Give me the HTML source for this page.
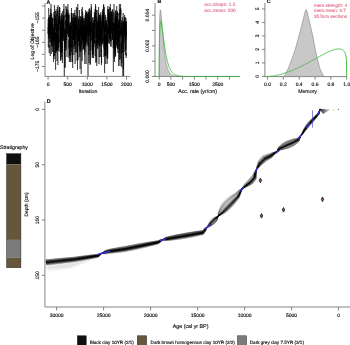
<!DOCTYPE html>
<html><head><meta charset="utf-8"><style>
html,body{margin:0;padding:0;background:#fff;}
svg{display:block;will-change:transform;text-rendering:geometricPrecision;font-family:"Liberation Sans",sans-serif;}
</style></head><body>
<svg width="350" height="345" viewBox="0 0 350 345">
<rect width="350" height="345" fill="#fff"/>
<line x1="45.0" y1="3" x2="45.0" y2="76.4" stroke="#777" stroke-width="0.9"/>
<line x1="45.0" y1="76.4" x2="130.4" y2="76.4" stroke="#777" stroke-width="0.9"/>
<line x1="42.0" y1="6.0" x2="45.0" y2="6.0" stroke="#777" stroke-width="0.9"/>
<line x1="42.0" y1="18.1" x2="45.0" y2="18.1" stroke="#777" stroke-width="0.9"/>
<line x1="42.0" y1="30.2" x2="45.0" y2="30.2" stroke="#777" stroke-width="0.9"/>
<line x1="42.0" y1="42.3" x2="45.0" y2="42.3" stroke="#777" stroke-width="0.9"/>
<line x1="42.0" y1="54.4" x2="45.0" y2="54.4" stroke="#777" stroke-width="0.9"/>
<line x1="42.0" y1="66.5" x2="45.0" y2="66.5" stroke="#777" stroke-width="0.9"/>
<text x="38.0" y="17.8" font-size="5.0" text-anchor="middle" dominant-baseline="central" fill="#111" stroke="#111" stroke-width="0.15" font-weight="normal" transform="rotate(-90 38.0 17.8)">–155</text>
<text x="38.0" y="42.0" font-size="5.0" text-anchor="middle" dominant-baseline="central" fill="#111" stroke="#111" stroke-width="0.15" font-weight="normal" transform="rotate(-90 38.0 42.0)">–165</text>
<text x="38.0" y="66.2" font-size="5.0" text-anchor="middle" dominant-baseline="central" fill="#111" stroke="#111" stroke-width="0.15" font-weight="normal" transform="rotate(-90 38.0 66.2)">–175</text>
<text x="32.8" y="41.3" font-size="5.0" text-anchor="middle" dominant-baseline="central" fill="#111" stroke="#111" stroke-width="0.15" font-weight="normal" transform="rotate(-90 32.8 41.3)">Log of Objective</text>
<line x1="48.1" y1="76.4" x2="48.1" y2="79.6" stroke="#777" stroke-width="0.9"/>
<text x="48.1" y="85.0" font-size="5.0" text-anchor="middle" dominant-baseline="central" fill="#111" stroke="#111" stroke-width="0.15" font-weight="normal">0</text>
<line x1="67.7" y1="76.4" x2="67.7" y2="79.6" stroke="#777" stroke-width="0.9"/>
<text x="67.7" y="85.0" font-size="5.0" text-anchor="middle" dominant-baseline="central" fill="#111" stroke="#111" stroke-width="0.15" font-weight="normal">500</text>
<line x1="87.30000000000001" y1="76.4" x2="87.30000000000001" y2="79.6" stroke="#777" stroke-width="0.9"/>
<text x="87.30000000000001" y="85.0" font-size="5.0" text-anchor="middle" dominant-baseline="central" fill="#111" stroke="#111" stroke-width="0.15" font-weight="normal">1000</text>
<line x1="106.9" y1="76.4" x2="106.9" y2="79.6" stroke="#777" stroke-width="0.9"/>
<text x="106.9" y="85.0" font-size="5.0" text-anchor="middle" dominant-baseline="central" fill="#111" stroke="#111" stroke-width="0.15" font-weight="normal">1500</text>
<line x1="126.5" y1="76.4" x2="126.5" y2="79.6" stroke="#777" stroke-width="0.9"/>
<text x="126.5" y="85.0" font-size="5.0" text-anchor="middle" dominant-baseline="central" fill="#111" stroke="#111" stroke-width="0.15" font-weight="normal">2000</text>
<text x="88" y="91.8" font-size="5.2" text-anchor="middle" dominant-baseline="central" fill="#111" stroke="#111" stroke-width="0.15" font-weight="normal">Iteration</text>
<text x="48.4" y="2.6" font-size="5.3" text-anchor="middle" dominant-baseline="central" fill="#111" stroke="#111" stroke-width="0.15" font-weight="bold">A</text>
<polyline points="48.0,27 48.0,34 48.1,30 48.1,26 48.2,19 48.2,22 48.2,38 48.3,39 48.3,47 48.4,41 48.4,40 48.4,37 48.5,17 48.5,32 48.6,37 48.6,39 48.7,17 48.7,8 48.7,11 48.8,15 48.8,25 48.9,27 48.9,34 48.9,25 49.0,31 49.0,35 49.1,25 49.1,48 49.1,45 49.2,53 49.2,33 49.3,24 49.3,23 49.3,26 49.4,35 49.4,35 49.5,28 49.5,19 49.5,19 49.6,38 49.6,25 49.7,30 49.7,35 49.7,17 49.8,24 49.8,42 49.9,15 49.9,19 50.0,23 50.0,19 50.0,29 50.1,29 50.1,15 50.2,31 50.2,38 50.2,45 50.3,56 50.3,47 50.4,39 50.4,21 50.4,32 50.5,24 50.5,23 50.6,14 50.6,13 50.6,16 50.7,37 50.7,13 50.8,9 50.8,21 50.8,41 50.9,42 50.9,17 51.0,4 51.0,18 51.1,17 51.1,13 51.1,31 51.2,43 51.2,38 51.3,37 51.3,38 51.3,54 51.4,49 51.4,46 51.5,44 51.5,20 51.5,39 51.6,46 51.6,44 51.7,17 51.7,17 51.7,32 51.8,14 51.8,19 51.9,36 51.9,19 51.9,43 52.0,43 52.0,34 52.1,36 52.1,41 52.2,37 52.2,47 52.2,31 52.3,26 52.3,40 52.4,35 52.4,23 52.4,37 52.5,52 52.5,35 52.6,18 52.6,23 52.6,25 52.7,24 52.7,43 52.8,25 52.8,42 52.8,22 52.9,18 52.9,31 53.0,44 53.0,47 53.0,42 53.1,38 53.1,36 53.2,39 53.2,33 53.2,34 53.3,39 53.3,34 53.4,41 53.4,42 53.5,62 53.5,49 53.5,34 53.6,28 53.6,29 53.7,40 53.7,31 53.7,35 53.8,56 53.8,15 53.9,12 53.9,23 53.9,31 54.0,33 54.0,27 54.1,36 54.1,36 54.1,27 54.2,59 54.2,48 54.3,32 54.3,30 54.3,28 54.4,28 54.4,5 54.5,12 54.5,31 54.6,19 54.6,23 54.6,37 54.7,44 54.7,56 54.8,23 54.8,23 54.8,23 54.9,33 54.9,45 55.0,11 55.0,31 55.0,16 55.1,30 55.1,15 55.2,24 55.2,40 55.2,33 55.3,34 55.3,41 55.4,37 55.4,32 55.4,50 55.5,53 55.5,37 55.6,70 55.6,34 55.7,43 55.7,33 55.7,33 55.8,40 55.8,37 55.9,41 55.9,19 55.9,11 56.0,26 56.0,18 56.1,14 56.1,9 56.1,31 56.2,39 56.2,53 56.3,30 56.3,30 56.3,19 56.4,32 56.4,51 56.5,29 56.5,49 56.5,51 56.6,38 56.6,14 56.7,37 56.7,32 56.7,25 56.8,32 56.8,35 56.9,51 56.9,28 57.0,42 57.0,55 57.0,61 57.1,42 57.1,28 57.2,41 57.2,36 57.2,35 57.3,50 57.3,36 57.4,11 57.4,16 57.4,7 57.5,25 57.5,31 57.6,24 57.6,27 57.6,38 57.7,35 57.7,49 57.8,38 57.8,47 57.8,57 57.9,65 57.9,38 58.0,44 58.0,17 58.1,14 58.1,5 58.1,26 58.2,16 58.2,23 58.3,24 58.3,27 58.3,22 58.4,29 58.4,51 58.5,40 58.5,41 58.5,48 58.6,36 58.6,20 58.7,19 58.7,36 58.7,17 58.8,17 58.8,34 58.9,41 58.9,36 58.9,42 59.0,38 59.0,21 59.1,11 59.1,14 59.2,31 59.2,25 59.2,18 59.3,17 59.3,10 59.4,18 59.4,13 59.4,24 59.5,7 59.5,20 59.6,19 59.6,7 59.6,24 59.7,24 59.7,8 59.8,10 59.8,22 59.8,21 59.9,34 59.9,41 60.0,43 60.0,40 60.0,52 60.1,49 60.1,44 60.2,16 60.2,32 60.2,47 60.3,34 60.3,27 60.4,52 60.4,21 60.5,30 60.5,61 60.5,33 60.6,40 60.6,59 60.7,42 60.7,43 60.7,47 60.8,28 60.8,28 60.9,32 60.9,41 60.9,35 61.0,30 61.0,20 61.1,21 61.1,35 61.1,34 61.2,23 61.2,18 61.3,56 61.3,57 61.3,51 61.4,13 61.4,27 61.5,34 61.5,53 61.6,46 61.6,37 61.6,40 61.7,15 61.7,33 61.8,35 61.8,25 61.8,43 61.9,60 61.9,28 62.0,22 62.0,29 62.0,31 62.1,26 62.1,19 62.2,49 62.2,52 62.2,27 62.3,15 62.3,41 62.4,48 62.4,63 62.4,56 62.5,32 62.5,34 62.6,11 62.6,13 62.7,21 62.7,31 62.7,23 62.8,25 62.8,32 62.9,35 62.9,40 62.9,37 63.0,30 63.0,39 63.1,35 63.1,24 63.1,21 63.2,25 63.2,26 63.3,30 63.3,30 63.3,32 63.4,29 63.4,17 63.5,28 63.5,41 63.5,40 63.6,33 63.6,37 63.7,23 63.7,9 63.7,19 63.8,16 63.8,30 63.9,19 63.9,4 64.0,7 64.0,33 64.0,27 64.1,15 64.1,15 64.2,27 64.2,34 64.2,34 64.3,76 64.3,76 64.4,39 64.4,41 64.4,57 64.5,55 64.5,55 64.6,29 64.6,28 64.6,37 64.7,30 64.7,43 64.8,43 64.8,48 64.8,36 64.9,67 64.9,64 65.0,43 65.0,37 65.1,68 65.1,43 65.1,47 65.2,51 65.2,40 65.3,22 65.3,28 65.3,33 65.4,45 65.4,47 65.5,38 65.5,44 65.5,44 65.6,39 65.6,35 65.7,30 65.7,38 65.7,23 65.8,20 65.8,25 65.9,14 65.9,17 65.9,6 66.0,11 66.0,25 66.1,34 66.1,31 66.1,28 66.2,15 66.2,43 66.3,42 66.3,50 66.4,29 66.4,28 66.4,12 66.5,28 66.5,40 66.6,16 66.6,22 66.6,33 66.7,14 66.7,7 66.8,8 66.8,13 66.8,9 66.9,19 66.9,27 67.0,35 67.0,41 67.0,54 67.1,57 67.1,27 67.2,24 67.2,17 67.2,13 67.3,20 67.3,25 67.4,33 67.4,16 67.5,12 67.5,20 67.5,23 67.6,23 67.6,26 67.7,20 67.7,32 67.7,35 67.8,32 67.8,24 67.9,25 67.9,4 67.9,8 68.0,18 68.0,10 68.1,21 68.1,27 68.1,15 68.2,20 68.2,22 68.3,31 68.3,37 68.3,33 68.4,23 68.4,25 68.5,27 68.5,37 68.6,37 68.6,25 68.6,15 68.7,18 68.7,17 68.8,13 68.8,20 68.8,20 68.9,26 68.9,34 69.0,27 69.0,58 69.0,39 69.1,48 69.1,40 69.2,49 69.2,15 69.2,15 69.3,24 69.3,34 69.4,62 69.4,49 69.4,56 69.5,52 69.5,53 69.6,47 69.6,36 69.6,39 69.7,23 69.7,40 69.8,24 69.8,29 69.9,56 69.9,39 69.9,35 70.0,46 70.0,38 70.1,25 70.1,30 70.1,37 70.2,42 70.2,27 70.3,50 70.3,62 70.3,45 70.4,40 70.4,30 70.5,47 70.5,30 70.5,38 70.6,28 70.6,22 70.7,34 70.7,48 70.7,38 70.8,27 70.8,37 70.9,33 70.9,35 71.0,51 71.0,55 71.0,35 71.1,62 71.1,45 71.2,47 71.2,31 71.2,30 71.3,13 71.3,41 71.4,52 71.4,27 71.4,14 71.5,8 71.5,29 71.6,25 71.6,27 71.6,25 71.7,26 71.7,17 71.8,24 71.8,13 71.8,20 71.9,28 71.9,34 72.0,30 72.0,21 72.1,27 72.1,23 72.1,45 72.2,47 72.2,37 72.3,28 72.3,22 72.3,17 72.4,20 72.4,28 72.5,35 72.5,39 72.5,62 72.6,36 72.6,33 72.7,68 72.7,26 72.7,23 72.8,28 72.8,31 72.9,35 72.9,30 72.9,34 73.0,33 73.0,40 73.1,16 73.1,14 73.1,22 73.2,16 73.2,13 73.3,27 73.3,22 73.4,33 73.4,40 73.4,38 73.5,40 73.5,34 73.6,18 73.6,23 73.6,31 73.7,25 73.7,26 73.8,37 73.8,24 73.8,34 73.9,55 73.9,35 74.0,34 74.0,30 74.0,49 74.1,43 74.1,47 74.2,30 74.2,30 74.2,30 74.3,13 74.3,36 74.4,44 74.4,18 74.5,32 74.5,29 74.5,35 74.6,37 74.6,18 74.7,22 74.7,43 74.7,30 74.8,20 74.8,12 74.9,10 74.9,22 74.9,46 75.0,43 75.0,39 75.1,64 75.1,39 75.1,27 75.2,34 75.2,39 75.3,23 75.3,15 75.3,25 75.4,30 75.4,17 75.5,21 75.5,20 75.6,30 75.6,29 75.6,28 75.7,25 75.7,40 75.8,52 75.8,36 75.8,43 75.9,28 75.9,30 76.0,38 76.0,53 76.0,36 76.1,32 76.1,33 76.2,17 76.2,23 76.2,20 76.3,29 76.3,18 76.4,7 76.4,18 76.4,26 76.5,22 76.5,36 76.6,30 76.6,24 76.6,32 76.7,16 76.7,16 76.8,22 76.8,35 76.9,31 76.9,34 76.9,25 77.0,31 77.0,51 77.1,32 77.1,61 77.1,37 77.2,33 77.2,34 77.3,44 77.3,23 77.3,8 77.4,24 77.4,36 77.5,40 77.5,70 77.5,51 77.6,43 77.6,48 77.7,43 77.7,58 77.7,29 77.8,25 77.8,4 77.9,20 77.9,21 78.0,35 78.0,60 78.0,44 78.1,34 78.1,27 78.2,20 78.2,19 78.2,31 78.3,31 78.3,31 78.4,29 78.4,40 78.4,41 78.5,34 78.5,39 78.6,33 78.6,20 78.6,41 78.7,41 78.7,25 78.8,40 78.8,39 78.8,18 78.9,42 78.9,40 79.0,46 79.0,40 79.1,33 79.1,16 79.1,33 79.2,32 79.2,28 79.3,33 79.3,32 79.3,39 79.4,30 79.4,30 79.5,10 79.5,15 79.5,29 79.6,45 79.6,33 79.7,30 79.7,49 79.7,35 79.8,41 79.8,57 79.9,43 79.9,52 79.9,32 80.0,33 80.0,31 80.1,32 80.1,44 80.1,69 80.2,40 80.2,28 80.3,35 80.3,21 80.4,31 80.4,37 80.4,30 80.5,36 80.5,17 80.6,31 80.6,16 80.6,16 80.7,17 80.7,20 80.8,34 80.8,33 80.8,27 80.9,35 80.9,52 81.0,40 81.0,39 81.0,50 81.1,43 81.1,22 81.2,56 81.2,74 81.2,26 81.3,28 81.3,33 81.4,43 81.4,45 81.5,34 81.5,21 81.5,26 81.6,40 81.6,23 81.7,17 81.7,23 81.7,9 81.8,16 81.8,19 81.9,29 81.9,22 81.9,17 82.0,20 82.0,24 82.1,20 82.1,25 82.1,36 82.2,47 82.2,61 82.3,35 82.3,28 82.3,7 82.4,37 82.4,26 82.5,27 82.5,34 82.5,18 82.6,29 82.6,29 82.7,12 82.7,23 82.8,40 82.8,16 82.8,31 82.9,33 82.9,37 83.0,38 83.0,50 83.0,37 83.1,44 83.1,32 83.2,39 83.2,26 83.2,27 83.3,49 83.3,45 83.4,35 83.4,21 83.4,18 83.5,25 83.5,38 83.6,39 83.6,41 83.6,35 83.7,49 83.7,34 83.8,26 83.8,38 83.9,35 83.9,29 83.9,24 84.0,24 84.0,34 84.1,36 84.1,20 84.1,29 84.2,32 84.2,21 84.3,33 84.3,29 84.3,26 84.4,37 84.4,50 84.5,31 84.5,36 84.5,23 84.6,55 84.6,36 84.7,47 84.7,31 84.7,40 84.8,64 84.8,18 84.9,19 84.9,30 85.0,29 85.0,23 85.0,52 85.1,41 85.1,18 85.2,33 85.2,15 85.2,34 85.3,26 85.3,29 85.4,45 85.4,38 85.4,20 85.5,10 85.5,31 85.6,39 85.6,26 85.6,37 85.7,39 85.7,42 85.8,13 85.8,18 85.8,34 85.9,40 85.9,46 86.0,13 86.0,22 86.0,31 86.1,64 86.1,34 86.2,28 86.2,30 86.3,40 86.3,30 86.3,43 86.4,28 86.4,32 86.5,25 86.5,29 86.5,23 86.6,12 86.6,31 86.7,34 86.7,26 86.7,30 86.8,42 86.8,25 86.9,26 86.9,34 86.9,38 87.0,30 87.0,11 87.1,32 87.1,35 87.1,32 87.2,28 87.2,32 87.3,26 87.3,18 87.4,17 87.4,17 87.4,18 87.5,13 87.5,27 87.6,16 87.6,29 87.6,19 87.7,28 87.7,45 87.8,40 87.8,27 87.8,29 87.9,31 87.9,14 88.0,16 88.0,76 88.0,22 88.1,27 88.1,37 88.2,42 88.2,47 88.2,45 88.3,34 88.3,32 88.4,28 88.4,26 88.5,26 88.5,12 88.5,17 88.6,23 88.6,17 88.7,23 88.7,32 88.7,29 88.8,55 88.8,15 88.9,20 88.9,9 88.9,28 89.0,63 89.0,18 89.1,25 89.1,33 89.1,28 89.2,35 89.2,11 89.3,28 89.3,33 89.3,32 89.4,25 89.4,34 89.5,27 89.5,31 89.5,25 89.6,8 89.6,17 89.7,25 89.7,36 89.8,24 89.8,26 89.8,35 89.9,34 89.9,47 90.0,65 90.0,35 90.0,14 90.1,30 90.1,48 90.2,51 90.2,50 90.2,32 90.3,24 90.3,37 90.4,24 90.4,10 90.4,11 90.5,48 90.5,64 90.6,37 90.6,26 90.6,30 90.7,22 90.7,41 90.8,34 90.8,21 90.9,40 90.9,28 90.9,32 91.0,31 91.0,27 91.1,32 91.1,24 91.1,10 91.2,4 91.2,5 91.3,10 91.3,19 91.3,25 91.4,33 91.4,33 91.5,23 91.5,20 91.5,7 91.6,15 91.6,27 91.7,34 91.7,31 91.7,29 91.8,40 91.8,35 91.9,41 91.9,42 92.0,39 92.0,50 92.0,33 92.1,28 92.1,21 92.2,18 92.2,41 92.2,58 92.3,43 92.3,43 92.4,51 92.4,50 92.4,55 92.5,27 92.5,22 92.6,31 92.6,48 92.6,40 92.7,25 92.7,24 92.8,20 92.8,17 92.8,40 92.9,28 92.9,29 93.0,56 93.0,58 93.0,47 93.1,31 93.1,35 93.2,53 93.2,49 93.3,55 93.3,43 93.3,43 93.4,34 93.4,37 93.5,49 93.5,23 93.5,26 93.6,31 93.6,24 93.7,24 93.7,36 93.7,58 93.8,51 93.8,44 93.9,20 93.9,47 93.9,39 94.0,34 94.0,20 94.1,25 94.1,17 94.1,24 94.2,32 94.2,31 94.3,34 94.3,23 94.4,43 94.4,29 94.4,12 94.5,19 94.5,17 94.6,14 94.6,18 94.6,27 94.7,17 94.7,22 94.8,42 94.8,44 94.8,35 94.9,34 94.9,31 95.0,30 95.0,38 95.0,33 95.1,9 95.1,18 95.2,16 95.2,29 95.2,23 95.3,28 95.3,56 95.4,30 95.4,19 95.4,11 95.5,4 95.5,4 95.6,16 95.6,17 95.7,7 95.7,6 95.7,22 95.8,18 95.8,20 95.9,28 95.9,45 95.9,63 96.0,59 96.0,45 96.1,40 96.1,58 96.1,62 96.2,41 96.2,41 96.3,39 96.3,35 96.3,27 96.4,16 96.4,17 96.5,10 96.5,31 96.5,37 96.6,21 96.6,41 96.7,46 96.7,18 96.8,44 96.8,47 96.8,66 96.9,32 96.9,37 97.0,38 97.0,36 97.0,35 97.1,45 97.1,21 97.2,14 97.2,10 97.2,14 97.3,16 97.3,26 97.4,31 97.4,31 97.4,23 97.5,22 97.5,36 97.6,42 97.6,37 97.6,30 97.7,49 97.7,32 97.8,38 97.8,48 97.9,36 97.9,43 97.9,24 98.0,38 98.0,36 98.1,17 98.1,30 98.1,21 98.2,40 98.2,27 98.3,27 98.3,31 98.3,27 98.4,31 98.4,25 98.5,35 98.5,32 98.5,34 98.6,7 98.6,29 98.7,30 98.7,13 98.7,22 98.8,31 98.8,43 98.9,24 98.9,45 98.9,35 99.0,64 99.0,44 99.1,45 99.1,33 99.2,20 99.2,37 99.2,44 99.3,57 99.3,54 99.4,34 99.4,16 99.4,16 99.5,17 99.5,15 99.6,28 99.6,33 99.6,28 99.7,31 99.7,29 99.8,32 99.8,40 99.8,46 99.9,30 99.9,15 100.0,38 100.0,35 100.0,46 100.1,20 100.1,22 100.2,26 100.2,14 100.3,17 100.3,31 100.3,43 100.4,57 100.4,32 100.5,17 100.5,29 100.5,40 100.6,37 100.6,20 100.7,33 100.7,41 100.7,42 100.8,30 100.8,34 100.9,41 100.9,29 100.9,12 101.0,24 101.0,32 101.1,31 101.1,41 101.1,29 101.2,28 101.2,26 101.3,34 101.3,52 101.4,37 101.4,60 101.4,65 101.5,57 101.5,50 101.6,63 101.6,43 101.6,35 101.7,21 101.7,31 101.8,46 101.8,44 101.8,42 101.9,34 101.9,34 102.0,17 102.0,35 102.0,28 102.1,18 102.1,17 102.2,15 102.2,31 102.2,43 102.3,22 102.3,36 102.4,44 102.4,30 102.4,15 102.5,15 102.5,16 102.6,26 102.6,24 102.7,9 102.7,21 102.7,11 102.8,29 102.8,18 102.9,17 102.9,15 102.9,17 103.0,37 103.0,44 103.1,44 103.1,41 103.1,19 103.2,19 103.2,19 103.3,15 103.3,27 103.3,21 103.4,19 103.4,14 103.5,5 103.5,21 103.5,41 103.6,37 103.6,23 103.7,4 103.7,17 103.8,36 103.8,36 103.8,44 103.9,56 103.9,57 104.0,37 104.0,46 104.0,48 104.1,22 104.1,22 104.2,13 104.2,20 104.2,31 104.3,20 104.3,7 104.4,30 104.4,34 104.4,50 104.5,25 104.5,39 104.6,62 104.6,73 104.6,47 104.7,41 104.7,34 104.8,44 104.8,50 104.9,40 104.9,21 104.9,33 105.0,27 105.0,35 105.1,36 105.1,53 105.1,56 105.2,37 105.2,37 105.3,56 105.3,36 105.3,38 105.4,48 105.4,55 105.5,48 105.5,24 105.5,15 105.6,25 105.6,31 105.7,64 105.7,35 105.7,46 105.8,47 105.8,20 105.9,17 105.9,25 105.9,22 106.0,25 106.0,32 106.1,23 106.1,31 106.2,24 106.2,21 106.2,31 106.3,25 106.3,30 106.4,50 106.4,40 106.4,33 106.5,40 106.5,31 106.6,43 106.6,23 106.6,33 106.7,26 106.7,20 106.8,45 106.8,28 106.8,50 106.9,48 106.9,58 107.0,31 107.0,45 107.0,56 107.1,41 107.1,34 107.2,64 107.2,48 107.3,34 107.3,25 107.3,32 107.4,35 107.4,34 107.5,54 107.5,37 107.5,39 107.6,53 107.6,29 107.7,42 107.7,59 107.7,28 107.8,18 107.8,14 107.9,6 107.9,21 107.9,9 108.0,23 108.0,43 108.1,19 108.1,21 108.1,9 108.2,26 108.2,21 108.3,22 108.3,27 108.4,34 108.4,28 108.4,29 108.5,24 108.5,28 108.6,18 108.6,24 108.6,10 108.7,15 108.7,43 108.8,37 108.8,20 108.8,28 108.9,19 108.9,10 109.0,13 109.0,28 109.0,33 109.1,31 109.1,21 109.2,15 109.2,37 109.2,36 109.3,23 109.3,8 109.4,7 109.4,44 109.4,24 109.5,26 109.5,30 109.6,28 109.6,26 109.7,15 109.7,13 109.7,39 109.8,26 109.8,38 109.9,17 109.9,20 109.9,28 110.0,41 110.0,23 110.1,33 110.1,36 110.1,25 110.2,33 110.2,22 110.3,18 110.3,24 110.3,4 110.4,14 110.4,13 110.5,8 110.5,14 110.5,30 110.6,26 110.6,42 110.7,23 110.7,14 110.8,38 110.8,39 110.8,46 110.9,28 110.9,38 111.0,37 111.0,41 111.0,36 111.1,47 111.1,31 111.2,21 111.2,12 111.2,32 111.3,23 111.3,17 111.4,14 111.4,18 111.4,12 111.5,18 111.5,18 111.6,18 111.6,15 111.6,22 111.7,22 111.7,27 111.8,31 111.8,34 111.8,11 111.9,15 111.9,15 112.0,30 112.0,15 112.1,15 112.1,19 112.1,21 112.2,36 112.2,28 112.3,40 112.3,20 112.3,9 112.4,31 112.4,35 112.5,38 112.5,35 112.5,38 112.6,21 112.6,36 112.7,27 112.7,40 112.7,36 112.8,14 112.8,10 112.9,31 112.9,29 112.9,25 113.0,30 113.0,26 113.1,22 113.1,27 113.2,30 113.2,48 113.2,39 113.3,59 113.3,69 113.4,72 113.4,64 113.4,47 113.5,40 113.5,33 113.6,24 113.6,26 113.6,22 113.7,45 113.7,43 113.8,31 113.8,12 113.8,20 113.9,21 113.9,15 114.0,12 114.0,4 114.0,20 114.1,24 114.1,59 114.2,43 114.2,35 114.3,50 114.3,41 114.3,37 114.4,29 114.4,23 114.5,44 114.5,49 114.5,62 114.6,40 114.6,35 114.7,23 114.7,37 114.7,19 114.8,30 114.8,43 114.9,54 114.9,30 114.9,43 115.0,28 115.0,21 115.1,13 115.1,33 115.1,52 115.2,33 115.2,24 115.3,23 115.3,57 115.3,56 115.4,36 115.4,15 115.5,16 115.5,35 115.6,56 115.6,39 115.6,27 115.7,23 115.7,10 115.8,28 115.8,18 115.8,35 115.9,16 115.9,11 116.0,23 116.0,19 116.0,32 116.1,31 116.1,19 116.2,31 116.2,40 116.2,16 116.3,43 116.3,42 116.4,45 116.4,18 116.4,17 116.5,20 116.5,36 116.6,18 116.6,16 116.7,6 116.7,14 116.7,25 116.8,12 116.8,15 116.9,27 116.9,47 116.9,47 117.0,34 117.0,20 117.1,16 117.1,16 117.1,24 117.2,27 117.2,48 117.3,42 117.3,24 117.3,45 117.4,49 117.4,40 117.5,27 117.5,11 117.5,11 117.6,29 117.6,21 117.7,13 117.7,23 117.8,29 117.8,36 117.8,41 117.9,53 117.9,31 118.0,42 118.0,25 118.0,35 118.1,35 118.1,35 118.2,44 118.2,37 118.2,47 118.3,49 118.3,41 118.4,29 118.4,22 118.4,21 118.5,23 118.5,26 118.6,66 118.6,55 118.6,52 118.7,30 118.7,23 118.8,23 118.8,28 118.8,19 118.9,42 118.9,30 119.0,42 119.0,13 119.1,21 119.1,28 119.1,31 119.2,37 119.2,37 119.3,35 119.3,14 119.3,15 119.4,4 119.4,21 119.5,28 119.5,27 119.5,20 119.6,19 119.6,46 119.7,60 119.7,43 119.7,53 119.8,23 119.8,9 119.9,14 119.9,14 119.9,16 120.0,25 120.0,66 120.1,38 120.1,35 120.2,35 120.2,32 120.2,42 120.3,59 120.3,29 120.4,31 120.4,28 120.4,33 120.5,16 120.5,8 120.6,4 120.6,18 120.6,25 120.7,28 120.7,8 120.8,15 120.8,15 120.8,10 120.9,11 120.9,27 121.0,34 121.0,32 121.0,37 121.1,27 121.1,29 121.2,30 121.2,36 121.3,32 121.3,30 121.3,28 121.4,23 121.4,53 121.5,47 121.5,44 121.5,67 121.6,67 121.6,29 121.7,37 121.7,44 121.7,61 121.8,63 121.8,55 121.9,28 121.9,20 121.9,28 122.0,34 122.0,22 122.1,22 122.1,22 122.1,26 122.2,32 122.2,28 122.3,17 122.3,36 122.3,53 122.4,40 122.4,47 122.5,44 122.5,45 122.6,43 122.6,28 122.6,35 122.7,45 122.7,27 122.8,52 122.8,70 122.8,75 122.9,76 122.9,63 123.0,41 123.0,29 123.0,21 123.1,27 123.1,28 123.2,36 123.2,13 123.2,47 123.3,69 123.3,48 123.4,47 123.4,44 123.4,40 123.5,32 123.5,30 123.6,21 123.6,76 123.7,28 123.7,33 123.7,22 123.8,27 123.8,29 123.9,36 123.9,22 123.9,30 124.0,42 124.0,43 124.1,32 124.1,26 124.1,25 124.2,36 124.2,52 124.3,39 124.3,27 124.3,33 124.4,34 124.4,22 124.5,19 124.5,23 124.5,34 124.6,20 124.6,15 124.7,27 124.7,17 124.8,24 124.8,31 124.8,29 124.9,19 124.9,24 125.0,23 125.0,30 125.0,22 125.1,38 125.1,17 125.2,21 125.2,26 125.2,39 125.3,28 125.3,35 125.4,26 125.4,36 125.4,55 125.5,37 125.5,39 125.6,24 125.6,38 125.6,49 125.7,39 125.7,22 125.8,30 125.8,44 125.8,50 125.9,50 125.9,20 126.0,18 126.0,40 126.1,22 126.1,38 126.1,58 126.2,53 126.2,56 126.3,38 126.3,21 126.3,24 126.4,25 126.4,27 126.5,36 126.5,31" fill="none" stroke="#000" stroke-width="0.5"/>
<line x1="155" y1="3" x2="155" y2="76.5" stroke="#777" stroke-width="0.9"/>
<line x1="152" y1="76.5" x2="155" y2="76.5" stroke="#777" stroke-width="0.9"/>
<line x1="152" y1="61.17" x2="155" y2="61.17" stroke="#777" stroke-width="0.9"/>
<line x1="152" y1="45.84" x2="155" y2="45.84" stroke="#777" stroke-width="0.9"/>
<line x1="152" y1="30.509999999999998" x2="155" y2="30.509999999999998" stroke="#777" stroke-width="0.9"/>
<line x1="152" y1="15.18" x2="155" y2="15.18" stroke="#777" stroke-width="0.9"/>
<text x="148.3" y="76.5" font-size="5.0" text-anchor="middle" dominant-baseline="central" fill="#111" stroke="#111" stroke-width="0.15" font-weight="normal" transform="rotate(-90 148.3 76.5)">0.000</text>
<text x="148.3" y="45.84" font-size="5.0" text-anchor="middle" dominant-baseline="central" fill="#111" stroke="#111" stroke-width="0.15" font-weight="normal" transform="rotate(-90 148.3 45.84)">0.002</text>
<text x="148.3" y="15.18" font-size="5.0" text-anchor="middle" dominant-baseline="central" fill="#111" stroke="#111" stroke-width="0.15" font-weight="normal" transform="rotate(-90 148.3 15.18)">0.004</text>
<line x1="155" y1="76.5" x2="240" y2="76.5" stroke="#777" stroke-width="0.9"/>
<line x1="159.2" y1="76.5" x2="159.2" y2="79.6" stroke="#777" stroke-width="0.9"/>
<line x1="170.89999999999998" y1="76.5" x2="170.89999999999998" y2="79.6" stroke="#777" stroke-width="0.9"/>
<line x1="182.6" y1="76.5" x2="182.6" y2="79.6" stroke="#777" stroke-width="0.9"/>
<line x1="194.29999999999998" y1="76.5" x2="194.29999999999998" y2="79.6" stroke="#777" stroke-width="0.9"/>
<line x1="206.0" y1="76.5" x2="206.0" y2="79.6" stroke="#777" stroke-width="0.9"/>
<line x1="217.7" y1="76.5" x2="217.7" y2="79.6" stroke="#777" stroke-width="0.9"/>
<line x1="229.39999999999998" y1="76.5" x2="229.39999999999998" y2="79.6" stroke="#777" stroke-width="0.9"/>
<text x="159.2" y="85.3" font-size="5.0" text-anchor="middle" dominant-baseline="central" fill="#111" stroke="#111" stroke-width="0.15" font-weight="normal">0</text>
<text x="170.89999999999998" y="85.3" font-size="5.0" text-anchor="middle" dominant-baseline="central" fill="#111" stroke="#111" stroke-width="0.15" font-weight="normal">500</text>
<text x="194.29999999999998" y="85.3" font-size="5.0" text-anchor="middle" dominant-baseline="central" fill="#111" stroke="#111" stroke-width="0.15" font-weight="normal">1500</text>
<text x="217.7" y="85.3" font-size="5.0" text-anchor="middle" dominant-baseline="central" fill="#111" stroke="#111" stroke-width="0.15" font-weight="normal">2500</text>
<text x="197.6" y="92.3" font-size="5.3" text-anchor="middle" dominant-baseline="central" fill="#111" stroke="#111" stroke-width="0.15" font-weight="normal">Acc. rate (yr/cm)</text>
<text x="159.5" y="2.2" font-size="5.3" text-anchor="middle" dominant-baseline="central" fill="#111" stroke="#111" stroke-width="0.15" font-weight="bold">B</text>
<polygon points="159.2,76.5 159.20,76.50 159.39,35.85 159.57,23.43 159.76,16.51 159.95,12.55 160.14,10.50 160.32,9.76 160.51,9.95 160.70,10.83 160.88,12.20 161.07,13.93 161.26,15.92 161.45,18.09 161.63,20.38 161.82,22.74 162.01,25.13 162.20,27.53 162.38,29.90 162.57,32.24 162.76,34.52 162.94,36.74 163.13,38.89 163.32,40.97 163.51,42.96 163.69,44.87 163.88,46.70 164.07,48.45 164.25,50.11 164.44,51.69 164.63,53.20 164.82,54.62 165.00,55.97 165.19,57.24 165.38,58.45 165.56,59.59 165.75,60.66 165.94,61.67 166.13,62.62 166.31,63.52 166.50,64.36 166.69,65.15 166.88,65.89 167.06,66.59 167.25,67.24 167.44,67.85 167.62,68.43 167.81,68.97 168.00,69.47 168.19,69.94 168.37,70.38 168.56,70.80 168.75,71.18 168.93,71.54 169.12,71.88 169.31,72.20 169.50,72.49 169.68,72.77 169.87,73.02 170.06,73.26 170.24,73.48 170.43,73.69 170.62,73.89 170.81,74.07 170.99,74.24 171.18,74.39 171.37,74.54 171.56,74.68 171.74,74.81 171.93,74.92 172.12,75.03 172.30,75.14 172.49,75.23 172.68,75.32 172.87,75.41 173.05,75.48 173.24,75.55 173.43,75.62 173.61,75.68 173.80,75.74 173.99,75.80 174.18,75.85 174.36,75.89 174.55,75.94 174.74,75.98 174.92,76.01 175.11,76.05 175.30,76.08 175.49,76.11 175.67,76.14 175.86,76.16 176.05,76.19 176.24,76.21 176.42,76.23 176.61,76.25 176.80,76.27 176.98,76.29 177.17,76.30 177.36,76.32 177.55,76.33 177.73,76.34 177.92,76.35 178.11,76.36 178.29,76.37 178.48,76.38 178.67,76.39 178.86,76.40 179.04,76.41 179.23,76.41 179.42,76.42 179.60,76.42 179.79,76.43 179.98,76.44 180.17,76.44 180.35,76.44 180.54,76.45 180.73,76.45 180.92,76.46 181.10,76.46 181.29,76.46 181.48,76.46 181.66,76.47 181.85,76.47 182.04,76.47 182.23,76.47 182.41,76.48 182.60,76.48 182.79,76.48 182.97,76.48 183.16,76.48 183.35,76.48 183.54,76.48 183.72,76.49 183.91,76.49 184.10,76.49 184.28,76.49 184.47,76.49 184.66,76.49 184.85,76.49 185.03,76.49 185.22,76.49 185.41,76.49 185.60,76.49 185.78,76.49 185.97,76.49 186.16,76.49 186.34,76.50 186.53,76.50 186.72,76.50 186.91,76.50 187.09,76.50 187.28,76.50 187.47,76.50 187.65,76.50 187.84,76.50 188.03,76.50 188.22,76.50 188.40,76.50 188.59,76.50 188.78,76.50 188.96,76.50 189.15,76.50 189.34,76.50 189.53,76.50 189.71,76.50 189.90,76.50 190.09,76.50 190.28,76.50 190.46,76.50 190.65,76.50 190.84,76.50 191.02,76.50 191.21,76.50 191.40,76.50 191.59,76.50 191.77,76.50 191.96,76.50 192.15,76.50 192.33,76.50 192.52,76.50 192.71,76.50 192.90,76.50 193.08,76.50 193.27,76.50 193.46,76.50 193.64,76.50 193.83,76.50 194.02,76.50 194.21,76.50 194.39,76.50 194.58,76.50 194.77,76.50 194.96,76.50 195.14,76.50 195.33,76.50 195.52,76.50 195.70,76.50 195.89,76.50 196.08,76.50 196.27,76.50 196.45,76.50 196.64,76.50 196.83,76.50 197.01,76.50 197.20,76.50 197.39,76.50 197.58,76.50 197.76,76.50 197.95,76.50 198.14,76.50 198.32,76.50 198.51,76.50 198.70,76.50 198.89,76.50 199.07,76.50 199.26,76.50 199.45,76.50 199.64,76.50 199.82,76.50 200.01,76.50 200.20,76.50 200.38,76.50 200.57,76.50 200.76,76.50 200.95,76.50 201.13,76.50 201.32,76.50 201.51,76.50 201.69,76.50 201.88,76.50 202.07,76.50 202.26,76.50 202.44,76.50 202.63,76.50 202.82,76.50 203.00,76.50 203.19,76.50 203.38,76.50 203.57,76.50 203.75,76.50 203.94,76.50 204.13,76.50 204.32,76.50 204.50,76.50 204.69,76.50 204.88,76.50 205.06,76.50 205.25,76.50 205.44,76.50 205.63,76.50 205.81,76.50 206.00,76.50 206.19,76.50 206.37,76.50 206.56,76.50 206.75,76.50 206.94,76.50 207.12,76.50 207.31,76.50 207.50,76.50 207.68,76.50 207.87,76.50 208.06,76.50 208.25,76.50 208.43,76.50 208.62,76.50 208.81,76.50 209.00,76.50 209.18,76.50 209.37,76.50 209.56,76.50 209.74,76.50 209.93,76.50 210.12,76.50 210.31,76.50 210.49,76.50 210.68,76.50 210.87,76.50 211.05,76.50 211.24,76.50 211.43,76.50 211.62,76.50 211.80,76.50 211.99,76.50 212.18,76.50 212.36,76.50 212.55,76.50 212.74,76.50 212.93,76.50 213.11,76.50 213.30,76.50 213.49,76.50 213.68,76.50 213.86,76.50 214.05,76.50 214.24,76.50 214.42,76.50 214.61,76.50 214.80,76.50 214.99,76.50 215.17,76.50 215.36,76.50 215.55,76.50 215.73,76.50 215.92,76.50 216.11,76.50 216.30,76.50 216.48,76.50 216.67,76.50 216.86,76.50 217.04,76.50 217.23,76.50 217.42,76.50 217.61,76.50 217.79,76.50 217.98,76.50 218.17,76.50 218.36,76.50 218.54,76.50 218.73,76.50 218.92,76.50 219.10,76.50 219.29,76.50 219.48,76.50 219.67,76.50 219.85,76.50 220.04,76.50 220.23,76.50 220.41,76.50 220.60,76.50 220.79,76.50 220.98,76.50 221.16,76.50 221.35,76.50 221.54,76.50 221.72,76.50 221.91,76.50 222.10,76.50 222.29,76.50 222.47,76.50 222.66,76.50 222.85,76.50 223.04,76.50 223.22,76.50 223.41,76.50 223.60,76.50 223.78,76.50 223.97,76.50 224.16,76.50 224.35,76.50 224.53,76.50 224.72,76.50 224.91,76.50 225.09,76.50 225.28,76.50 225.47,76.50 225.66,76.50 225.84,76.50 226.03,76.50 226.22,76.50 226.40,76.50 226.59,76.50 226.78,76.50 226.97,76.50 227.15,76.50 227.34,76.50 227.53,76.50 227.72,76.50 227.90,76.50 228.09,76.50 228.28,76.50 228.46,76.50 228.65,76.50 228.84,76.50 229.03,76.50 229.21,76.50 229.40,76.50 229.59,76.50 229.77,76.50 229.96,76.50 230.15,76.50 230.34,76.50 230.52,76.50 230.71,76.50 230.90,76.50 231.08,76.50 231.27,76.50 231.46,76.50 231.65,76.50 231.83,76.50 232.02,76.50 232.21,76.50 232.40,76.50 232.58,76.50 232.77,76.50 232.96,76.50 233.14,76.50 233.33,76.50 233.52,76.50 233.71,76.50 233.89,76.50 234.08,76.5" fill="#c8c8c8" stroke="#707070" stroke-width="0.5"/>
<polyline points="159.20,76.50 159.39,46.57 159.57,36.64 159.76,30.53 159.95,26.50 160.14,23.86 160.32,22.19 160.51,21.26 160.70,20.88 160.88,20.94 161.07,21.35 161.26,22.03 161.45,22.92 161.63,23.98 161.82,25.17 162.01,26.46 162.20,27.83 162.38,29.25 162.57,30.71 162.76,32.20 162.94,33.69 163.13,35.19 163.32,36.68 163.51,38.16 163.69,39.61 163.88,41.05 164.07,42.45 164.25,43.82 164.44,45.16 164.63,46.46 164.82,47.73 165.00,48.96 165.19,50.14 165.38,51.29 165.56,52.41 165.75,53.48 165.94,54.51 166.13,55.51 166.31,56.46 166.50,57.38 166.69,58.27 166.88,59.12 167.06,59.93 167.25,60.71 167.44,61.46 167.62,62.17 167.81,62.86 168.00,63.51 168.19,64.14 168.37,64.74 168.56,65.31 168.75,65.86 168.93,66.38 169.12,66.88 169.31,67.35 169.50,67.81 169.68,68.24 169.87,68.65 170.06,69.04 170.24,69.42 170.43,69.77 170.62,70.11 170.81,70.44 170.99,70.74 171.18,71.04 171.37,71.31 171.56,71.58 171.74,71.83 171.93,72.07 172.12,72.30 172.30,72.51 172.49,72.72 172.68,72.91 172.87,73.10 173.05,73.28 173.24,73.44 173.43,73.60 173.61,73.75 173.80,73.90 173.99,74.03 174.18,74.16 174.36,74.28 174.55,74.40 174.74,74.51 174.92,74.61 175.11,74.71 175.30,74.81 175.49,74.90 175.67,74.98 175.86,75.06 176.05,75.14 176.24,75.21 176.42,75.28 176.61,75.34 176.80,75.41 176.98,75.46 177.17,75.52 177.36,75.57 177.55,75.62 177.73,75.67 177.92,75.71 178.11,75.75 178.29,75.79 178.48,75.83 178.67,75.87 178.86,75.90 179.04,75.93 179.23,75.96 179.42,75.99 179.60,76.02 179.79,76.05 179.98,76.07 180.17,76.09 180.35,76.12 180.54,76.14 180.73,76.16 180.92,76.18 181.10,76.19 181.29,76.21 181.48,76.23 181.66,76.24 181.85,76.25 182.04,76.27 182.23,76.28 182.41,76.29 182.60,76.30 182.79,76.31 182.97,76.32 183.16,76.33 183.35,76.34 183.54,76.35 183.72,76.36 183.91,76.37 184.10,76.37 184.28,76.38 184.47,76.39 184.66,76.39 184.85,76.40 185.03,76.41 185.22,76.41 185.41,76.42 185.60,76.42 185.78,76.42 185.97,76.43 186.16,76.43 186.34,76.44 186.53,76.44 186.72,76.44 186.91,76.45 187.09,76.45 187.28,76.45 187.47,76.45 187.65,76.46 187.84,76.46 188.03,76.46 188.22,76.46 188.40,76.47 188.59,76.47 188.78,76.47 188.96,76.47 189.15,76.47 189.34,76.47 189.53,76.48 189.71,76.48 189.90,76.48 190.09,76.48 190.28,76.48 190.46,76.48 190.65,76.48 190.84,76.48 191.02,76.48 191.21,76.49 191.40,76.49 191.59,76.49 191.77,76.49 191.96,76.49 192.15,76.49 192.33,76.49 192.52,76.49 192.71,76.49 192.90,76.49 193.08,76.49 193.27,76.49 193.46,76.49 193.64,76.49 193.83,76.49 194.02,76.49 194.21,76.49 194.39,76.49 194.58,76.49 194.77,76.50 194.96,76.50 195.14,76.50 195.33,76.50 195.52,76.50 195.70,76.50 195.89,76.50 196.08,76.50 196.27,76.50 196.45,76.50 196.64,76.50 196.83,76.50 197.01,76.50 197.20,76.50 197.39,76.50 197.58,76.50 197.76,76.50 197.95,76.50 198.14,76.50 198.32,76.50 198.51,76.50 198.70,76.50 198.89,76.50 199.07,76.50 199.26,76.50 199.45,76.50 199.64,76.50 199.82,76.50 200.01,76.50 200.20,76.50 200.38,76.50 200.57,76.50 200.76,76.50 200.95,76.50 201.13,76.50 201.32,76.50 201.51,76.50 201.69,76.50 201.88,76.50 202.07,76.50 202.26,76.50 202.44,76.50 202.63,76.50 202.82,76.50 203.00,76.50 203.19,76.50 203.38,76.50 203.57,76.50 203.75,76.50 203.94,76.50 204.13,76.50 204.32,76.50 204.50,76.50 204.69,76.50 204.88,76.50 205.06,76.50 205.25,76.50 205.44,76.50 205.63,76.50 205.81,76.50 206.00,76.50 206.19,76.50 206.37,76.50 206.56,76.50 206.75,76.50 206.94,76.50 207.12,76.50 207.31,76.50 207.50,76.50 207.68,76.50 207.87,76.50 208.06,76.50 208.25,76.50 208.43,76.50 208.62,76.50 208.81,76.50 209.00,76.50 209.18,76.50 209.37,76.50 209.56,76.50 209.74,76.50 209.93,76.50 210.12,76.50 210.31,76.50 210.49,76.50 210.68,76.50 210.87,76.50 211.05,76.50 211.24,76.50 211.43,76.50 211.62,76.50 211.80,76.50 211.99,76.50 212.18,76.50 212.36,76.50 212.55,76.50 212.74,76.50 212.93,76.50 213.11,76.50 213.30,76.50 213.49,76.50 213.68,76.50 213.86,76.50 214.05,76.50 214.24,76.50 214.42,76.50 214.61,76.50 214.80,76.50 214.99,76.50 215.17,76.50 215.36,76.50 215.55,76.50 215.73,76.50 215.92,76.50 216.11,76.50 216.30,76.50 216.48,76.50 216.67,76.50 216.86,76.50 217.04,76.50 217.23,76.50 217.42,76.50 217.61,76.50 217.79,76.50 217.98,76.50 218.17,76.50 218.36,76.50 218.54,76.50 218.73,76.50 218.92,76.50 219.10,76.50 219.29,76.50 219.48,76.50 219.67,76.50 219.85,76.50 220.04,76.50 220.23,76.50 220.41,76.50 220.60,76.50 220.79,76.50 220.98,76.50 221.16,76.50 221.35,76.50 221.54,76.50 221.72,76.50 221.91,76.50 222.10,76.50 222.29,76.50 222.47,76.50 222.66,76.50 222.85,76.50 223.04,76.50 223.22,76.50 223.41,76.50 223.60,76.50 223.78,76.50 223.97,76.50 224.16,76.50 224.35,76.50 224.53,76.50 224.72,76.50 224.91,76.50 225.09,76.50 225.28,76.50 225.47,76.50 225.66,76.50 225.84,76.50 226.03,76.50 226.22,76.50 226.40,76.50 226.59,76.50 226.78,76.50 226.97,76.50 227.15,76.50 227.34,76.50 227.53,76.50 227.72,76.50 227.90,76.50 228.09,76.50 228.28,76.50 228.46,76.50 228.65,76.50 228.84,76.50 229.03,76.50 229.21,76.50 229.40,76.50 229.59,76.50 229.77,76.50 229.96,76.50 230.15,76.50 230.34,76.50 230.52,76.50 230.71,76.50 230.90,76.50 231.08,76.50 231.27,76.50 231.46,76.50 231.65,76.50 231.83,76.50 232.02,76.50 232.21,76.50 232.40,76.50 232.58,76.50 232.77,76.50 232.96,76.50 233.14,76.50 233.33,76.50 233.52,76.50 233.71,76.50 233.89,76.50 234.08,76.50 234.27,76.50 234.45,76.50 234.64,76.50 234.83,76.50 235.02,76.50 235.20,76.50 235.39,76.50 235.58,76.50 235.76,76.50 235.95,76.50 236.14,76.50 236.33,76.50 236.51,76.50 236.70,76.50 236.89,76.50 237.08,76.50 237.26,76.50 237.45,76.50 237.64,76.50 237.82,76.50 238.01,76.50 238.20,76.50 238.39,76.50 238.57,76.50 238.76,76.50 238.95,76.50 239.13,76.50 239.32,76.50 239.51,76.50 239.70,76.50 239.88,76.50" fill="none" stroke="#45c040" stroke-width="1.0"/>
<text x="204.3" y="5.4" font-size="4.8" text-anchor="start" dominant-baseline="central" fill="#e27590" stroke="#e27590" stroke-width="0.15" font-weight="normal">acc.shape: 1.5</text>
<text x="204.3" y="11.0" font-size="4.8" text-anchor="start" dominant-baseline="central" fill="#e27590" stroke="#e27590" stroke-width="0.15" font-weight="normal">acc.mean: 200</text>
<line x1="264.9" y1="3" x2="264.9" y2="76.6" stroke="#777" stroke-width="0.9"/>
<line x1="261.9" y1="76.4" x2="264.9" y2="76.4" stroke="#777" stroke-width="0.9"/>
<text x="257.6" y="76.4" font-size="5.0" text-anchor="middle" dominant-baseline="central" fill="#111" stroke="#111" stroke-width="0.15" font-weight="normal" transform="rotate(-90 257.6 76.4)">0</text>
<line x1="261.9" y1="62.900000000000006" x2="264.9" y2="62.900000000000006" stroke="#777" stroke-width="0.9"/>
<text x="257.6" y="62.900000000000006" font-size="5.0" text-anchor="middle" dominant-baseline="central" fill="#111" stroke="#111" stroke-width="0.15" font-weight="normal" transform="rotate(-90 257.6 62.900000000000006)">1</text>
<line x1="261.9" y1="49.400000000000006" x2="264.9" y2="49.400000000000006" stroke="#777" stroke-width="0.9"/>
<text x="257.6" y="49.400000000000006" font-size="5.0" text-anchor="middle" dominant-baseline="central" fill="#111" stroke="#111" stroke-width="0.15" font-weight="normal" transform="rotate(-90 257.6 49.400000000000006)">2</text>
<line x1="261.9" y1="35.900000000000006" x2="264.9" y2="35.900000000000006" stroke="#777" stroke-width="0.9"/>
<text x="257.6" y="35.900000000000006" font-size="5.0" text-anchor="middle" dominant-baseline="central" fill="#111" stroke="#111" stroke-width="0.15" font-weight="normal" transform="rotate(-90 257.6 35.900000000000006)">3</text>
<line x1="261.9" y1="22.400000000000006" x2="264.9" y2="22.400000000000006" stroke="#777" stroke-width="0.9"/>
<text x="257.6" y="22.400000000000006" font-size="5.0" text-anchor="middle" dominant-baseline="central" fill="#111" stroke="#111" stroke-width="0.15" font-weight="normal" transform="rotate(-90 257.6 22.400000000000006)">4</text>
<line x1="261.9" y1="8.900000000000006" x2="264.9" y2="8.900000000000006" stroke="#777" stroke-width="0.9"/>
<text x="257.6" y="8.900000000000006" font-size="5.0" text-anchor="middle" dominant-baseline="central" fill="#111" stroke="#111" stroke-width="0.15" font-weight="normal" transform="rotate(-90 257.6 8.900000000000006)">5</text>
<line x1="264.9" y1="76.6" x2="347" y2="76.6" stroke="#777" stroke-width="0.9"/>
<line x1="267.5" y1="76.6" x2="267.5" y2="79.6" stroke="#777" stroke-width="0.9"/>
<text x="267.5" y="85.2" font-size="5.0" text-anchor="middle" dominant-baseline="central" fill="#111" stroke="#111" stroke-width="0.15" font-weight="normal">0.0</text>
<line x1="283.34" y1="76.6" x2="283.34" y2="79.6" stroke="#777" stroke-width="0.9"/>
<text x="283.34" y="85.2" font-size="5.0" text-anchor="middle" dominant-baseline="central" fill="#111" stroke="#111" stroke-width="0.15" font-weight="normal">0.2</text>
<line x1="299.18" y1="76.6" x2="299.18" y2="79.6" stroke="#777" stroke-width="0.9"/>
<text x="299.18" y="85.2" font-size="5.0" text-anchor="middle" dominant-baseline="central" fill="#111" stroke="#111" stroke-width="0.15" font-weight="normal">0.4</text>
<line x1="315.02" y1="76.6" x2="315.02" y2="79.6" stroke="#777" stroke-width="0.9"/>
<text x="315.02" y="85.2" font-size="5.0" text-anchor="middle" dominant-baseline="central" fill="#111" stroke="#111" stroke-width="0.15" font-weight="normal">0.6</text>
<line x1="330.86" y1="76.6" x2="330.86" y2="79.6" stroke="#777" stroke-width="0.9"/>
<text x="330.86" y="85.2" font-size="5.0" text-anchor="middle" dominant-baseline="central" fill="#111" stroke="#111" stroke-width="0.15" font-weight="normal">0.8</text>
<line x1="346.7" y1="76.6" x2="346.7" y2="79.6" stroke="#777" stroke-width="0.9"/>
<text x="346.7" y="85.2" font-size="5.0" text-anchor="middle" dominant-baseline="central" fill="#111" stroke="#111" stroke-width="0.15" font-weight="normal">1.0</text>
<text x="307.5" y="92.1" font-size="5.2" text-anchor="middle" dominant-baseline="central" fill="#111" stroke="#111" stroke-width="0.15" font-weight="normal">Memory</text>
<text x="268.7" y="2.2" font-size="5.3" text-anchor="middle" dominant-baseline="central" fill="#111" stroke="#111" stroke-width="0.15" font-weight="bold">C</text>
<polygon points="284.13,76.40 284.83,75.05 285.53,73.70 286.23,72.35 286.93,71.00 287.63,69.65 288.41,67.96 289.35,65.60 290.36,62.90 291.38,60.20 292.40,57.50 293.41,54.80 294.39,52.01 295.29,49.04 296.14,45.98 297.00,42.92 297.86,39.86 298.72,36.80 299.51,33.92 300.17,31.40 300.76,29.06 301.36,26.72 301.95,24.38 302.55,22.04 303.07,19.95 303.47,18.35 303.80,17.00 304.13,15.65 304.46,14.30 304.79,12.95 305.08,11.84 305.28,11.22 305.44,10.84 305.60,10.45 305.75,10.07 305.91,9.69 306.07,9.50 306.24,9.69 306.41,10.07 306.59,10.45 306.76,10.84 306.93,11.22 307.12,11.79 307.36,12.73 307.63,13.85 307.89,14.98 308.16,16.10 308.42,17.23 308.77,18.71 309.29,20.92 309.90,23.48 310.51,26.05 311.11,28.61 311.72,31.18 312.32,33.86 312.91,36.80 313.49,39.86 314.07,42.92 314.65,45.98 315.23,49.04 315.83,52.01 316.47,54.80 317.13,57.50 317.79,60.20 318.45,62.90 319.11,65.60 319.77,67.96 320.43,69.65 321.09,71.00 321.75,72.35 322.41,73.70 323.07,75.05 323.73,76.40" fill="#c8c8c8" stroke="#707070" stroke-width="0.5"/>
<polyline points="267.50,76.40 267.70,76.40 267.90,76.40 268.09,76.39 268.29,76.39 268.49,76.38 268.69,76.37 268.89,76.36 269.08,76.35 269.28,76.34 269.48,76.33 269.68,76.32 269.88,76.31 270.07,76.29 270.27,76.27 270.47,76.26 270.67,76.24 270.87,76.22 271.06,76.20 271.26,76.18 271.46,76.16 271.66,76.14 271.86,76.12 272.05,76.10 272.25,76.07 272.45,76.05 272.65,76.02 272.85,75.99 273.04,75.97 273.24,75.94 273.44,75.91 273.64,75.88 273.84,75.85 274.03,75.82 274.23,75.79 274.43,75.76 274.63,75.72 274.83,75.69 275.02,75.65 275.22,75.62 275.42,75.58 275.62,75.55 275.82,75.51 276.01,75.47 276.21,75.43 276.41,75.39 276.61,75.35 276.81,75.31 277.00,75.27 277.20,75.23 277.40,75.19 277.60,75.14 277.80,75.10 277.99,75.05 278.19,75.01 278.39,74.96 278.59,74.92 278.79,74.87 278.98,74.82 279.18,74.77 279.38,74.73 279.58,74.68 279.78,74.63 279.97,74.57 280.17,74.52 280.37,74.47 280.57,74.42 280.77,74.37 280.96,74.31 281.16,74.26 281.36,74.20 281.56,74.15 281.76,74.09 281.95,74.03 282.15,73.98 282.35,73.92 282.55,73.86 282.75,73.80 282.94,73.74 283.14,73.68 283.34,73.62 283.54,73.56 283.74,73.50 283.93,73.44 284.13,73.38 284.33,73.31 284.53,73.25 284.73,73.18 284.92,73.12 285.12,73.05 285.32,72.99 285.52,72.92 285.72,72.86 285.91,72.79 286.11,72.72 286.31,72.65 286.51,72.58 286.71,72.51 286.90,72.44 287.10,72.37 287.30,72.30 287.50,72.23 287.70,72.16 287.89,72.09 288.09,72.02 288.29,71.94 288.49,71.87 288.69,71.79 288.88,71.72 289.08,71.64 289.28,71.57 289.48,71.49 289.68,71.42 289.87,71.34 290.07,71.26 290.27,71.18 290.47,71.11 290.67,71.03 290.86,70.95 291.06,70.87 291.26,70.79 291.46,70.71 291.66,70.63 291.85,70.55 292.05,70.47 292.25,70.38 292.45,70.30 292.65,70.22 292.84,70.13 293.04,70.05 293.24,69.97 293.44,69.88 293.64,69.80 293.83,69.71 294.03,69.63 294.23,69.54 294.43,69.45 294.63,69.37 294.82,69.28 295.02,69.19 295.22,69.10 295.42,69.02 295.62,68.93 295.81,68.84 296.01,68.75 296.21,68.66 296.41,68.57 296.61,68.48 296.80,68.39 297.00,68.30 297.20,68.20 297.40,68.11 297.60,68.02 297.79,67.93 297.99,67.83 298.19,67.74 298.39,67.65 298.59,67.55 298.78,67.46 298.98,67.36 299.18,67.27 299.38,67.17 299.58,67.08 299.77,66.98 299.97,66.89 300.17,66.79 300.37,66.69 300.57,66.60 300.76,66.50 300.96,66.40 301.16,66.30 301.36,66.20 301.56,66.11 301.75,66.01 301.95,65.91 302.15,65.81 302.35,65.71 302.55,65.61 302.74,65.51 302.94,65.41 303.14,65.31 303.34,65.21 303.54,65.11 303.73,65.00 303.93,64.90 304.13,64.80 304.33,64.70 304.53,64.60 304.72,64.49 304.92,64.39 305.12,64.29 305.32,64.18 305.52,64.08 305.71,63.98 305.91,63.87 306.11,63.77 306.31,63.66 306.51,63.56 306.70,63.45 306.90,63.35 307.10,63.24 307.30,63.14 307.50,63.03 307.69,62.93 307.89,62.82 308.09,62.72 308.29,62.61 308.49,62.50 308.68,62.40 308.88,62.29 309.08,62.18 309.28,62.08 309.48,61.97 309.67,61.86 309.87,61.76 310.07,61.65 310.27,61.54 310.47,61.43 310.66,61.32 310.86,61.22 311.06,61.11 311.26,61.00 311.46,60.89 311.65,60.78 311.85,60.68 312.05,60.57 312.25,60.46 312.45,60.35 312.64,60.24 312.84,60.13 313.04,60.02 313.24,59.91 313.44,59.80 313.63,59.70 313.83,59.59 314.03,59.48 314.23,59.37 314.43,59.26 314.62,59.15 314.82,59.04 315.02,58.93 315.22,58.82 315.42,58.71 315.61,58.60 315.81,58.50 316.01,58.39 316.21,58.28 316.41,58.17 316.60,58.06 316.80,57.95 317.00,57.84 317.20,57.73 317.40,57.62 317.59,57.51 317.79,57.41 317.99,57.30 318.19,57.19 318.39,57.08 318.58,56.97 318.78,56.86 318.98,56.76 319.18,56.65 319.38,56.54 319.57,56.43 319.77,56.33 319.97,56.22 320.17,56.11 320.37,56.00 320.56,55.90 320.76,55.79 320.96,55.69 321.16,55.58 321.36,55.47 321.55,55.37 321.75,55.26 321.95,55.16 322.15,55.05 322.35,54.95 322.54,54.84 322.74,54.74 322.94,54.63 323.14,54.53 323.34,54.43 323.53,54.33 323.73,54.22 323.93,54.12 324.13,54.02 324.33,53.92 324.52,53.82 324.72,53.72 324.92,53.62 325.12,53.52 325.32,53.42 325.51,53.32 325.71,53.22 325.91,53.12 326.11,53.02 326.31,52.93 326.50,52.83 326.70,52.73 326.90,52.64 327.10,52.54 327.30,52.45 327.49,52.36 327.69,52.26 327.89,52.17 328.09,52.08 328.29,51.99 328.48,51.90 328.68,51.81 328.88,51.72 329.08,51.63 329.28,51.54 329.47,51.46 329.67,51.37 329.87,51.29 330.07,51.20 330.27,51.12 330.46,51.04 330.66,50.96 330.86,50.88 331.06,50.80 331.26,50.72 331.45,50.64 331.65,50.57 331.85,50.49 332.05,50.42 332.25,50.34 332.44,50.27 332.64,50.20 332.84,50.13 333.04,50.07 333.24,50.00 333.43,49.94 333.63,49.87 333.83,49.81 334.03,49.75 334.23,49.69 334.42,49.63 334.62,49.58 334.82,49.53 335.02,49.47 335.22,49.42 335.41,49.38 335.61,49.33 335.81,49.29 336.01,49.24 336.21,49.20 336.40,49.17 336.60,49.13 336.80,49.10 337.00,49.07 337.20,49.04 337.39,49.02 337.59,49.00 337.79,48.98 337.99,48.96 338.19,48.95 338.38,48.94 338.58,48.94 338.78,48.93 338.98,48.94 339.18,48.94 339.37,48.95 339.57,48.97 339.77,48.99 339.97,49.01 340.17,49.04 340.36,49.07 340.56,49.11 340.76,49.16 340.96,49.21 341.16,49.27 341.35,49.34 341.55,49.41 341.75,49.49 341.95,49.58 342.15,49.68 342.34,49.79 342.54,49.91 342.74,50.05 342.94,50.19 343.14,50.35 343.33,50.52 343.53,50.72 343.73,50.93 343.93,51.16 344.13,51.41 344.32,51.70 344.52,52.01 344.72,52.36 344.92,52.75 345.12,53.20 345.31,53.70 345.51,54.29 345.71,54.99 345.91,55.83 346.11,56.89 346.30,58.33 346.50,60.60 346.70,76.40" fill="none" stroke="#45c040" stroke-width="1.0"/>
<text x="313.9" y="5.4" font-size="4.6" text-anchor="start" dominant-baseline="central" fill="#e27590" stroke="#e27590" stroke-width="0.15" font-weight="normal">mem.strength: 4</text>
<text x="313.9" y="10.9" font-size="4.6" text-anchor="start" dominant-baseline="central" fill="#e27590" stroke="#e27590" stroke-width="0.15" font-weight="normal">mem.mean: 0.7</text>
<text x="313.9" y="16.6" font-size="4.6" text-anchor="start" dominant-baseline="central" fill="#e27590" stroke="#e27590" stroke-width="0.15" font-weight="normal">35.5cm sections</text>
<line x1="44.9" y1="101.5" x2="44.9" y2="307" stroke="#777" stroke-width="0.9"/>
<line x1="44.9" y1="307" x2="350" y2="307" stroke="#777" stroke-width="0.9"/>
<line x1="41.9" y1="109.4" x2="44.9" y2="109.4" stroke="#777" stroke-width="0.9"/>
<text x="38.1" y="109.4" font-size="5.0" text-anchor="middle" dominant-baseline="central" fill="#111" stroke="#111" stroke-width="0.15" font-weight="normal" transform="rotate(-90 38.1 109.4)">0</text>
<line x1="41.9" y1="164.73000000000002" x2="44.9" y2="164.73000000000002" stroke="#777" stroke-width="0.9"/>
<text x="38.1" y="164.73000000000002" font-size="5.0" text-anchor="middle" dominant-baseline="central" fill="#111" stroke="#111" stroke-width="0.15" font-weight="normal" transform="rotate(-90 38.1 164.73000000000002)">50</text>
<line x1="41.9" y1="220.06" x2="44.9" y2="220.06" stroke="#777" stroke-width="0.9"/>
<text x="38.1" y="220.06" font-size="5.0" text-anchor="middle" dominant-baseline="central" fill="#111" stroke="#111" stroke-width="0.15" font-weight="normal" transform="rotate(-90 38.1 220.06)">100</text>
<line x1="41.9" y1="275.39" x2="44.9" y2="275.39" stroke="#777" stroke-width="0.9"/>
<text x="38.1" y="275.39" font-size="5.0" text-anchor="middle" dominant-baseline="central" fill="#111" stroke="#111" stroke-width="0.15" font-weight="normal" transform="rotate(-90 38.1 275.39)">150</text>
<text x="28.0" y="204.4" font-size="4.85" text-anchor="middle" dominant-baseline="central" fill="#111" stroke="#111" stroke-width="0.15" font-weight="normal" transform="rotate(-90 28.0 204.4)">Depth (cm)</text>
<line x1="56.6" y1="307" x2="56.6" y2="310.4" stroke="#777" stroke-width="0.9"/>
<text x="56.6" y="315.6" font-size="5.0" text-anchor="middle" dominant-baseline="central" fill="#111" stroke="#111" stroke-width="0.15" font-weight="normal">30000</text>
<line x1="103.6" y1="307" x2="103.6" y2="310.4" stroke="#777" stroke-width="0.9"/>
<text x="103.6" y="315.6" font-size="5.0" text-anchor="middle" dominant-baseline="central" fill="#111" stroke="#111" stroke-width="0.15" font-weight="normal">25000</text>
<line x1="150.6" y1="307" x2="150.6" y2="310.4" stroke="#777" stroke-width="0.9"/>
<text x="150.6" y="315.6" font-size="5.0" text-anchor="middle" dominant-baseline="central" fill="#111" stroke="#111" stroke-width="0.15" font-weight="normal">20000</text>
<line x1="197.6" y1="307" x2="197.6" y2="310.4" stroke="#777" stroke-width="0.9"/>
<text x="197.6" y="315.6" font-size="5.0" text-anchor="middle" dominant-baseline="central" fill="#111" stroke="#111" stroke-width="0.15" font-weight="normal">15000</text>
<line x1="244.6" y1="307" x2="244.6" y2="310.4" stroke="#777" stroke-width="0.9"/>
<text x="244.6" y="315.6" font-size="5.0" text-anchor="middle" dominant-baseline="central" fill="#111" stroke="#111" stroke-width="0.15" font-weight="normal">10000</text>
<line x1="291.6" y1="307" x2="291.6" y2="310.4" stroke="#777" stroke-width="0.9"/>
<text x="291.6" y="315.6" font-size="5.0" text-anchor="middle" dominant-baseline="central" fill="#111" stroke="#111" stroke-width="0.15" font-weight="normal">5000</text>
<line x1="338.6" y1="307" x2="338.6" y2="310.4" stroke="#777" stroke-width="0.9"/>
<text x="338.6" y="315.6" font-size="5.0" text-anchor="middle" dominant-baseline="central" fill="#111" stroke="#111" stroke-width="0.15" font-weight="normal">0</text>
<text x="190.6" y="326.7" font-size="5.3" text-anchor="middle" dominant-baseline="central" fill="#111" stroke="#111" stroke-width="0.15" font-weight="normal">Age (cal yr BP)</text>
<text x="48.6" y="102.0" font-size="5.3" text-anchor="middle" dominant-baseline="central" fill="#111" stroke="#111" stroke-width="0.15" font-weight="bold">D</text>
<text x="13.9" y="147.7" font-size="5.2" text-anchor="middle" dominant-baseline="central" fill="#111" stroke="#111" stroke-width="0.15" font-weight="normal">Stratigraphy</text>
<rect x="6.6" y="153.7" width="14.3" height="10.6" fill="#0f0f0f"/>
<rect x="6.6" y="164.3" width="14.3" height="75.6" fill="#66563b"/>
<rect x="6.6" y="239.9" width="14.3" height="17.9" fill="#7b7b7b"/>
<rect x="6.6" y="257.8" width="14.3" height="9.9" fill="#66563b"/>
<rect x="6.6" y="153.7" width="14.3" height="114" fill="none" stroke="#222" stroke-width="0.5"/>
<rect x="77.4" y="335.8" width="8.8" height="10" fill="#0f0f0f" stroke="#111" stroke-width="0.5"/>
<text x="89.7" y="342.2" font-size="4.6" text-anchor="start" dominant-baseline="central" fill="#111" stroke="#111" stroke-width="0.15" font-weight="normal">Black clay 10YR (2/1)</text>
<rect x="137.3" y="335.8" width="9.3" height="10" fill="#66563b" stroke="#222" stroke-width="0.5"/>
<text x="150.6" y="342.2" font-size="4.6" text-anchor="start" dominant-baseline="central" fill="#111" stroke="#111" stroke-width="0.15" font-weight="normal">Dark brown homogenous clay 10YR (2/2)</text>
<rect x="237.4" y="335.8" width="9.2" height="10" fill="#7b7b7b" stroke="#333" stroke-width="0.5"/>
<text x="249.8" y="342.2" font-size="4.6" text-anchor="start" dominant-baseline="central" fill="#111" stroke="#111" stroke-width="0.15" font-weight="normal">Dark grey clay 7.5YR (3/1)</text>
<defs><filter id="bl" x="-10%" y="-10%" width="120%" height="120%"><feGaussianBlur stdDeviation="0.5"/></filter><clipPath id="cpD"><rect x="45.5" y="101" width="305" height="206"/></clipPath></defs>
<g clip-path="url(#cpD)">
<defs><filter id="bl2" x="-20%" y="-50%" width="140%" height="200%"><feGaussianBlur stdDeviation="1.2"/></filter></defs>
<polygon points="100,255 75,262 47,266 47,270 70,268 95,258" fill="#000" fill-opacity="0.12" filter="url(#bl2)"/>
<g fill="#000" stroke="#000" stroke-width="0.7" filter="url(#bl)"><polygon fill-opacity="0.160" stroke-opacity="0.060" points="320.0,109.4 319.2,110.6 318.6,111.8 317.9,113.0 316.9,113.9 315.8,114.8 314.8,115.7 313.8,116.6 312.4,117.8 311.1,119.0 310.3,119.9 309.4,120.8 308.6,121.7 307.8,122.6 307.1,123.6 306.3,124.5 305.6,125.7 304.8,126.9 304.1,128.0 303.5,129.3 302.9,130.4 302.4,131.6 301.9,132.8 301.4,134.0 301.0,135.2 300.6,136.5 300.6,136.5 301.5,135.6 302.4,134.7 303.2,133.7 304.0,132.7 304.8,131.7 305.5,130.7 306.5,129.7 307.4,128.6 308.2,127.6 309.1,126.5 309.9,125.6 310.8,124.7 311.6,123.8 312.4,122.9 313.1,121.9 313.9,121.0 315.1,119.7 316.2,118.4 317.0,117.3 317.8,116.2 318.5,115.1 319.3,114.0 319.6,112.5 319.8,111.0 320.0,109.4"/><polygon fill-opacity="0.240" stroke="none" points="320.0,109.4 319.4,110.7 318.8,111.9 318.2,113.2 317.2,114.2 316.3,115.1 315.3,116.1 314.3,117.0 313.0,118.2 311.7,119.4 310.9,120.4 310.1,121.3 309.3,122.2 308.5,123.1 307.7,124.0 306.9,125.0 306.2,126.1 305.4,127.3 304.7,128.4 303.9,129.6 303.3,130.7 302.8,131.9 302.2,133.0 301.6,134.2 301.1,135.3 300.6,136.5 300.6,136.5 301.4,135.5 302.2,134.5 302.9,133.5 303.6,132.5 304.4,131.4 305.1,130.4 305.9,129.3 306.8,128.2 307.6,127.1 308.5,126.0 309.3,125.1 310.1,124.2 310.9,123.3 311.7,122.4 312.5,121.5 313.3,120.6 314.5,119.3 315.7,118.0 316.5,116.9 317.3,115.9 318.2,114.8 319.0,113.8 319.3,112.3 319.7,110.9 320.0,109.4"/><polygon fill-opacity="0.180" stroke-opacity="0.060" points="300.6,136.5 299.2,136.9 298.0,137.5 296.9,138.2 295.4,138.4 294.0,138.7 292.6,139.0 291.3,139.4 290.0,139.8 288.7,140.2 287.5,140.6 286.4,141.1 285.2,141.7 284.1,142.3 283.1,142.9 282.0,143.7 281.0,144.5 280.1,145.4 279.1,146.3 278.2,147.2 277.5,149.2 276.9,151.5 276.9,151.5 278.6,151.0 280.1,150.2 281.5,150.0 282.8,149.8 284.2,149.5 285.5,149.1 286.8,148.8 288.0,148.4 289.2,148.0 290.4,147.5 291.6,147.0 292.7,146.5 293.8,145.9 294.9,145.1 296.0,144.3 297.0,143.5 298.1,142.6 299.0,141.6 299.6,140.0 300.2,138.4 300.6,136.5"/><polygon fill-opacity="0.240" stroke="none" points="300.6,136.5 299.5,137.3 298.4,138.2 297.4,139.1 296.1,139.5 294.8,139.9 293.5,140.4 292.2,140.9 291.0,141.4 289.8,141.8 288.6,142.3 287.4,142.8 286.3,143.3 285.1,143.9 284.0,144.5 282.9,145.1 281.9,145.8 280.8,146.5 279.7,147.3 278.7,148.0 277.8,149.7 276.9,151.5 276.9,151.5 278.3,150.6 279.6,149.5 280.9,149.1 282.2,148.7 283.4,148.3 284.7,147.9 285.9,147.4 287.1,147.0 288.3,146.5 289.5,146.0 290.6,145.5 291.8,145.0 292.9,144.4 294.1,143.8 295.2,143.1 296.3,142.3 297.4,141.6 298.5,140.8 299.2,139.4 300.0,138.0 300.6,136.5"/><polygon fill-opacity="0.180" stroke-opacity="0.060" points="276.9,151.5 275.3,151.6 273.8,151.9 272.4,152.3 271.1,152.7 269.8,153.1 268.5,153.6 267.2,154.0 265.9,154.4 264.7,154.8 263.5,155.3 262.3,155.8 261.4,156.8 260.4,157.8 259.5,158.9 258.7,160.0 257.9,161.2 257.5,162.5 257.2,163.9 256.8,165.3 256.5,166.7 256.3,168.2 256.2,169.9 256.2,169.9 257.2,169.3 258.1,168.5 259.0,167.7 259.8,166.9 260.7,166.0 261.5,165.1 262.6,164.4 263.7,163.6 264.8,162.7 265.8,161.8 266.9,160.9 268.0,160.3 269.0,159.7 270.1,159.1 271.1,158.4 272.1,157.7 273.0,156.7 273.8,155.8 274.7,154.8 275.5,153.8 276.2,152.7 276.9,151.5"/><polygon fill-opacity="0.240" stroke="none" points="276.9,151.5 275.6,151.9 274.3,152.5 273.1,153.0 271.9,153.6 270.7,154.2 269.5,154.8 268.3,155.3 267.1,155.7 266.0,156.2 264.8,156.8 263.7,157.3 262.7,158.3 261.7,159.2 260.8,160.2 259.9,161.3 259.0,162.3 258.4,163.5 257.9,164.7 257.5,166.0 257.0,167.2 256.6,168.5 256.2,169.9 256.2,169.9 257.0,169.0 257.8,168.1 258.5,167.2 259.3,166.3 260.0,165.3 260.7,164.3 261.8,163.5 262.9,162.6 263.9,161.7 264.9,160.8 265.9,159.8 267.0,159.3 268.1,158.7 269.2,158.1 270.3,157.5 271.3,156.8 272.3,156.0 273.3,155.1 274.2,154.3 275.1,153.4 276.0,152.5 276.9,151.5"/><polygon fill-opacity="0.140" stroke-opacity="0.060" points="256.2,169.9 255.3,170.7 254.5,171.6 253.8,172.6 253.2,173.6 252.6,174.7 252.1,175.8 251.0,176.8 250.0,177.8 249.1,178.9 248.2,180.0 247.3,180.8 246.5,181.6 245.7,182.5 245.0,183.4 244.3,184.3 243.7,185.3 243.1,186.3 242.6,187.3 242.2,188.5 242.2,188.5 243.6,188.1 244.9,187.7 246.2,187.2 247.4,186.6 248.6,186.1 249.7,185.5 250.9,184.9 251.9,184.2 253.0,183.5 253.9,182.5 254.7,181.3 255.6,180.2 256.3,179.0 256.4,177.6 256.5,176.1 256.5,174.6 256.5,173.1 256.4,171.6 256.2,169.9"/><polygon fill-opacity="0.240" stroke="none" points="256.2,169.9 255.6,170.9 255.1,172.0 254.6,173.2 254.1,174.3 253.7,175.5 253.3,176.7 252.3,177.7 251.4,178.8 250.4,179.9 249.6,181.0 248.6,181.7 247.7,182.5 246.9,183.3 246.0,184.1 245.2,184.9 244.4,185.8 243.6,186.7 242.9,187.5 242.2,188.5 242.2,188.5 243.4,188.0 244.5,187.4 245.6,186.7 246.7,186.1 247.8,185.5 248.9,184.8 249.9,184.2 250.9,183.5 251.9,182.8 252.8,181.7 253.7,180.6 254.6,179.4 255.4,178.3 255.6,176.9 255.8,175.6 255.9,174.2 256.1,172.8 256.2,171.4 256.2,169.9"/><polygon fill-opacity="0.100" stroke-opacity="0.100" points="242.2,188.5 240.8,188.9 239.6,189.6 238.5,190.3 237.4,191.0 236.4,191.8 235.4,192.6 234.5,193.4 233.2,194.1 232.0,194.8 230.8,195.6 229.6,196.3 228.5,197.1 227.4,198.0 226.4,198.8 225.4,199.7 224.4,200.6 223.5,201.5 222.6,202.5 221.9,203.5 221.1,204.6 220.5,205.7 220.0,207.0 219.4,208.1 219.0,209.3 218.6,210.5 218.3,211.8 218.0,213.2 217.9,214.6 218.0,216.3 218.0,216.3 219.3,215.9 220.5,215.3 221.7,214.8 222.8,214.2 224.0,213.6 225.1,213.0 226.1,212.3 227.2,211.5 228.2,210.7 229.2,209.9 230.1,209.0 231.1,208.1 232.0,207.2 232.9,206.2 233.7,205.2 234.6,204.2 235.4,203.1 236.3,202.1 237.1,201.0 237.9,200.0 238.7,198.9 239.4,197.8 239.9,196.5 240.3,195.2 240.7,193.9 241.1,192.6 241.5,191.3 241.9,189.9 242.2,188.5"/><polygon fill-opacity="0.240" stroke="none" points="242.2,188.5 241.3,189.4 240.6,190.4 239.8,191.4 239.0,192.4 238.3,193.5 237.6,194.5 236.9,195.6 235.9,196.4 234.9,197.3 233.9,198.2 232.9,199.1 231.9,200.1 230.9,201.0 230.0,201.9 229.0,202.9 228.1,203.8 227.2,204.7 226.3,205.6 225.4,206.6 224.6,207.6 223.8,208.6 223.0,209.6 222.2,210.5 221.4,211.4 220.7,212.3 219.9,213.2 219.2,214.2 218.6,215.2 218.0,216.3 218.0,216.3 219.1,215.7 220.1,215.0 221.1,214.3 222.1,213.6 223.1,212.9 224.1,212.2 225.1,211.5 226.1,210.6 227.0,209.7 228.0,208.8 228.9,207.9 229.8,207.0 230.7,206.1 231.7,205.2 232.5,204.2 233.4,203.2 234.3,202.2 235.2,201.2 236.0,200.1 236.9,199.1 237.8,198.1 238.6,197.1 239.2,195.9 239.7,194.7 240.2,193.4 240.7,192.2 241.2,191.0 241.7,189.8 242.2,188.5"/><polygon fill-opacity="0.080" stroke-opacity="0.070" points="218.0,216.3 216.4,216.5 215.0,216.9 213.7,217.4 212.6,218.1 211.6,218.9 210.8,219.8 210.0,220.9 209.3,222.0 208.6,223.2 208.1,224.5 207.6,225.8 207.2,227.3 207.2,227.3 208.7,227.0 210.1,226.4 211.3,225.8 212.5,225.1 213.6,224.4 214.6,223.6 215.6,222.7 216.4,221.8 217.1,220.7 217.6,219.4 217.9,218.0 218.0,216.3"/><polygon fill-opacity="0.200" stroke="none" points="218.0,216.3 216.8,216.9 215.7,217.6 214.6,218.3 213.6,219.1 212.7,219.9 211.8,220.8 211.0,221.8 210.2,222.9 209.4,223.9 208.6,225.0 207.9,226.1 207.2,227.3 207.2,227.3 208.3,226.6 209.4,225.8 210.4,225.0 211.4,224.1 212.4,223.2 213.3,222.3 214.3,221.5 215.2,220.6 216.0,219.6 216.7,218.6 217.4,217.5 218.0,216.3"/><polygon fill-opacity="0.200" stroke-opacity="0.060" points="207.2,227.3 205.9,226.9 205.0,227.7 204.1,228.5 203.3,229.5 202.4,230.4 201.2,230.5 200.0,230.7 198.8,230.9 197.6,231.0 196.4,231.2 195.2,231.4 194.0,231.5 192.8,231.7 191.6,231.9 190.4,232.1 189.3,232.3 188.0,232.5 186.7,232.7 185.5,233.0 184.2,233.2 183.0,233.4 181.8,233.6 180.5,233.9 179.3,234.1 178.0,234.3 176.8,234.6 175.5,234.8 174.3,235.1 173.1,235.4 171.9,235.6 170.7,235.9 169.5,236.2 168.3,236.5 167.1,236.8 165.9,237.2 164.7,237.6 163.5,238.0 162.7,239.7 162.7,239.7 164.3,240.8 165.6,240.9 166.9,240.8 168.1,240.7 169.4,240.6 170.7,240.5 171.9,240.4 173.2,240.2 174.4,240.1 175.6,239.9 176.9,239.7 178.2,239.6 179.4,239.4 180.7,239.2 181.9,239.0 183.2,238.8 184.4,238.6 185.7,238.4 186.9,238.2 188.2,237.9 189.4,237.7 190.7,237.5 191.9,237.3 193.0,237.0 194.2,236.8 195.4,236.5 196.6,236.3 197.7,236.0 198.9,235.8 200.1,235.5 201.2,235.2 202.4,234.9 203.6,234.6 204.4,233.5 205.2,232.3 206.0,231.0 206.7,229.7 207.2,227.3"/><polygon fill-opacity="0.280" stroke="none" points="207.2,227.3 206.1,227.4 205.2,228.3 204.3,229.2 203.5,230.2 202.6,231.2 201.4,231.3 200.2,231.5 199.0,231.7 197.8,231.9 196.6,232.1 195.4,232.3 194.3,232.4 193.1,232.6 191.9,232.8 190.7,233.1 189.5,233.3 188.3,233.5 187.0,233.7 185.8,233.9 184.5,234.1 183.3,234.3 182.0,234.6 180.8,234.8 179.5,235.0 178.3,235.3 177.0,235.5 175.8,235.7 174.5,236.0 173.3,236.2 172.1,236.5 170.9,236.7 169.7,237.0 168.5,237.3 167.3,237.5 166.0,237.8 164.8,238.2 163.7,238.6 162.7,239.7 162.7,239.7 164.2,240.4 165.4,240.3 166.7,240.2 168.0,240.1 169.2,239.9 170.5,239.8 171.7,239.6 172.9,239.5 174.2,239.3 175.4,239.1 176.7,238.9 177.9,238.7 179.2,238.5 180.4,238.3 181.7,238.1 183.0,237.9 184.2,237.7 185.5,237.5 186.7,237.3 188.0,237.1 189.2,236.8 190.4,236.6 191.6,236.4 192.8,236.2 194.0,235.9 195.2,235.7 196.3,235.4 197.5,235.2 198.7,235.0 199.9,234.7 201.0,234.4 202.2,234.2 203.4,233.9 204.2,232.8 205.0,231.6 205.8,230.5 206.6,229.2 207.2,227.3"/><polygon fill-opacity="0.200" stroke-opacity="0.060" points="162.7,239.7 161.3,239.3 160.1,239.7 158.8,240.2 157.6,240.7 156.4,240.8 155.2,241.0 154.0,241.2 152.8,241.3 151.6,241.5 150.3,241.7 149.1,241.9 147.9,242.1 146.7,242.3 145.5,242.5 144.3,242.7 143.1,242.9 141.9,243.2 140.7,243.4 139.5,243.6 138.2,243.8 137.0,244.0 135.7,244.3 134.4,244.5 133.2,244.7 131.9,245.0 130.7,245.2 129.4,245.5 128.2,245.7 126.9,246.0 125.7,246.2 124.4,246.5 123.2,246.7 122.0,246.8 120.8,247.0 119.6,247.2 118.4,247.4 117.2,247.7 116.0,247.9 114.8,248.1 113.6,248.3 112.4,248.6 111.2,248.8 110.0,249.1 108.8,249.3 107.6,249.6 106.4,250.1 105.2,250.5 104.1,251.1 102.9,251.7 102.0,253.2 102.0,253.2 103.5,254.1 104.7,254.1 106.0,253.9 107.2,253.8 108.5,253.5 109.7,253.5 110.9,253.4 112.2,253.3 113.4,253.2 114.6,253.1 115.8,252.9 117.1,252.8 118.3,252.7 119.5,252.5 120.7,252.4 122.0,252.2 123.2,252.1 124.4,251.9 125.6,251.7 126.9,251.5 128.1,251.2 129.4,251.0 130.6,250.7 131.9,250.5 133.1,250.2 134.3,249.9 135.6,249.7 136.8,249.4 138.1,249.1 139.3,248.9 140.6,248.6 141.8,248.3 143.0,248.0 144.2,247.8 145.3,247.5 146.5,247.2 147.7,246.9 148.9,246.6 150.1,246.3 151.3,246.0 152.5,245.7 153.7,245.4 154.9,245.1 156.0,244.7 157.2,244.4 158.4,244.0 159.5,243.3 160.7,242.4 161.8,241.5 162.7,239.7"/><polygon fill-opacity="0.280" stroke="none" points="162.7,239.7 161.4,239.7 160.2,240.1 159.0,240.7 157.8,241.2 156.6,241.4 155.3,241.6 154.1,241.8 152.9,242.0 151.7,242.2 150.5,242.4 149.3,242.6 148.1,242.9 146.9,243.1 145.7,243.3 144.5,243.5 143.3,243.7 142.1,244.0 140.9,244.2 139.7,244.4 138.4,244.7 137.1,244.9 135.9,245.1 134.6,245.4 133.4,245.6 132.1,245.9 130.9,246.1 129.6,246.4 128.4,246.6 127.1,246.9 125.9,247.1 124.6,247.4 123.4,247.5 122.2,247.7 121.0,247.9 119.8,248.1 118.6,248.3 117.4,248.5 116.2,248.7 114.9,248.9 113.7,249.1 112.5,249.3 111.3,249.6 110.1,249.8 108.9,250.0 107.7,250.3 106.5,250.7 105.4,251.1 104.2,251.6 103.0,252.1 102.0,253.2 102.0,253.2 103.4,253.7 104.6,253.5 105.9,253.3 107.1,253.1 108.3,252.8 109.5,252.7 110.8,252.6 112.0,252.5 113.2,252.3 114.4,252.2 115.6,252.1 116.9,251.9 118.1,251.8 119.3,251.6 120.5,251.4 121.7,251.3 123.0,251.1 124.2,250.9 125.4,250.8 126.6,250.5 127.9,250.3 129.1,250.0 130.4,249.8 131.6,249.5 132.9,249.3 134.1,249.0 135.4,248.7 136.6,248.5 137.9,248.2 139.1,248.0 140.4,247.7 141.6,247.4 142.8,247.2 144.0,246.9 145.2,246.6 146.4,246.3 147.5,246.1 148.7,245.8 149.9,245.5 151.1,245.2 152.3,244.9 153.5,244.7 154.7,244.4 155.9,244.1 157.1,243.8 158.3,243.4 159.4,242.7 160.6,241.9 161.7,241.1 162.7,239.7"/><polygon fill-opacity="0.180" stroke-opacity="0.060" points="102.0,253.2 100.6,253.0 99.3,253.6 98.1,254.2 96.9,254.3 95.7,254.5 94.4,254.6 93.2,254.7 92.0,254.8 90.8,255.0 89.6,255.1 88.4,255.3 87.2,255.4 86.0,255.6 84.8,255.7 83.6,255.9 82.4,256.0 81.2,256.2 80.0,256.3 78.8,256.5 77.6,256.7 76.4,256.8 75.2,257.0 74.0,257.1 72.7,257.2 71.5,257.4 70.2,257.5 69.0,257.6 67.7,257.7 66.5,257.8 65.2,257.9 64.0,258.0 62.7,258.1 61.5,258.2 60.2,258.4 59.0,258.5 57.7,258.6 56.5,258.7 55.3,258.8 54.0,258.9 52.8,259.0 51.5,259.2 50.3,259.3 49.0,259.4 47.8,259.5 46.5,259.6 45.3,259.7 46.2,265.3 47.4,265.1 48.7,265.0 49.9,264.8 51.1,264.7 52.4,264.5 53.6,264.4 54.9,264.2 56.1,264.1 57.3,263.9 58.6,263.8 59.8,263.6 61.1,263.5 62.3,263.3 63.5,263.2 64.8,263.0 66.0,262.9 67.3,262.7 68.5,262.6 69.7,262.4 71.0,262.3 72.2,262.1 73.5,261.9 74.7,261.8 75.9,261.6 77.1,261.4 78.3,261.2 79.5,260.9 80.7,260.7 81.9,260.5 83.1,260.3 84.3,260.1 85.5,259.8 86.7,259.6 87.8,259.4 89.0,259.2 90.2,258.9 91.4,258.7 92.6,258.5 93.8,258.2 95.0,258.0 96.2,257.7 97.4,257.4 98.6,257.2 99.8,256.2 101.0,255.2 102.0,253.2"/><polygon fill-opacity="0.240" stroke="none" points="102.0,253.2 100.7,253.4 99.4,254.1 98.2,254.8 97.0,254.9 95.8,255.1 94.5,255.2 93.3,255.4 92.1,255.5 90.9,255.7 89.7,255.8 88.5,256.0 87.3,256.2 86.1,256.3 84.9,256.5 83.7,256.7 82.5,256.8 81.3,257.0 80.1,257.2 78.9,257.3 77.7,257.5 76.5,257.7 75.3,257.8 74.1,258.0 72.8,258.1 71.6,258.2 70.4,258.4 69.1,258.5 67.9,258.6 66.6,258.7 65.4,258.8 64.1,258.9 62.9,259.1 61.6,259.2 60.4,259.3 59.1,259.4 57.9,259.5 56.7,259.7 55.4,259.8 54.2,259.9 52.9,260.0 51.7,260.2 50.4,260.3 49.2,260.4 47.9,260.5 46.7,260.6 45.5,260.8 46.0,264.1 47.2,263.9 48.5,263.8 49.7,263.7 51.0,263.5 52.2,263.4 53.4,263.2 54.7,263.1 55.9,263.0 57.2,262.8 58.4,262.7 59.6,262.5 60.9,262.4 62.1,262.2 63.4,262.1 64.6,262.0 65.9,261.8 67.1,261.7 68.3,261.5 69.6,261.4 70.8,261.2 72.1,261.1 73.3,260.9 74.5,260.8 75.7,260.6 76.9,260.4 78.1,260.2 79.3,260.0 80.5,259.8 81.7,259.6 82.9,259.4 84.1,259.2 85.3,259.0 86.5,258.8 87.7,258.5 88.9,258.3 90.1,258.1 91.3,257.9 92.5,257.7 93.7,257.5 94.9,257.2 96.1,257.0 97.3,256.8 98.5,256.5 99.7,255.6 100.9,254.7 102.0,253.2"/></g>
<g fill="none" stroke="#000" stroke-opacity="0.12" stroke-width="0.5" stroke-linejoin="round"><polyline points="320.0,109.4 318.5,113.4 316.7,115.4 314.8,117.4 312.3,119.8 309.9,122.6 307.5,125.3 305.9,127.6 304.3,129.9 303.1,132.1 301.8,134.3 300.6,136.5 299.0,141.5 296.4,143.8 293.7,145.7 291.5,146.8 289.1,147.8 286.6,148.6 283.4,149.5 280.0,150.1 276.9,151.5 274.7,152.9 272.5,154.3 270.4,155.8 267.6,157.1 264.7,158.5 262.3,160.9 259.8,163.3 258.0,166.6 256.2,169.9 256.1,172.8 255.9,175.6 255.5,178.4 253.8,180.6 252.0,182.8 249.7,184.4 247.4,185.9 244.9,187.2 242.2,188.5 241.2,191.5 240.0,194.4 238.9,197.3 237.2,199.4 235.5,201.4 233.7,203.5 232.0,205.5 229.9,207.6 227.7,209.7 225.4,211.7 223.0,213.3 220.6,214.9 218.0,216.3 215.8,217.6 213.7,219.2 211.9,220.9 210.2,222.9 208.7,225.1 207.2,227.3 205.2,230.3 203.1,233.0 200.5,233.5 197.9,234.0 195.3,234.5 192.7,235.0 190.1,235.5 187.6,235.9 185.1,236.4 182.6,236.8 180.1,237.2 177.6,237.6 175.1,238.1 172.0,238.6 169.0,239.0 165.9,239.5 162.7,239.7 160.2,240.5 157.9,241.6 155.3,242.1 152.7,242.5 150.1,243.0 147.5,243.5 144.9,244.0 142.4,244.5 139.8,245.0 137.3,245.5 134.8,246.0 132.3,246.5 129.8,247.0 127.3,247.5 124.8,248.0 121.9,248.4 119.1,248.8 116.3,249.3 113.5,249.7 110.6,250.2 107.8,250.7 104.9,251.7 102.0,253.2 98.3,255.3 95.6,255.7 92.9,256.1 90.2,256.4 87.6,256.8 84.9,257.2 82.2,257.6 79.6,258.0 76.9,258.4 74.2,258.8 71.6,259.1 69.0,259.3 66.4,259.6 63.8,259.9 61.2,260.1 58.6,260.4 56.0,260.7 53.4,260.9 50.8,261.2 48.2,261.5 45.6,261.7"/><polyline points="320.0,109.4 318.9,113.7 317.2,115.8 315.5,117.9 313.1,120.4 310.7,123.2 308.3,125.9 306.7,128.1 305.0,130.3 303.5,132.4 302.1,134.5 300.6,136.5 297.8,139.6 294.7,141.0 291.6,142.4 289.3,143.3 286.9,144.4 284.6,145.4 281.8,146.9 279.0,148.5 276.9,151.5 274.6,152.8 272.4,154.2 270.2,155.6 267.3,156.9 264.5,158.2 262.0,160.6 259.6,163.1 257.9,166.4 256.2,169.9 256.2,172.9 256.0,175.7 255.7,178.5 254.1,180.8 252.3,183.0 249.9,184.5 247.5,186.0 245.0,187.3 242.2,188.5 239.8,190.3 237.7,192.4 235.7,194.5 233.5,196.1 231.3,197.8 229.3,199.5 227.3,201.4 225.1,203.5 223.2,205.8 221.5,208.3 220.0,210.7 218.8,213.3 218.0,216.3 215.8,217.7 213.9,219.3 212.0,221.0 210.3,223.0 208.7,225.1 207.2,227.3 204.6,228.3 202.5,230.7 199.8,231.0 197.2,231.4 194.6,231.8 192.0,232.2 189.3,232.6 186.8,233.1 184.3,233.5 181.8,233.9 179.4,234.4 176.9,234.9 174.4,235.4 171.3,236.1 168.3,236.8 165.3,237.6 162.7,239.7 160.5,241.6 158.2,243.0 155.6,243.6 153.0,244.2 150.5,244.8 147.9,245.4 145.4,245.9 142.8,246.5 140.2,247.0 137.7,247.6 135.2,248.1 132.7,248.6 130.2,249.1 127.7,249.6 125.2,250.1 122.4,250.5 119.6,250.9 116.7,251.3 113.9,251.7 111.0,252.0 108.2,252.3 105.2,253.0 102.0,253.2 98.4,256.0 95.7,256.5 93.0,256.9 90.4,257.4 87.7,257.8 85.1,258.2 82.4,258.7 79.7,259.1 77.1,259.5 74.4,260.0 71.8,260.2 69.2,260.5 66.6,260.8 64.0,261.1 61.4,261.4 58.8,261.7 56.2,261.9 53.6,262.2 51.0,262.5 48.4,262.8 45.8,263.1"/><polyline points="320.0,109.4 318.2,113.2 316.3,115.1 314.3,117.0 311.7,119.4 309.3,122.2 306.9,124.9 305.4,127.3 303.9,129.6 302.8,131.9 301.6,134.2 300.6,136.5 297.7,139.6 294.6,140.9 291.6,142.3 289.2,143.3 286.9,144.3 284.6,145.3 281.8,146.9 279.0,148.5 276.9,151.5 274.9,153.1 272.9,154.7 270.8,156.3 268.1,157.7 265.3,159.1 262.8,161.5 260.2,163.8 258.2,166.9 256.2,169.9 254.9,171.9 253.8,174.1 252.9,176.4 250.9,178.5 249.1,180.7 247.1,182.4 245.3,184.3 243.6,186.3 242.2,188.5 239.6,190.2 237.4,192.1 235.4,194.2 233.1,195.8 230.9,197.4 228.8,199.1 226.8,200.9 224.6,203.0 222.7,205.4 221.1,208.0 219.7,210.4 218.6,213.1 218.0,216.3 217.4,219.3 216.2,221.6 214.4,223.4 212.3,225.0 209.9,226.3 207.2,227.3 204.6,228.3 202.4,230.6 199.8,230.9 197.2,231.3 194.5,231.7 191.9,232.1 189.3,232.5 186.8,233.0 184.3,233.4 181.8,233.8 179.3,234.3 176.8,234.8 174.4,235.3 171.3,236.0 168.3,236.7 165.3,237.5 162.7,239.7 160.5,241.7 158.2,243.2 155.7,243.8 153.1,244.5 150.5,245.1 148.0,245.6 145.4,246.2 142.9,246.8 140.3,247.3 137.8,247.9 135.3,248.4 132.8,248.9 130.3,249.4 127.8,249.9 125.3,250.4 122.5,250.8 119.6,251.2 116.8,251.6 113.9,251.9 111.1,252.3 108.2,252.6 105.2,253.2 102.0,253.2 98.2,255.3 95.6,255.6 92.9,256.0 90.2,256.4 87.6,256.8 84.9,257.2 82.2,257.6 79.6,258.0 76.9,258.4 74.2,258.8 71.6,259.0 69.0,259.3 66.4,259.6 63.8,259.8 61.2,260.1 58.6,260.3 56.0,260.6 53.4,260.9 50.8,261.1 48.2,261.4 45.6,261.7"/><polyline points="320.0,109.4 318.8,113.6 317.1,115.7 315.3,117.7 312.9,120.3 310.5,123.0 308.1,125.8 306.4,128.0 304.8,130.2 303.4,132.3 302.0,134.4 300.6,136.5 298.9,141.4 296.3,143.6 293.6,145.5 291.3,146.6 289.0,147.6 286.5,148.4 283.3,149.3 280.0,150.0 276.9,151.5 274.8,153.0 272.8,154.6 270.7,156.1 267.9,157.5 265.1,158.9 262.6,161.3 260.1,163.6 258.2,166.8 256.2,169.9 255.6,172.5 255.1,175.0 254.5,177.6 252.7,179.8 250.9,182.0 248.7,183.6 246.6,185.3 244.4,186.9 242.2,188.5 239.7,190.2 237.6,192.3 235.6,194.4 233.3,196.0 231.1,197.6 229.0,199.4 227.1,201.2 224.9,203.3 223.0,205.6 221.4,208.2 219.9,210.6 218.7,213.2 218.0,216.3 215.9,217.8 214.0,219.4 212.2,221.2 210.5,223.2 208.8,225.2 207.2,227.3 204.7,228.5 202.5,230.9 199.9,231.3 197.3,231.6 194.6,232.0 192.0,232.5 189.4,232.9 186.9,233.3 184.4,233.8 181.9,234.2 179.4,234.7 176.9,235.2 174.5,235.7 171.4,236.3 168.4,237.0 165.4,237.8 162.7,239.7 160.6,242.3 158.4,243.9 155.8,244.7 153.3,245.3 150.8,246.0 148.2,246.6 145.7,247.2 143.1,247.8 140.5,248.4 138.0,249.0 135.6,249.5 133.1,250.0 130.6,250.5 128.1,251.1 125.6,251.5 122.7,251.9 119.9,252.3 117.0,252.6 114.2,252.9 111.3,253.2 108.4,253.4 105.3,253.9 102.0,253.2 98.4,256.4 95.8,256.9 93.1,257.4 90.5,257.9 87.8,258.3 85.1,258.8 82.5,259.2 79.8,259.7 77.2,260.1 74.5,260.6 71.9,260.9 69.3,261.2 66.7,261.5 64.1,261.7 61.5,262.0 58.9,262.3 56.3,262.6 53.7,262.9 51.1,263.2 48.5,263.5 45.9,263.8"/><polyline points="320.0,109.4 318.9,113.7 317.2,115.8 315.5,117.9 313.1,120.5 310.8,123.2 308.3,126.0 306.7,128.2 305.0,130.3 303.6,132.4 302.1,134.5 300.6,136.5 297.0,138.4 293.5,139.2 290.3,140.3 287.8,141.1 285.5,142.2 283.3,143.4 280.8,145.3 278.4,147.5 276.9,151.5 275.1,153.3 273.1,155.0 271.2,156.7 268.5,158.2 265.7,159.6 263.2,161.9 260.6,164.1 258.5,167.1 256.2,169.9 255.6,172.5 255.1,175.0 254.5,177.6 252.7,179.8 250.9,182.0 248.7,183.6 246.5,185.2 244.4,186.9 242.2,188.5 240.8,191.2 239.4,193.8 238.0,196.5 236.2,198.5 234.4,200.4 232.5,202.4 230.7,204.4 228.6,206.5 226.5,208.6 224.4,210.8 222.2,212.6 220.1,214.4 218.0,216.3 216.3,218.1 214.5,219.9 212.6,221.6 210.9,223.6 209.0,225.4 207.2,227.3 204.6,228.3 202.4,230.6 199.8,230.9 197.2,231.3 194.5,231.7 191.9,232.1 189.3,232.6 186.8,233.0 184.3,233.4 181.8,233.9 179.3,234.3 176.8,234.8 174.4,235.3 171.3,236.0 168.3,236.7 165.3,237.5 162.7,239.7 160.5,241.7 158.2,243.1 155.6,243.8 153.1,244.4 150.5,245.0 148.0,245.6 145.4,246.1 142.8,246.7 140.3,247.3 137.8,247.8 135.3,248.3 132.8,248.8 130.3,249.3 127.8,249.8 125.3,250.3 122.5,250.7 119.6,251.1 116.8,251.5 113.9,251.8 111.1,252.2 108.2,252.5 105.2,253.2 102.0,253.2 98.3,255.6 95.6,256.0 93.0,256.4 90.3,256.8 87.6,257.3 85.0,257.7 82.3,258.1 79.6,258.5 77.0,258.9 74.3,259.3 71.7,259.6 69.1,259.9 66.5,260.1 63.9,260.4 61.3,260.7 58.7,260.9 56.1,261.2 53.5,261.5 50.9,261.8 48.3,262.0 45.7,262.3"/><polyline points="320.0,109.4 318.7,113.6 316.9,115.6 315.1,117.6 312.6,120.1 310.2,122.9 307.8,125.6 306.2,127.8 304.6,130.1 303.3,132.2 301.9,134.4 300.6,136.5 297.8,139.8 294.8,141.1 291.7,142.6 289.4,143.5 287.1,144.6 284.7,145.6 281.9,147.1 279.1,148.6 276.9,151.5 274.7,152.9 272.5,154.3 270.3,155.7 267.5,157.0 264.7,158.4 262.2,160.8 259.7,163.2 257.9,166.5 256.2,169.9 255.6,172.5 255.1,175.0 254.5,177.6 252.7,179.8 250.9,182.0 248.7,183.6 246.5,185.2 244.4,186.9 242.2,188.5 239.6,190.1 237.3,192.1 235.3,194.1 232.9,195.6 230.7,197.3 228.6,199.0 226.6,200.8 224.4,202.9 222.5,205.2 221.0,207.8 219.6,210.3 218.5,213.1 218.0,216.3 216.1,218.0 214.2,219.7 212.4,221.4 210.7,223.4 208.9,225.3 207.2,227.3 205.4,230.9 203.3,233.8 200.8,234.4 198.2,234.9 195.6,235.4 193.0,235.9 190.4,236.4 187.9,236.9 185.4,237.3 182.9,237.7 180.4,238.2 177.9,238.6 175.4,238.9 172.3,239.4 169.2,239.8 166.0,240.2 162.7,239.7 160.4,241.2 158.0,242.5 155.5,243.0 152.9,243.6 150.3,244.1 147.8,244.7 145.2,245.2 142.6,245.8 140.1,246.3 137.6,246.8 135.1,247.3 132.6,247.8 130.1,248.3 127.6,248.8 125.1,249.3 122.2,249.7 119.4,250.1 116.6,250.5 113.7,250.9 110.9,251.3 108.1,251.7 105.0,252.5 102.0,253.2 98.3,255.4 95.6,255.8 92.9,256.1 90.3,256.5 87.6,256.9 84.9,257.3 82.2,257.7 79.6,258.1 76.9,258.5 74.2,258.9 71.6,259.2 69.0,259.5 66.4,259.7 63.8,260.0 61.2,260.3 58.6,260.5 56.0,260.8 53.4,261.1 50.8,261.3 48.2,261.6 45.6,261.9"/><polyline points="320.0,109.4 318.9,113.7 317.2,115.8 315.5,117.8 313.0,120.4 310.7,123.1 308.2,125.9 306.6,128.1 304.9,130.3 303.5,132.4 302.1,134.5 300.6,136.5 297.9,139.8 294.8,141.2 291.8,142.7 289.4,143.7 287.1,144.7 284.8,145.7 281.9,147.1 279.1,148.6 276.9,151.5 275.0,153.2 273.0,154.9 271.0,156.5 268.3,158.0 265.6,159.4 263.0,161.7 260.4,164.0 258.4,167.0 256.2,169.9 256.5,173.1 256.5,176.1 256.3,178.9 254.7,181.3 252.9,183.5 250.5,185.0 248.0,186.3 245.2,187.5 242.2,188.5 240.9,191.3 239.6,194.0 238.2,196.7 236.5,198.7 234.7,200.7 232.9,202.7 231.1,204.7 228.9,206.8 226.8,208.9 224.7,211.1 222.4,212.8 220.2,214.6 218.0,216.3 217.0,218.8 215.5,220.9 213.7,222.7 211.7,224.4 209.6,226.0 207.2,227.3 205.1,229.9 203.0,232.6 200.4,233.0 197.8,233.5 195.2,234.0 192.6,234.5 190.0,234.9 187.5,235.4 185.0,235.8 182.5,236.2 180.0,236.7 177.5,237.1 175.0,237.6 171.9,238.1 168.8,238.6 165.8,239.1 162.7,239.7 160.3,240.7 157.9,241.9 155.3,242.4 152.8,242.9 150.2,243.4 147.6,243.9 145.0,244.4 142.5,245.0 139.9,245.5 137.4,246.0 134.9,246.5 132.4,247.0 129.9,247.5 127.4,248.0 124.9,248.5 122.0,248.9 119.2,249.3 116.4,249.7 113.6,250.2 110.7,250.6 107.9,251.1 104.9,252.0 102.0,253.2 98.5,256.7 95.8,257.2 93.2,257.8 90.5,258.3 87.9,258.7 85.2,259.2 82.6,259.7 79.9,260.1 77.2,260.6 74.6,261.1 72.0,261.4 69.4,261.7 66.8,262.0 64.2,262.3 61.6,262.6 59.0,262.9 56.4,263.2 53.8,263.5 51.2,263.8 48.6,264.1 46.0,264.4"/><polyline points="320.0,109.4 318.6,113.5 316.8,115.5 315.0,117.5 312.5,120.0 310.1,122.8 307.7,125.5 306.1,127.8 304.5,130.0 303.2,132.2 301.9,134.3 300.6,136.5 298.1,140.1 295.1,141.7 292.1,143.2 289.8,144.2 287.5,145.2 285.1,146.2 282.2,147.6 279.3,148.9 276.9,151.5 275.0,153.2 273.0,154.8 271.0,156.4 268.2,157.9 265.5,159.3 262.9,161.6 260.4,163.9 258.3,167.0 256.2,169.9 256.3,173.0 256.1,175.8 255.9,178.6 254.2,181.0 252.4,183.2 250.1,184.7 247.6,186.1 245.0,187.4 242.2,188.5 240.7,191.1 239.2,193.7 237.8,196.3 235.9,198.2 234.0,200.1 232.2,202.1 230.4,204.0 228.2,206.2 226.1,208.3 224.1,210.5 222.0,212.4 220.0,214.3 218.0,216.3 215.7,217.5 213.6,219.0 211.8,220.8 210.1,222.8 208.6,225.0 207.2,227.3 205.2,230.2 203.1,232.9 200.5,233.4 197.9,233.8 195.3,234.3 192.7,234.8 190.1,235.3 187.6,235.7 185.1,236.2 182.6,236.6 180.1,237.0 177.6,237.5 175.1,237.9 172.0,238.4 168.9,238.9 165.8,239.4 162.7,239.7 160.3,240.7 157.9,242.0 155.3,242.5 152.8,243.0 150.2,243.5 147.6,244.0 145.0,244.5 142.5,245.0 139.9,245.5 137.4,246.0 134.9,246.5 132.4,247.0 129.9,247.5 127.4,248.0 124.9,248.5 122.1,248.9 119.2,249.3 116.4,249.8 113.6,250.2 110.7,250.7 107.9,251.1 104.9,252.0 102.0,253.2 98.2,254.8 95.5,255.1 92.8,255.4 90.1,255.8 87.5,256.1 84.8,256.5 82.1,256.8 79.4,257.2 76.8,257.6 74.1,258.0 71.5,258.2 68.9,258.5 66.3,258.7 63.7,259.0 61.1,259.2 58.5,259.5 55.9,259.7 53.3,260.0 50.7,260.2 48.0,260.5 45.4,260.7"/><polyline points="320.0,109.4 318.3,113.3 316.3,115.2 314.4,117.1 311.8,119.5 309.4,122.2 307.0,125.0 305.5,127.3 304.0,129.6 302.8,131.9 301.7,134.2 300.6,136.5 297.4,139.0 294.1,140.0 290.9,141.3 288.5,142.2 286.2,143.2 283.9,144.3 281.3,146.1 278.7,148.0 276.9,151.5 274.2,152.3 271.7,153.3 269.3,154.5 266.2,155.6 263.3,156.9 260.9,159.4 258.7,162.0 257.3,165.8 256.2,169.9 254.7,171.7 253.5,173.8 252.5,176.1 250.4,178.1 248.6,180.3 246.7,182.1 244.9,184.0 243.4,186.1 242.2,188.5 240.6,191.0 239.2,193.6 237.7,196.3 235.8,198.2 233.9,200.1 232.1,202.0 230.3,204.0 228.1,206.1 226.0,208.2 224.0,210.5 221.9,212.4 219.9,214.3 218.0,216.3 217.6,219.4 216.4,221.8 214.6,223.5 212.5,225.1 210.0,226.4 207.2,227.3 205.0,229.6 202.9,232.2 200.3,232.6 197.7,233.1 195.1,233.5 192.5,234.0 189.8,234.5 187.3,234.9 184.8,235.3 182.3,235.8 179.9,236.2 177.4,236.6 174.9,237.1 171.8,237.7 168.7,238.2 165.7,238.8 162.7,239.7 160.1,239.8 157.7,240.8 155.1,241.2 152.5,241.5 149.9,242.0 147.3,242.4 144.7,242.8 142.1,243.3 139.5,243.8 137.0,244.2 134.5,244.7 132.0,245.2 129.5,245.7 127.0,246.2 124.5,246.7 121.7,247.1 118.8,247.6 116.0,248.1 113.2,248.6 110.4,249.1 107.6,249.7 104.7,250.9 102.0,253.2 98.4,255.9 95.7,256.4 93.0,256.8 90.4,257.3 87.7,257.7 85.0,258.1 82.4,258.6 79.7,259.0 77.1,259.4 74.4,259.8 71.8,260.1 69.2,260.4 66.6,260.7 64.0,261.0 61.4,261.3 58.8,261.5 56.2,261.8 53.6,262.1 51.0,262.4 48.4,262.7 45.8,263.0"/><polyline points="320.0,109.4 318.1,113.1 316.1,115.0 314.1,116.9 311.5,119.3 309.0,122.0 306.7,124.8 305.2,127.1 303.7,129.4 302.6,131.8 301.6,134.1 300.6,136.5 298.2,140.3 295.3,142.0 292.4,143.6 290.0,144.6 287.7,145.6 285.3,146.5 282.4,147.8 279.4,149.1 276.9,151.5 274.7,152.9 272.6,154.4 270.4,155.8 267.6,157.2 264.8,158.6 262.3,160.9 259.8,163.3 258.0,166.6 256.2,169.9 255.9,172.7 255.5,175.4 255.1,178.0 253.4,180.3 251.6,182.5 249.3,184.1 247.0,185.6 244.7,187.1 242.2,188.5 241.1,191.5 240.0,194.3 238.8,197.2 237.1,199.3 235.4,201.3 233.6,203.3 231.9,205.4 229.7,207.5 227.6,209.6 225.3,211.6 222.9,213.2 220.5,214.8 218.0,216.3 216.3,218.1 214.5,219.9 212.7,221.7 210.9,223.6 209.1,225.4 207.2,227.3 204.7,228.6 202.6,231.0 199.9,231.4 197.3,231.8 194.7,232.2 192.1,232.7 189.5,233.1 187.0,233.5 184.5,234.0 182.0,234.4 179.5,234.9 177.0,235.3 174.5,235.8 171.5,236.5 168.4,237.1 165.4,237.9 162.7,239.7 160.4,241.2 158.1,242.6 155.5,243.1 152.9,243.7 150.4,244.2 147.8,244.8 145.2,245.3 142.7,245.8 140.1,246.4 137.6,246.9 135.1,247.4 132.6,247.9 130.1,248.4 127.6,248.9 125.1,249.4 122.3,249.8 119.4,250.2 116.6,250.6 113.7,251.0 110.9,251.4 108.1,251.8 105.1,252.6 102.0,253.2 98.3,255.7 95.6,256.1 93.0,256.5 90.3,256.9 87.6,257.3 85.0,257.8 82.3,258.2 79.6,258.6 77.0,259.0 74.3,259.4 71.7,259.7 69.1,260.0 66.5,260.2 63.9,260.5 61.3,260.8 58.7,261.1 56.1,261.3 53.5,261.6 50.9,261.9 48.3,262.2 45.7,262.4"/><polyline points="320.0,109.4 318.5,113.4 316.6,115.4 314.8,117.4 312.3,119.8 309.9,122.6 307.5,125.3 305.9,127.6 304.3,129.9 303.1,132.1 301.8,134.3 300.6,136.5 297.9,139.8 294.8,141.2 291.7,142.6 289.4,143.6 287.1,144.6 284.8,145.6 281.9,147.1 279.1,148.6 276.9,151.5 274.9,153.2 272.9,154.8 270.9,156.4 268.2,157.8 265.4,159.2 262.9,161.6 260.3,163.8 258.3,166.9 256.2,169.9 254.8,171.9 253.7,174.0 252.8,176.3 250.8,178.4 249.0,180.6 247.0,182.3 245.2,184.2 243.6,186.3 242.2,188.5 241.0,191.3 239.7,194.1 238.4,196.9 236.7,198.9 234.9,200.9 233.1,202.9 231.3,204.9 229.2,207.0 227.1,209.2 224.9,211.2 222.6,213.0 220.3,214.6 218.0,216.3 216.1,218.0 214.3,219.7 212.4,221.4 210.7,223.4 208.9,225.3 207.2,227.3 205.1,230.0 203.0,232.6 200.4,233.1 197.8,233.6 195.2,234.1 192.6,234.6 190.0,235.1 187.5,235.5 185.0,235.9 182.5,236.4 180.0,236.8 177.5,237.2 175.0,237.6 171.9,238.2 168.9,238.7 165.8,239.2 162.7,239.7 160.4,241.1 158.0,242.4 155.4,242.9 152.9,243.4 150.3,244.0 147.7,244.5 145.2,245.0 142.6,245.6 140.0,246.1 137.5,246.6 135.0,247.1 132.5,247.6 130.0,248.1 127.5,248.6 125.0,249.1 122.2,249.5 119.4,249.9 116.5,250.4 113.7,250.8 110.9,251.2 108.0,251.6 105.0,252.4 102.0,253.2 98.2,254.9 95.5,255.2 92.8,255.6 90.2,255.9 87.5,256.3 84.8,256.7 82.1,257.0 79.5,257.4 76.8,257.8 74.1,258.2 71.5,258.4 68.9,258.7 66.3,258.9 63.7,259.2 61.1,259.4 58.5,259.7 55.9,260.0 53.3,260.2 50.7,260.5 48.1,260.7 45.5,261.0"/><polyline points="320.0,109.4 317.9,113.0 315.8,114.8 313.8,116.6 311.1,119.0 308.6,121.7 306.3,124.5 304.9,126.9 303.5,129.3 302.4,131.6 301.4,134.0 300.6,136.5 297.9,139.8 294.9,141.3 291.8,142.7 289.5,143.7 287.2,144.7 284.8,145.7 282.0,147.2 279.1,148.7 276.9,151.5 274.8,153.0 272.8,154.6 270.7,156.1 267.9,157.5 265.1,158.9 262.6,161.3 260.1,163.6 258.1,166.8 256.2,169.9 255.8,172.6 255.4,175.3 254.9,177.9 253.2,180.1 251.4,182.3 249.1,183.9 246.9,185.5 244.6,187.0 242.2,188.5 239.9,190.4 237.9,192.6 236.1,194.8 233.9,196.5 231.8,198.2 229.8,200.0 227.8,201.8 225.7,203.9 223.7,206.2 222.0,208.7 220.4,211.0 219.0,213.5 218.0,216.3 217.3,219.2 216.0,221.4 214.2,223.2 212.2,224.8 209.9,226.2 207.2,227.3 205.2,230.2 203.1,232.9 200.5,233.4 197.9,233.9 195.3,234.4 192.7,234.9 190.1,235.3 187.6,235.8 185.1,236.2 182.6,236.6 180.1,237.1 177.6,237.5 175.1,237.9 172.0,238.4 168.9,238.9 165.8,239.4 162.7,239.7 160.4,241.4 158.1,242.8 155.6,243.4 153.0,244.0 150.4,244.5 147.9,245.1 145.3,245.7 142.7,246.2 140.2,246.8 137.7,247.3 135.2,247.8 132.7,248.3 130.2,248.8 127.7,249.3 125.2,249.8 122.3,250.2 119.5,250.6 116.7,251.0 113.8,251.4 111.0,251.7 108.1,252.1 105.1,252.8 102.0,253.2 98.1,254.4 95.4,254.6 92.7,254.9 90.0,255.2 87.4,255.5 84.7,255.9 82.0,256.2 79.3,256.6 76.7,256.9 74.0,257.3 71.4,257.5 68.8,257.8 66.2,258.0 63.6,258.2 60.9,258.5 58.3,258.7 55.7,259.0 53.1,259.2 50.5,259.4 47.9,259.7 45.3,259.9"/><polyline points="320.0,109.4 318.7,113.6 316.9,115.6 315.1,117.6 312.7,120.1 310.3,122.9 307.9,125.6 306.2,127.9 304.6,130.1 303.3,132.2 302.0,134.4 300.6,136.5 296.9,138.2 293.3,138.8 290.0,139.8 287.5,140.7 285.2,141.7 283.1,142.9 280.5,144.9 278.2,147.3 276.9,151.5 274.9,153.1 272.9,154.7 270.8,156.2 268.1,157.7 265.3,159.1 262.8,161.4 260.2,163.7 258.2,166.9 256.2,169.9 254.9,171.9 253.8,174.1 252.9,176.4 250.9,178.4 249.1,180.6 247.1,182.4 245.3,184.3 243.6,186.3 242.2,188.5 241.2,191.5 240.1,194.4 238.9,197.3 237.2,199.4 235.6,201.5 233.8,203.5 232.1,205.5 229.9,207.7 227.8,209.8 225.5,211.8 223.1,213.4 220.6,214.9 218.0,216.3 216.3,218.1 214.5,219.9 212.6,221.6 210.8,223.5 209.0,225.4 207.2,227.3 204.8,228.8 202.6,231.3 200.0,231.6 197.4,232.1 194.8,232.5 192.2,232.9 189.5,233.4 187.0,233.8 184.5,234.2 182.0,234.7 179.6,235.1 177.1,235.6 174.6,236.1 171.5,236.7 168.5,237.3 165.5,238.1 162.7,239.7 160.2,240.5 157.9,241.7 155.3,242.2 152.7,242.7 150.1,243.1 147.5,243.6 145.0,244.1 142.4,244.6 139.8,245.1 137.3,245.6 134.8,246.1 132.3,246.6 129.8,247.1 127.3,247.6 124.8,248.1 122.0,248.5 119.1,249.0 116.3,249.4 113.5,249.9 110.7,250.3 107.8,250.8 104.9,251.8 102.0,253.2 98.1,254.3 95.4,254.5 92.7,254.8 90.0,255.1 87.3,255.4 84.7,255.8 82.0,256.1 79.3,256.5 76.6,256.8 74.0,257.2 71.4,257.4 68.7,257.6 66.1,257.9 63.5,258.1 60.9,258.3 58.3,258.6 55.7,258.8 53.1,259.1 50.5,259.3 47.9,259.5 45.3,259.8"/><polyline points="320.0,109.4 318.7,113.6 317.0,115.6 315.2,117.6 312.7,120.2 310.3,122.9 307.9,125.7 306.3,127.9 304.7,130.1 303.3,132.3 302.0,134.4 300.6,136.5 298.1,140.1 295.1,141.7 292.1,143.2 289.8,144.2 287.5,145.2 285.1,146.2 282.2,147.6 279.3,148.9 276.9,151.5 275.2,153.4 273.3,155.2 271.4,156.9 268.8,158.5 266.0,159.9 263.5,162.2 260.8,164.4 258.6,167.2 256.2,169.9 255.3,172.3 254.6,174.7 253.9,177.1 252.0,179.3 250.2,181.5 248.1,183.2 246.1,184.9 244.1,186.7 242.2,188.5 240.1,190.6 238.2,192.8 236.4,195.2 234.3,196.9 232.3,198.6 230.3,200.4 228.4,202.3 226.2,204.4 224.2,206.7 222.4,209.1 220.7,211.3 219.2,213.7 218.0,216.3 215.7,217.6 213.7,219.1 211.8,220.8 210.2,222.9 208.6,225.0 207.2,227.3 205.1,230.0 203.0,232.6 200.4,233.1 197.8,233.6 195.2,234.1 192.6,234.6 190.0,235.0 187.5,235.5 185.0,235.9 182.5,236.3 180.0,236.8 177.5,237.2 175.0,237.6 171.9,238.2 168.9,238.7 165.8,239.2 162.7,239.7 160.3,240.9 158.0,242.2 155.4,242.7 152.8,243.3 150.3,243.8 147.7,244.3 145.1,244.8 142.5,245.3 140.0,245.9 137.5,246.4 135.0,246.9 132.5,247.4 130.0,247.9 127.5,248.4 125.0,248.9 122.1,249.3 119.3,249.7 116.5,250.1 113.6,250.5 110.8,251.0 108.0,251.4 105.0,252.3 102.0,253.2 98.6,257.1 95.9,257.8 93.3,258.3 90.6,258.8 88.0,259.4 85.3,259.9 82.7,260.3 80.0,260.8 77.4,261.3 74.7,261.8 72.1,262.1 69.5,262.4 66.9,262.7 64.3,263.1 61.7,263.4 59.1,263.7 56.6,264.0 54.0,264.3 51.4,264.6 48.8,264.9 46.2,265.2"/><polyline points="320.0,109.4 318.7,113.6 317.0,115.6 315.3,117.7 312.8,120.2 310.4,123.0 308.0,125.7 306.4,127.9 304.7,130.2 303.4,132.3 302.0,134.4 300.6,136.5 297.8,139.6 294.6,140.9 291.6,142.3 289.2,143.3 286.9,144.3 284.6,145.3 281.8,146.9 279.0,148.5 276.9,151.5 275.2,153.4 273.3,155.2 271.4,156.9 268.7,158.4 266.0,159.9 263.4,162.2 260.8,164.4 258.6,167.2 256.2,169.9 255.4,172.3 254.7,174.7 254.0,177.2 252.1,179.4 250.3,181.6 248.2,183.2 246.1,184.9 244.1,186.7 242.2,188.5 241.1,191.4 239.9,194.3 238.7,197.1 236.9,199.2 235.2,201.2 233.5,203.2 231.7,205.2 229.6,207.3 227.4,209.4 225.2,211.5 222.8,213.2 220.5,214.8 218.0,216.3 216.1,218.0 214.2,219.7 212.4,221.4 210.6,223.3 208.9,225.3 207.2,227.3 205.2,230.4 203.1,233.1 200.6,233.6 198.0,234.1 195.4,234.6 192.8,235.1 190.2,235.6 187.7,236.1 185.2,236.5 182.7,236.9 180.2,237.4 177.7,237.8 175.2,238.2 172.1,238.7 169.0,239.2 165.9,239.6 162.7,239.7 160.3,240.7 157.9,241.9 155.3,242.4 152.8,242.9 150.2,243.4 147.6,243.9 145.0,244.4 142.4,244.9 139.9,245.4 137.4,245.9 134.9,246.4 132.4,246.9 129.9,247.4 127.4,247.9 124.9,248.4 122.0,248.8 119.2,249.2 116.4,249.7 113.5,250.1 110.7,250.6 107.9,251.0 104.9,252.0 102.0,253.2 98.2,255.1 95.5,255.4 92.9,255.8 90.2,256.2 87.5,256.5 84.8,256.9 82.2,257.3 79.5,257.7 76.8,258.1 74.2,258.5 71.6,258.7 69.0,259.0 66.4,259.3 63.8,259.5 61.2,259.8 58.6,260.0 56.0,260.3 53.3,260.5 50.7,260.8 48.1,261.1 45.5,261.3"/><polyline points="320.0,109.4 318.5,113.4 316.7,115.4 314.8,117.4 312.3,119.9 309.9,122.6 307.5,125.4 305.9,127.6 304.3,129.9 303.1,132.1 301.8,134.3 300.6,136.5 297.7,139.5 294.6,140.8 291.5,142.2 289.1,143.1 286.8,144.1 284.5,145.2 281.7,146.7 278.9,148.4 276.9,151.5 275.4,153.6 273.7,155.6 271.9,157.4 269.3,159.1 266.6,160.6 264.0,162.8 261.2,164.9 258.9,167.6 256.2,169.9 255.4,172.3 254.6,174.7 253.9,177.2 252.1,179.3 250.3,181.5 248.2,183.2 246.1,184.9 244.1,186.7 242.2,188.5 240.7,191.1 239.3,193.7 237.8,196.4 236.0,198.3 234.1,200.2 232.3,202.2 230.5,204.1 228.3,206.3 226.2,208.4 224.2,210.6 222.1,212.5 220.0,214.4 218.0,216.3 216.7,218.5 215.1,220.5 213.2,222.2 211.3,224.0 209.3,225.7 207.2,227.3 205.1,230.0 203.0,232.6 200.4,233.1 197.8,233.6 195.2,234.1 192.6,234.6 190.0,235.0 187.5,235.5 185.0,235.9 182.5,236.3 180.0,236.8 177.5,237.2 175.0,237.6 171.9,238.2 168.9,238.7 165.8,239.2 162.7,239.7 160.3,240.8 158.0,242.1 155.4,242.6 152.8,243.1 150.2,243.6 147.6,244.1 145.1,244.6 142.5,245.2 139.9,245.7 137.4,246.2 134.9,246.7 132.4,247.2 129.9,247.7 127.4,248.2 124.9,248.7 122.1,249.1 119.3,249.5 116.4,249.9 113.6,250.4 110.8,250.8 107.9,251.2 105.0,252.1 102.0,253.2 98.3,255.4 95.6,255.8 92.9,256.2 90.3,256.6 87.6,257.0 84.9,257.4 82.3,257.8 79.6,258.2 76.9,258.6 74.3,259.0 71.7,259.3 69.1,259.6 66.5,259.8 63.9,260.1 61.3,260.4 58.7,260.6 56.1,260.9 53.5,261.2 50.9,261.4 48.2,261.7 45.6,262.0"/><polyline points="320.0,109.4 318.6,113.5 316.9,115.5 315.1,117.6 312.6,120.1 310.2,122.8 307.8,125.6 306.2,127.8 304.6,130.0 303.2,132.2 301.9,134.4 300.6,136.5 297.8,139.6 294.6,140.9 291.6,142.3 289.2,143.3 286.9,144.3 284.6,145.4 281.8,146.9 279.0,148.5 276.9,151.5 274.8,152.9 272.6,154.4 270.5,155.9 267.7,157.3 264.9,158.7 262.4,161.0 259.9,163.4 258.0,166.6 256.2,169.9 256.0,172.7 255.7,175.5 255.3,178.2 253.6,180.5 251.8,182.7 249.5,184.2 247.2,185.7 244.7,187.2 242.2,188.5 240.8,191.2 239.4,193.9 238.1,196.6 236.2,198.5 234.4,200.5 232.6,202.5 230.8,204.4 228.7,206.6 226.5,208.7 224.4,210.9 222.3,212.7 220.1,214.5 218.0,216.3 215.4,217.2 213.2,218.6 211.3,220.3 209.7,222.5 208.3,224.8 207.2,227.3 204.9,229.3 202.8,231.8 200.2,232.2 197.6,232.7 194.9,233.1 192.3,233.6 189.7,234.0 187.2,234.5 184.7,234.9 182.2,235.3 179.7,235.8 177.2,236.2 174.8,236.7 171.7,237.3 168.6,237.9 165.6,238.5 162.7,239.7 160.4,241.4 158.1,242.8 155.5,243.3 153.0,243.9 150.4,244.5 147.9,245.0 145.3,245.6 142.7,246.1 140.2,246.7 137.7,247.2 135.2,247.7 132.7,248.2 130.2,248.7 127.7,249.2 125.2,249.7 122.3,250.1 119.5,250.5 116.6,250.9 113.8,251.3 111.0,251.7 108.1,252.0 105.1,252.8 102.0,253.2 98.1,254.4 95.4,254.6 92.7,254.9 90.0,255.2 87.4,255.6 84.7,255.9 82.0,256.3 79.3,256.6 76.7,257.0 74.0,257.3 71.4,257.6 68.8,257.8 66.2,258.0 63.6,258.3 60.9,258.5 58.3,258.7 55.7,259.0 53.1,259.2 50.5,259.5 47.9,259.7 45.3,260.0"/><polyline points="320.0,109.4 318.0,113.1 315.9,114.9 313.9,116.7 311.2,119.1 308.8,121.8 306.4,124.6 305.0,126.9 303.6,129.3 302.5,131.7 301.5,134.0 300.6,136.5 298.3,140.5 295.5,142.3 292.6,143.9 290.3,145.0 287.9,146.0 285.6,146.9 282.6,148.1 279.5,149.3 276.9,151.5 274.6,152.8 272.3,154.1 270.1,155.5 267.3,156.8 264.4,158.2 262.0,160.5 259.6,163.0 257.8,166.4 256.2,169.9 255.4,172.3 254.7,174.8 254.1,177.3 252.2,179.4 250.4,181.6 248.3,183.3 246.2,185.0 244.2,186.7 242.2,188.5 240.9,191.2 239.6,194.0 238.2,196.7 236.4,198.7 234.6,200.7 232.8,202.7 231.0,204.6 228.9,206.8 226.8,208.9 224.6,211.0 222.4,212.8 220.2,214.5 218.0,216.3 216.4,218.3 214.7,220.1 212.9,221.9 211.1,223.8 209.2,225.6 207.2,227.3 205.0,229.5 202.8,232.1 200.2,232.5 197.6,232.9 195.0,233.4 192.4,233.9 189.8,234.3 187.3,234.8 184.8,235.2 182.3,235.6 179.8,236.1 177.3,236.5 174.8,237.0 171.8,237.5 168.7,238.1 165.6,238.7 162.7,239.7 160.2,240.2 157.8,241.3 155.2,241.7 152.6,242.1 150.0,242.5 147.4,243.0 144.8,243.5 142.2,244.0 139.7,244.5 137.2,244.9 134.6,245.4 132.1,245.9 129.6,246.4 127.1,246.9 124.6,247.4 121.8,247.8 119.0,248.3 116.2,248.7 113.3,249.2 110.5,249.7 107.7,250.3 104.8,251.4 102.0,253.2 98.5,256.8 95.9,257.4 93.2,257.9 90.6,258.4 87.9,258.9 85.2,259.4 82.6,259.9 79.9,260.3 77.3,260.8 74.6,261.3 72.0,261.6 69.4,261.9 66.8,262.2 64.2,262.5 61.6,262.8 59.1,263.1 56.5,263.4 53.9,263.7 51.3,264.0 48.7,264.3 46.1,264.6"/><polyline points="320.0,109.4 318.8,113.6 317.0,115.7 315.3,117.7 312.8,120.2 310.4,123.0 308.0,125.7 306.4,128.0 304.7,130.2 303.4,132.3 302.0,134.4 300.6,136.5 297.9,139.8 294.8,141.2 291.8,142.6 289.4,143.6 287.1,144.6 284.8,145.7 281.9,147.1 279.1,148.6 276.9,151.5 274.9,153.1 272.9,154.7 270.8,156.2 268.1,157.7 265.3,159.1 262.8,161.4 260.2,163.7 258.2,166.8 256.2,169.9 255.6,172.4 255.0,175.0 254.4,177.5 252.6,179.7 250.8,181.9 248.6,183.5 246.5,185.2 244.3,186.8 242.2,188.5 240.9,191.3 239.6,194.0 238.3,196.8 236.5,198.8 234.7,200.8 232.9,202.7 231.1,204.7 229.0,206.9 226.9,209.0 224.7,211.1 222.5,212.8 220.3,214.6 218.0,216.3 215.9,217.8 214.0,219.4 212.2,221.2 210.4,223.2 208.8,225.2 207.2,227.3 205.2,230.4 203.2,233.2 200.6,233.7 198.0,234.2 195.4,234.7 192.8,235.2 190.2,235.7 187.7,236.2 185.2,236.6 182.7,237.0 180.2,237.4 177.7,237.9 175.2,238.3 172.1,238.8 169.0,239.2 165.9,239.7 162.7,239.7 160.4,241.0 158.0,242.4 155.4,242.9 152.9,243.4 150.3,244.0 147.7,244.5 145.2,245.0 142.6,245.5 140.0,246.1 137.5,246.6 135.0,247.1 132.5,247.6 130.0,248.1 127.5,248.6 125.0,249.1 122.2,249.5 119.4,249.9 116.5,250.3 113.7,250.7 110.8,251.1 108.0,251.6 105.0,252.4 102.0,253.2 98.3,255.8 95.7,256.2 93.0,256.6 90.3,257.0 87.7,257.5 85.0,257.9 82.3,258.3 79.7,258.7 77.0,259.1 74.3,259.5 71.7,259.8 69.1,260.1 66.5,260.4 63.9,260.7 61.3,260.9 58.7,261.2 56.1,261.5 53.5,261.8 50.9,262.0 48.3,262.3 45.7,262.6"/><polyline points="320.0,109.4 319.1,113.9 317.5,116.0 315.9,118.1 313.5,120.7 311.2,123.5 308.7,126.2 307.0,128.4 305.3,130.6 303.8,132.6 302.2,134.6 300.6,136.5 297.7,139.6 294.6,140.9 291.6,142.3 289.2,143.3 286.9,144.3 284.6,145.3 281.8,146.9 279.0,148.5 276.9,151.5 275.1,153.4 273.2,155.1 271.3,156.8 268.6,158.3 265.9,159.8 263.3,162.1 260.7,164.3 258.5,167.2 256.2,169.9 255.7,172.5 255.1,175.1 254.6,177.7 252.8,179.9 251.0,182.1 248.8,183.7 246.6,185.3 244.4,186.9 242.2,188.5 241.0,191.3 239.7,194.1 238.4,196.9 236.6,198.9 234.9,200.9 233.1,202.9 231.3,204.9 229.2,207.0 227.0,209.1 224.9,211.2 222.6,212.9 220.3,214.6 218.0,216.3 216.3,218.1 214.5,219.9 212.7,221.7 210.9,223.6 209.0,225.4 207.2,227.3 205.2,230.4 203.1,233.1 200.6,233.6 198.0,234.1 195.4,234.6 192.8,235.1 190.2,235.6 187.7,236.1 185.2,236.5 182.7,236.9 180.2,237.3 177.7,237.8 175.2,238.2 172.1,238.7 169.0,239.1 165.9,239.6 162.7,239.7 160.6,242.1 158.3,243.6 155.8,244.3 153.2,244.9 150.7,245.6 148.1,246.2 145.6,246.8 143.0,247.4 140.4,247.9 137.9,248.5 135.4,249.0 132.9,249.5 130.5,250.0 128.0,250.5 125.5,251.0 122.6,251.4 119.8,251.8 116.9,252.2 114.1,252.5 111.2,252.8 108.3,253.0 105.3,253.6 102.0,253.2 98.4,256.4 95.8,256.9 93.1,257.4 90.5,257.9 87.8,258.3 85.2,258.8 82.5,259.2 79.8,259.7 77.2,260.1 74.5,260.6 71.9,260.9 69.3,261.2 66.7,261.5 64.1,261.8 61.5,262.1 58.9,262.4 56.3,262.7 53.7,262.9 51.1,263.2 48.5,263.5 45.9,263.8"/><polyline points="320.0,109.4 318.5,113.4 316.6,115.4 314.8,117.3 312.3,119.8 309.8,122.6 307.5,125.3 305.9,127.6 304.3,129.9 303.1,132.1 301.8,134.3 300.6,136.5 298.0,140.0 295.0,141.5 292.0,143.0 289.7,144.0 287.3,145.0 285.0,146.0 282.1,147.4 279.2,148.8 276.9,151.5 274.5,152.7 272.2,154.0 270.0,155.3 267.1,156.6 264.2,157.9 261.8,160.3 259.4,162.8 257.7,166.3 256.2,169.9 256.2,172.9 256.1,175.8 255.8,178.6 254.2,180.9 252.4,183.1 250.1,184.6 247.6,186.0 245.0,187.4 242.2,188.5 240.2,190.7 238.4,193.0 236.7,195.4 234.7,197.2 232.7,199.0 230.7,200.8 228.8,202.7 226.7,204.8 224.6,207.0 222.8,209.4 221.0,211.6 219.4,213.8 218.0,216.3 216.1,218.0 214.3,219.7 212.4,221.4 210.7,223.4 208.9,225.3 207.2,227.3 205.0,229.6 202.9,232.2 200.3,232.7 197.7,233.1 195.1,233.6 192.5,234.1 189.9,234.6 187.4,235.0 184.9,235.4 182.4,235.9 179.9,236.3 177.4,236.7 174.9,237.2 171.8,237.7 168.8,238.3 165.7,238.9 162.7,239.7 160.4,241.3 158.1,242.7 155.5,243.3 153.0,243.9 150.4,244.4 147.8,245.0 145.3,245.5 142.7,246.1 140.1,246.6 137.6,247.1 135.1,247.6 132.6,248.1 130.1,248.6 127.6,249.1 125.1,249.6 122.3,250.1 119.5,250.5 116.6,250.9 113.8,251.2 111.0,251.6 108.1,252.0 105.1,252.7 102.0,253.2 98.3,255.4 95.6,255.8 92.9,256.2 90.3,256.6 87.6,257.0 84.9,257.4 82.3,257.8 79.6,258.2 76.9,258.6 74.2,259.0 71.6,259.3 69.0,259.5 66.4,259.8 63.8,260.1 61.2,260.3 58.6,260.6 56.0,260.9 53.4,261.1 50.8,261.4 48.2,261.7 45.6,261.9"/><polyline points="320.0,109.4 318.8,113.7 317.2,115.8 315.4,117.8 313.0,120.4 310.6,123.1 308.2,125.9 306.5,128.1 304.9,130.3 303.5,132.4 302.1,134.5 300.6,136.5 298.8,141.3 296.2,143.4 293.4,145.2 291.1,146.3 288.8,147.3 286.3,148.1 283.2,149.1 279.9,149.9 276.9,151.5 274.9,153.1 272.8,154.7 270.8,156.2 268.0,157.6 265.2,159.1 262.7,161.4 260.2,163.7 258.2,166.8 256.2,169.9 255.9,172.7 255.5,175.4 255.1,178.0 253.3,180.3 251.5,182.5 249.3,184.1 247.0,185.6 244.7,187.1 242.2,188.5 240.8,191.2 239.4,193.8 238.0,196.5 236.2,198.5 234.3,200.4 232.5,202.4 230.7,204.3 228.6,206.5 226.4,208.6 224.4,210.8 222.2,212.6 220.1,214.4 218.0,216.3 216.1,218.0 214.3,219.7 212.5,221.5 210.7,223.4 208.9,225.3 207.2,227.3 205.3,230.7 203.2,233.4 200.7,234.0 198.1,234.5 195.5,235.0 192.9,235.5 190.3,236.0 187.8,236.5 185.3,236.9 182.8,237.3 180.3,237.7 177.8,238.2 175.3,238.6 172.2,239.0 169.1,239.5 166.0,239.9 162.7,239.7 160.3,240.8 158.0,242.1 155.4,242.6 152.8,243.1 150.2,243.6 147.6,244.1 145.1,244.6 142.5,245.2 139.9,245.7 137.4,246.2 134.9,246.7 132.4,247.2 129.9,247.7 127.4,248.2 124.9,248.7 122.1,249.1 119.3,249.5 116.4,249.9 113.6,250.4 110.8,250.8 107.9,251.2 105.0,252.1 102.0,253.2 98.2,254.9 95.5,255.2 92.8,255.6 90.2,255.9 87.5,256.3 84.8,256.7 82.1,257.0 79.5,257.4 76.8,257.8 74.1,258.2 71.5,258.4 68.9,258.7 66.3,258.9 63.7,259.2 61.1,259.4 58.5,259.7 55.9,260.0 53.3,260.2 50.7,260.5 48.1,260.7 45.5,261.0"/><polyline points="320.0,109.4 318.1,113.1 316.1,115.0 314.1,116.9 311.5,119.3 309.0,122.0 306.7,124.8 305.2,127.1 303.8,129.5 302.6,131.8 301.6,134.1 300.6,136.5 298.0,140.0 295.0,141.5 292.0,143.0 289.7,144.0 287.4,145.0 285.0,146.0 282.1,147.4 279.2,148.8 276.9,151.5 274.4,152.5 272.0,153.7 269.7,155.0 266.7,156.2 263.9,157.5 261.4,159.9 259.1,162.5 257.6,166.1 256.2,169.9 255.6,172.4 255.0,175.0 254.4,177.5 252.6,179.7 250.8,181.9 248.6,183.5 246.4,185.2 244.3,186.8 242.2,188.5 241.1,191.4 239.9,194.3 238.7,197.2 237.0,199.2 235.3,201.3 233.5,203.3 231.8,205.3 229.7,207.4 227.5,209.5 225.2,211.6 222.9,213.2 220.5,214.8 218.0,216.3 216.6,218.5 215.0,220.4 213.1,222.1 211.3,223.9 209.3,225.7 207.2,227.3 205.2,230.4 203.2,233.1 200.6,233.7 198.0,234.2 195.4,234.7 192.8,235.2 190.2,235.7 187.7,236.1 185.2,236.5 182.7,237.0 180.2,237.4 177.7,237.8 175.2,238.2 172.1,238.7 169.0,239.2 165.9,239.6 162.7,239.7 160.6,241.9 158.3,243.4 155.7,244.1 153.2,244.7 150.6,245.4 148.1,246.0 145.5,246.5 142.9,247.1 140.4,247.7 137.9,248.2 135.4,248.7 132.9,249.3 130.4,249.8 127.9,250.3 125.4,250.8 122.6,251.2 119.7,251.6 116.9,251.9 114.0,252.3 111.2,252.6 108.3,252.8 105.2,253.4 102.0,253.2 98.2,255.1 95.5,255.4 92.9,255.8 90.2,256.2 87.5,256.6 84.9,256.9 82.2,257.3 79.5,257.7 76.8,258.1 74.2,258.5 71.6,258.7 69.0,259.0 66.4,259.3 63.8,259.5 61.2,259.8 58.6,260.0 56.0,260.3 53.4,260.6 50.7,260.8 48.1,261.1 45.5,261.3"/><polyline points="320.0,109.4 319.2,114.0 317.7,116.1 316.1,118.3 313.8,120.9 311.4,123.7 309.0,126.4 307.3,128.6 305.5,130.7 303.9,132.7 302.3,134.6 300.6,136.5 298.2,140.4 295.3,142.0 292.4,143.6 290.1,144.7 287.8,145.7 285.4,146.6 282.4,147.9 279.4,149.1 276.9,151.5 274.7,152.9 272.6,154.4 270.5,155.9 267.7,157.2 264.8,158.6 262.4,161.0 259.9,163.4 258.0,166.6 256.2,169.9 255.4,172.3 254.7,174.8 254.1,177.3 252.2,179.4 250.4,181.6 248.3,183.3 246.2,185.0 244.2,186.7 242.2,188.5 241.0,191.4 239.8,194.2 238.5,197.0 236.8,199.0 235.0,201.0 233.3,203.0 231.5,205.0 229.4,207.2 227.2,209.3 225.0,211.4 222.7,213.0 220.4,214.7 218.0,216.3 215.7,217.6 213.7,219.2 211.9,220.9 210.2,222.9 208.6,225.0 207.2,227.3 205.0,229.6 202.9,232.2 200.3,232.7 197.7,233.1 195.1,233.6 192.5,234.1 189.9,234.5 187.4,235.0 184.9,235.4 182.4,235.8 179.9,236.3 177.4,236.7 174.9,237.2 171.8,237.7 168.7,238.3 165.7,238.9 162.7,239.7 160.5,241.7 158.2,243.2 155.7,243.8 153.1,244.4 150.5,245.0 148.0,245.6 145.4,246.2 142.9,246.8 140.3,247.3 137.8,247.8 135.3,248.4 132.8,248.9 130.3,249.4 127.8,249.9 125.3,250.4 122.5,250.8 119.6,251.2 116.8,251.6 113.9,251.9 111.1,252.2 108.2,252.5 105.2,253.2 102.0,253.2 98.3,255.7 95.7,256.2 93.0,256.6 90.3,257.0 87.7,257.4 85.0,257.8 82.3,258.3 79.7,258.7 77.0,259.1 74.3,259.5 71.7,259.8 69.1,260.1 66.5,260.3 63.9,260.6 61.3,260.9 58.7,261.2 56.1,261.5 53.5,261.7 50.9,262.0 48.3,262.3 45.7,262.6"/><polyline points="320.0,109.4 318.7,113.6 317.0,115.6 315.3,117.7 312.8,120.2 310.4,123.0 308.0,125.7 306.4,127.9 304.7,130.2 303.4,132.3 302.0,134.4 300.6,136.5 297.3,139.0 294.0,140.0 290.8,141.2 288.4,142.1 286.1,143.1 283.9,144.2 281.2,146.0 278.6,147.9 276.9,151.5 274.4,152.6 272.0,153.8 269.7,155.0 266.8,156.3 263.9,157.6 261.5,160.0 259.2,162.6 257.6,166.1 256.2,169.9 256.4,173.0 256.3,176.0 256.1,178.8 254.5,181.2 252.7,183.4 250.4,184.9 247.8,186.2 245.2,187.5 242.2,188.5 240.7,191.1 239.3,193.8 237.9,196.4 236.0,198.3 234.2,200.3 232.3,202.2 230.5,204.2 228.4,206.3 226.3,208.5 224.2,210.6 222.1,212.5 220.0,214.4 218.0,216.3 216.1,218.0 214.2,219.7 212.4,221.4 210.7,223.4 208.9,225.3 207.2,227.3 204.8,229.0 202.7,231.5 200.1,231.9 197.4,232.3 194.8,232.7 192.2,233.2 189.6,233.6 187.1,234.0 184.6,234.5 182.1,234.9 179.6,235.4 177.1,235.8 174.6,236.3 171.6,236.9 168.5,237.5 165.5,238.2 162.7,239.7 160.4,241.2 158.1,242.6 155.5,243.1 152.9,243.7 150.4,244.2 147.8,244.8 145.2,245.3 142.7,245.9 140.1,246.4 137.6,246.9 135.1,247.4 132.6,247.9 130.1,248.4 127.6,248.9 125.1,249.4 122.3,249.8 119.4,250.3 116.6,250.7 113.8,251.1 110.9,251.4 108.1,251.8 105.1,252.6 102.0,253.2 98.4,256.0 95.7,256.5 93.0,256.9 90.4,257.4 87.7,257.8 85.1,258.2 82.4,258.7 79.7,259.1 77.1,259.5 74.4,260.0 71.8,260.2 69.2,260.5 66.6,260.8 64.0,261.1 61.4,261.4 58.8,261.7 56.2,262.0 53.6,262.2 51.0,262.5 48.4,262.8 45.8,263.1"/><polyline points="320.0,109.4 318.1,113.2 316.2,115.0 314.2,116.9 311.6,119.3 309.1,122.1 306.8,124.8 305.3,127.2 303.8,129.5 302.7,131.8 301.6,134.1 300.6,136.5 297.4,139.1 294.2,140.2 291.0,141.4 288.6,142.4 286.3,143.4 284.1,144.5 281.3,146.2 278.7,148.0 276.9,151.5 274.5,152.7 272.3,154.0 270.0,155.3 267.1,156.6 264.3,158.0 261.8,160.4 259.4,162.9 257.7,166.3 256.2,169.9 255.1,172.1 254.2,174.4 253.4,176.8 251.5,178.9 249.7,181.1 247.6,182.8 245.7,184.6 243.9,186.5 242.2,188.5 239.6,190.1 237.4,192.1 235.3,194.2 233.0,195.7 230.8,197.3 228.7,199.0 226.7,200.8 224.5,202.9 222.6,205.3 221.0,207.9 219.7,210.4 218.6,213.1 218.0,216.3 216.4,218.3 214.7,220.1 212.9,221.8 211.0,223.7 209.2,225.5 207.2,227.3 205.1,230.1 203.0,232.8 200.5,233.3 197.9,233.8 195.3,234.2 192.7,234.7 190.1,235.2 187.6,235.7 185.1,236.1 182.6,236.5 180.1,236.9 177.6,237.4 175.1,237.8 172.0,238.3 168.9,238.8 165.8,239.3 162.7,239.7 160.1,239.9 157.7,240.9 155.1,241.3 152.5,241.7 149.9,242.1 147.3,242.5 144.7,243.0 142.1,243.5 139.5,244.0 137.0,244.4 134.5,244.9 132.0,245.4 129.5,245.8 127.0,246.3 124.5,246.8 121.7,247.3 118.9,247.7 116.1,248.2 113.2,248.7 110.4,249.3 107.6,249.9 104.7,251.0 102.0,253.2 98.4,256.0 95.7,256.4 93.0,256.9 90.4,257.3 87.7,257.7 85.1,258.2 82.4,258.6 79.7,259.0 77.1,259.5 74.4,259.9 71.8,260.2 69.2,260.5 66.6,260.7 64.0,261.0 61.4,261.3 58.8,261.6 56.2,261.9 53.6,262.1 51.0,262.4 48.4,262.7 45.8,263.0"/><polyline points="320.0,109.4 319.2,114.0 317.7,116.1 316.1,118.3 313.8,120.9 311.4,123.7 309.0,126.4 307.2,128.6 305.4,130.7 303.9,132.7 302.3,134.6 300.6,136.5 297.3,138.9 293.9,139.8 290.7,141.0 288.3,141.9 286.0,142.9 283.8,144.1 281.1,145.8 278.6,147.8 276.9,151.5 275.3,153.6 273.6,155.5 271.7,157.3 269.2,158.9 266.4,160.4 263.9,162.7 261.1,164.8 258.8,167.5 256.2,169.9 255.4,172.3 254.7,174.8 254.0,177.2 252.2,179.4 250.4,181.6 248.3,183.3 246.2,185.0 244.2,186.7 242.2,188.5 241.1,191.4 239.9,194.3 238.7,197.1 237.0,199.2 235.2,201.2 233.5,203.2 231.7,205.2 229.6,207.4 227.4,209.5 225.2,211.5 222.8,213.2 220.5,214.8 218.0,216.3 216.4,218.2 214.6,220.1 212.8,221.8 211.0,223.7 209.1,225.5 207.2,227.3 205.0,229.6 202.9,232.2 200.3,232.6 197.7,233.1 195.1,233.5 192.5,234.0 189.9,234.5 187.4,234.9 184.9,235.3 182.4,235.8 179.9,236.2 177.4,236.7 174.9,237.1 171.8,237.7 168.7,238.2 165.7,238.8 162.7,239.7 160.3,240.6 157.9,241.9 155.3,242.3 152.7,242.8 150.2,243.3 147.6,243.8 145.0,244.3 142.4,244.8 139.9,245.4 137.4,245.8 134.9,246.3 132.4,246.8 129.9,247.3 127.3,247.8 124.9,248.3 122.0,248.7 119.2,249.2 116.4,249.6 113.5,250.1 110.7,250.5 107.9,251.0 104.9,251.9 102.0,253.2 98.4,256.5 95.8,257.0 93.1,257.5 90.5,258.0 87.8,258.4 85.2,258.9 82.5,259.3 79.8,259.8 77.2,260.2 74.5,260.7 71.9,261.0 69.3,261.3 66.7,261.6 64.1,261.9 61.5,262.2 58.9,262.5 56.4,262.8 53.8,263.1 51.2,263.4 48.6,263.7 46.0,263.9"/><polyline points="320.0,109.4 318.4,113.4 316.5,115.3 314.6,117.2 312.1,119.7 309.7,122.4 307.3,125.2 305.7,127.5 304.2,129.8 303.0,132.0 301.8,134.2 300.6,136.5 298.1,140.1 295.1,141.6 292.1,143.2 289.8,144.2 287.4,145.2 285.1,146.2 282.2,147.5 279.3,148.9 276.9,151.5 274.9,153.1 272.9,154.7 270.8,156.2 268.1,157.7 265.3,159.1 262.8,161.4 260.2,163.7 258.2,166.8 256.2,169.9 255.5,172.4 254.9,174.9 254.3,177.4 252.5,179.6 250.7,181.8 248.5,183.5 246.4,185.1 244.3,186.8 242.2,188.5 240.7,191.1 239.2,193.7 237.8,196.3 235.9,198.2 234.0,200.2 232.2,202.1 230.4,204.1 228.2,206.2 226.1,208.3 224.1,210.6 222.0,212.4 220.0,214.3 218.0,216.3 216.2,218.0 214.3,219.8 212.5,221.5 210.7,223.4 209.0,225.4 207.2,227.3 205.4,231.1 203.4,233.9 200.8,234.5 198.2,235.1 195.6,235.6 193.0,236.1 190.4,236.6 188.0,237.1 185.5,237.5 182.9,237.9 180.4,238.3 177.9,238.7 175.4,239.1 172.3,239.5 169.2,239.9 166.1,240.3 162.7,239.7 160.3,240.8 157.9,242.0 155.4,242.5 152.8,243.0 150.2,243.5 147.6,244.0 145.1,244.6 142.5,245.1 139.9,245.6 137.4,246.1 134.9,246.6 132.4,247.1 129.9,247.6 127.4,248.1 124.9,248.6 122.1,249.0 119.2,249.4 116.4,249.9 113.6,250.3 110.8,250.7 107.9,251.2 104.9,252.1 102.0,253.2 98.2,254.9 95.5,255.3 92.8,255.6 90.2,256.0 87.5,256.3 84.8,256.7 82.1,257.1 79.5,257.5 76.8,257.8 74.1,258.2 71.5,258.5 68.9,258.7 66.3,259.0 63.7,259.2 61.1,259.5 58.5,259.7 55.9,260.0 53.3,260.3 50.7,260.5 48.1,260.8 45.5,261.0"/><polyline points="320.0,109.4 319.1,113.9 317.6,116.0 315.9,118.2 313.6,120.8 311.2,123.6 308.8,126.3 307.1,128.4 305.3,130.6 303.8,132.6 302.3,134.6 300.6,136.5 298.1,140.2 295.1,141.7 292.2,143.3 289.9,144.3 287.5,145.3 285.2,146.3 282.2,147.6 279.3,148.9 276.9,151.5 274.8,153.0 272.7,154.5 270.6,156.0 267.7,157.3 264.9,158.7 262.4,161.1 260.0,163.5 258.1,166.7 256.2,169.9 255.5,172.4 254.9,174.9 254.3,177.5 252.5,179.6 250.7,181.8 248.5,183.5 246.4,185.1 244.3,186.8 242.2,188.5 241.0,191.3 239.7,194.1 238.4,196.9 236.6,198.9 234.9,200.9 233.1,202.9 231.3,204.9 229.2,207.0 227.0,209.1 224.9,211.2 222.6,212.9 220.3,214.6 218.0,216.3 216.5,218.4 214.8,220.3 213.0,222.0 211.2,223.8 209.2,225.6 207.2,227.3 205.2,230.4 203.1,233.1 200.5,233.6 198.0,234.1 195.4,234.6 192.8,235.1 190.2,235.6 187.7,236.0 185.2,236.5 182.7,236.9 180.2,237.3 177.7,237.7 175.2,238.2 172.1,238.7 169.0,239.1 165.9,239.6 162.7,239.7 160.3,240.9 158.0,242.2 155.4,242.7 152.8,243.3 150.3,243.8 147.7,244.3 145.1,244.8 142.5,245.4 140.0,245.9 137.5,246.4 135.0,246.9 132.5,247.4 130.0,247.9 127.5,248.4 125.0,248.9 122.1,249.3 119.3,249.7 116.5,250.1 113.6,250.6 110.8,251.0 108.0,251.4 105.0,252.3 102.0,253.2 98.1,254.5 95.4,254.7 92.7,255.0 90.1,255.4 87.4,255.7 84.7,256.1 82.0,256.4 79.4,256.8 76.7,257.1 74.0,257.5 71.4,257.7 68.8,258.0 66.2,258.2 63.6,258.4 61.0,258.7 58.4,258.9 55.8,259.2 53.2,259.4 50.6,259.7 48.0,259.9 45.4,260.2"/><polyline points="320.0,109.4 319.2,113.9 317.6,116.1 316.0,118.2 313.7,120.8 311.3,123.6 308.9,126.3 307.1,128.5 305.4,130.6 303.8,132.6 302.3,134.6 300.6,136.5 296.9,138.3 293.4,138.9 290.0,139.9 287.6,140.8 285.3,141.8 283.1,143.0 280.6,145.0 278.3,147.3 276.9,151.5 275.3,153.6 273.5,155.4 271.7,157.2 269.1,158.9 266.4,160.3 263.8,162.6 261.1,164.7 258.8,167.4 256.2,169.9 255.6,172.5 255.1,175.0 254.5,177.6 252.7,179.8 250.9,182.0 248.7,183.6 246.5,185.2 244.4,186.9 242.2,188.5 240.8,191.2 239.4,193.9 238.1,196.6 236.2,198.5 234.4,200.5 232.6,202.5 230.8,204.4 228.7,206.6 226.5,208.7 224.4,210.9 222.3,212.7 220.1,214.5 218.0,216.3 217.6,219.4 216.4,221.8 214.6,223.5 212.5,225.1 210.0,226.4 207.2,227.3 204.9,229.4 202.8,231.9 200.2,232.3 197.6,232.8 195.0,233.2 192.4,233.7 189.8,234.2 187.3,234.6 184.8,235.0 182.3,235.5 179.8,235.9 177.3,236.4 174.8,236.8 171.7,237.4 168.7,238.0 165.6,238.6 162.7,239.7 160.1,239.9 157.7,240.9 155.1,241.3 152.5,241.7 149.9,242.1 147.3,242.5 144.7,243.0 142.1,243.4 139.5,243.9 137.0,244.4 134.5,244.8 132.0,245.3 129.5,245.8 127.0,246.3 124.5,246.8 121.7,247.2 118.9,247.7 116.0,248.2 113.2,248.7 110.4,249.3 107.6,249.9 104.7,251.0 102.0,253.2 98.4,256.4 95.8,256.9 93.1,257.4 90.5,257.9 87.8,258.4 85.2,258.8 82.5,259.3 79.8,259.7 77.2,260.2 74.5,260.6 71.9,260.9 69.3,261.2 66.7,261.5 64.1,261.8 61.5,262.1 58.9,262.4 56.3,262.7 53.7,263.0 51.1,263.3 48.6,263.6 46.0,263.9"/><polyline points="320.0,109.4 318.6,113.5 316.8,115.5 315.0,117.5 312.4,120.0 310.0,122.7 307.6,125.5 306.1,127.7 304.5,130.0 303.2,132.1 301.9,134.3 300.6,136.5 297.2,138.7 293.8,139.6 290.6,140.8 288.2,141.7 285.9,142.7 283.6,143.9 281.0,145.7 278.5,147.7 276.9,151.5 274.8,153.0 272.6,154.4 270.5,155.9 267.7,157.3 264.9,158.7 262.4,161.0 259.9,163.4 258.1,166.6 256.2,169.9 255.9,172.7 255.6,175.4 255.2,178.1 253.4,180.4 251.6,182.6 249.4,184.1 247.1,185.6 244.7,187.1 242.2,188.5 241.0,191.4 239.8,194.2 238.6,197.1 236.9,199.1 235.1,201.1 233.4,203.1 231.6,205.1 229.5,207.3 227.3,209.4 225.1,211.4 222.8,213.1 220.4,214.7 218.0,216.3 215.4,217.3 213.3,218.7 211.4,220.4 209.8,222.5 208.4,224.8 207.2,227.3 205.3,230.5 203.2,233.3 200.6,233.8 198.0,234.3 195.4,234.8 192.8,235.3 190.2,235.8 187.7,236.2 185.2,236.7 182.7,237.1 180.2,237.5 177.7,237.9 175.2,238.3 172.1,238.8 169.0,239.3 165.9,239.7 162.7,239.7 160.5,241.5 158.1,242.9 155.6,243.5 153.0,244.1 150.5,244.7 147.9,245.3 145.3,245.8 142.8,246.4 140.2,246.9 137.7,247.4 135.2,248.0 132.7,248.5 130.2,249.0 127.7,249.5 125.2,250.0 122.4,250.4 119.5,250.8 116.7,251.2 113.9,251.5 111.0,251.9 108.2,252.2 105.1,252.9 102.0,253.2 98.4,256.2 95.7,256.7 93.1,257.2 90.4,257.6 87.8,258.1 85.1,258.5 82.4,259.0 79.8,259.4 77.1,259.9 74.5,260.3 71.9,260.6 69.3,260.9 66.7,261.2 64.1,261.5 61.5,261.8 58.9,262.1 56.3,262.3 53.7,262.6 51.1,262.9 48.5,263.2 45.9,263.5"/><polyline points="320.0,109.4 318.8,113.6 317.0,115.7 315.3,117.7 312.8,120.2 310.4,123.0 308.0,125.7 306.4,128.0 304.7,130.2 303.4,132.3 302.0,134.4 300.6,136.5 298.5,140.8 295.8,142.7 292.9,144.4 290.6,145.5 288.3,146.5 285.9,147.4 282.8,148.5 279.6,149.5 276.9,151.5 274.9,153.1 272.8,154.6 270.7,156.2 268.0,157.6 265.2,159.0 262.7,161.3 260.1,163.7 258.2,166.8 256.2,169.9 255.2,172.2 254.4,174.6 253.7,177.0 251.8,179.1 250.0,181.3 247.9,183.0 245.9,184.8 244.0,186.6 242.2,188.5 239.9,190.4 237.8,192.5 235.9,194.7 233.7,196.3 231.6,198.0 229.5,199.8 227.6,201.6 225.4,203.7 223.5,206.0 221.8,208.6 220.2,210.9 218.9,213.4 218.0,216.3 215.1,217.0 212.8,218.3 211.0,220.0 209.5,222.2 208.2,224.6 207.2,227.3 205.1,229.9 203.0,232.5 200.4,233.0 197.8,233.5 195.2,234.0 192.6,234.4 190.0,234.9 187.5,235.3 185.0,235.8 182.5,236.2 180.0,236.6 177.5,237.1 175.0,237.5 171.9,238.0 168.8,238.6 165.8,239.1 162.7,239.7 160.4,241.1 158.0,242.5 155.5,243.0 152.9,243.6 150.3,244.1 147.8,244.6 145.2,245.2 142.6,245.7 140.1,246.3 137.6,246.8 135.1,247.3 132.6,247.8 130.1,248.3 127.6,248.8 125.1,249.3 122.2,249.7 119.4,250.1 116.6,250.5 113.7,250.9 110.9,251.3 108.0,251.7 105.0,252.5 102.0,253.2 98.2,255.1 95.6,255.5 92.9,255.9 90.2,256.2 87.5,256.6 84.9,257.0 82.2,257.4 79.5,257.8 76.9,258.2 74.2,258.6 71.6,258.8 69.0,259.1 66.4,259.3 63.8,259.6 61.2,259.9 58.6,260.1 56.0,260.4 53.4,260.6 50.8,260.9 48.2,261.2 45.6,261.4"/><polyline points="320.0,109.4 319.1,113.8 317.5,116.0 315.8,118.1 313.4,120.7 311.1,123.5 308.6,126.2 306.9,128.4 305.2,130.5 303.7,132.5 302.2,134.6 300.6,136.5 297.9,139.8 294.8,141.2 291.8,142.7 289.5,143.7 287.1,144.7 284.8,145.7 281.9,147.2 279.1,148.6 276.9,151.5 274.8,153.0 272.7,154.5 270.6,156.0 267.8,157.4 265.0,158.9 262.5,161.2 260.0,163.5 258.1,166.7 256.2,169.9 255.5,172.4 254.8,174.9 254.2,177.4 252.4,179.5 250.6,181.7 248.4,183.4 246.3,185.1 244.2,186.8 242.2,188.5 240.5,190.9 238.8,193.4 237.3,195.9 235.3,197.7 233.4,199.6 231.5,201.5 229.6,203.4 227.5,205.5 225.4,207.7 223.4,210.0 221.5,212.0 219.7,214.1 218.0,216.3 215.4,217.2 213.2,218.6 211.3,220.3 209.7,222.5 208.3,224.8 207.2,227.3 205.2,230.1 203.1,232.8 200.5,233.3 197.9,233.8 195.3,234.3 192.7,234.8 190.1,235.3 187.6,235.7 185.1,236.2 182.6,236.6 180.1,237.0 177.6,237.4 175.1,237.9 172.0,238.4 168.9,238.9 165.8,239.4 162.7,239.7 160.4,241.2 158.1,242.6 155.5,243.1 152.9,243.7 150.4,244.2 147.8,244.8 145.2,245.3 142.7,245.9 140.1,246.4 137.6,246.9 135.1,247.4 132.6,247.9 130.1,248.4 127.6,248.9 125.1,249.4 122.3,249.8 119.4,250.2 116.6,250.6 113.7,251.0 110.9,251.4 108.1,251.8 105.1,252.6 102.0,253.2 98.4,256.0 95.7,256.4 93.0,256.9 90.4,257.3 87.7,257.8 85.1,258.2 82.4,258.6 79.7,259.0 77.1,259.5 74.4,259.9 71.8,260.2 69.2,260.5 66.6,260.7 64.0,261.0 61.4,261.3 58.8,261.6 56.2,261.9 53.6,262.2 51.0,262.4 48.4,262.7 45.8,263.0"/><polyline points="320.0,109.4 318.8,113.7 317.1,115.7 315.4,117.8 313.0,120.3 310.6,123.1 308.2,125.8 306.5,128.1 304.9,130.3 303.5,132.4 302.1,134.4 300.6,136.5 297.1,138.5 293.6,139.3 290.3,140.4 287.9,141.2 285.6,142.3 283.4,143.5 280.8,145.4 278.4,147.5 276.9,151.5 274.7,152.9 272.5,154.3 270.3,155.7 267.5,157.1 264.7,158.4 262.2,160.8 259.8,163.2 257.9,166.5 256.2,169.9 255.9,172.7 255.6,175.4 255.1,178.1 253.4,180.3 251.6,182.5 249.4,184.1 247.1,185.6 244.7,187.1 242.2,188.5 240.7,191.1 239.3,193.8 237.9,196.5 236.1,198.4 234.2,200.3 232.4,202.3 230.6,204.2 228.4,206.4 226.3,208.5 224.3,210.7 222.1,212.5 220.0,214.4 218.0,216.3 215.9,217.8 214.0,219.4 212.1,221.1 210.4,223.1 208.8,225.2 207.2,227.3 204.6,228.2 202.4,230.5 199.8,230.9 197.1,231.2 194.5,231.6 191.9,232.0 189.3,232.5 186.8,232.9 184.3,233.3 181.8,233.8 179.3,234.2 176.8,234.7 174.3,235.2 171.3,235.9 168.3,236.6 165.3,237.5 162.7,239.7 160.1,240.1 157.7,241.1 155.1,241.5 152.5,241.9 150.0,242.4 147.4,242.8 144.8,243.3 142.2,243.8 139.6,244.3 137.1,244.7 134.6,245.2 132.1,245.7 129.6,246.2 127.1,246.7 124.6,247.2 121.8,247.6 118.9,248.1 116.1,248.5 113.3,249.0 110.5,249.6 107.7,250.1 104.8,251.2 102.0,253.2 98.1,254.4 95.4,254.6 92.7,254.9 90.0,255.2 87.4,255.6 84.7,255.9 82.0,256.2 79.3,256.6 76.7,257.0 74.0,257.3 71.4,257.5 68.8,257.8 66.2,258.0 63.6,258.3 60.9,258.5 58.3,258.7 55.7,259.0 53.1,259.2 50.5,259.5 47.9,259.7 45.3,259.9"/><polyline points="320.0,109.4 318.2,113.2 316.2,115.1 314.2,117.0 311.6,119.4 309.2,122.1 306.8,124.9 305.3,127.2 303.9,129.5 302.7,131.8 301.6,134.1 300.6,136.5 297.9,139.8 294.8,141.2 291.8,142.7 289.4,143.6 287.1,144.6 284.8,145.7 281.9,147.1 279.1,148.6 276.9,151.5 274.5,152.6 272.2,153.9 269.9,155.2 267.0,156.4 264.1,157.8 261.7,160.2 259.3,162.7 257.7,166.2 256.2,169.9 256.2,172.9 256.0,175.7 255.7,178.5 254.0,180.8 252.2,183.0 249.9,184.5 247.5,186.0 244.9,187.3 242.2,188.5 240.0,190.5 238.1,192.7 236.2,195.0 234.1,196.6 232.0,198.4 230.0,200.2 228.0,202.0 225.9,204.1 223.9,206.4 222.1,208.9 220.5,211.1 219.1,213.6 218.0,216.3 216.5,218.4 214.8,220.3 213.0,222.0 211.2,223.9 209.2,225.6 207.2,227.3 205.1,229.9 203.0,232.5 200.4,233.0 197.8,233.5 195.2,233.9 192.6,234.4 190.0,234.9 187.5,235.3 185.0,235.8 182.5,236.2 180.0,236.6 177.5,237.1 175.0,237.5 171.9,238.0 168.8,238.6 165.8,239.1 162.7,239.7 160.4,241.1 158.0,242.4 155.4,242.9 152.9,243.4 150.3,244.0 147.7,244.5 145.2,245.0 142.6,245.6 140.0,246.1 137.5,246.6 135.0,247.1 132.5,247.6 130.0,248.1 127.5,248.6 125.0,249.1 122.2,249.5 119.4,249.9 116.5,250.3 113.7,250.8 110.9,251.2 108.0,251.6 105.0,252.4 102.0,253.2 98.3,255.9 95.7,256.3 93.0,256.7 90.4,257.2 87.7,257.6 85.0,258.0 82.4,258.4 79.7,258.9 77.0,259.3 74.4,259.7 71.8,260.0 69.2,260.3 66.6,260.6 64.0,260.8 61.4,261.1 58.8,261.4 56.2,261.7 53.6,262.0 51.0,262.2 48.4,262.5 45.8,262.8"/><polyline points="320.0,109.4 318.7,113.6 316.9,115.6 315.2,117.6 312.7,120.1 310.3,122.9 307.9,125.6 306.3,127.9 304.6,130.1 303.3,132.2 302.0,134.4 300.6,136.5 298.1,140.2 295.2,141.8 292.2,143.3 289.9,144.4 287.6,145.4 285.2,146.3 282.3,147.7 279.3,149.0 276.9,151.5 274.5,152.7 272.3,154.0 270.0,155.4 267.1,156.7 264.3,158.0 261.8,160.4 259.5,162.9 257.8,166.3 256.2,169.9 255.8,172.6 255.4,175.3 254.9,177.9 253.2,180.2 251.4,182.4 249.2,184.0 246.9,185.5 244.6,187.0 242.2,188.5 240.6,191.0 239.1,193.6 237.6,196.2 235.7,198.1 233.9,200.0 232.0,201.9 230.2,203.9 228.0,206.0 225.9,208.2 223.9,210.4 221.9,212.3 219.9,214.3 218.0,216.3 217.3,219.1 216.0,221.4 214.2,223.1 212.1,224.8 209.8,226.2 207.2,227.3 205.3,230.8 203.3,233.6 200.7,234.1 198.1,234.6 195.5,235.2 192.9,235.7 190.3,236.2 187.8,236.6 185.3,237.1 182.8,237.5 180.3,237.9 177.8,238.3 175.3,238.7 172.2,239.2 169.1,239.6 166.0,240.0 162.7,239.7 160.2,240.3 157.8,241.5 155.2,241.9 152.6,242.4 150.1,242.9 147.5,243.3 144.9,243.8 142.3,244.3 139.7,244.8 137.2,245.3 134.7,245.8 132.2,246.3 129.7,246.7 127.2,247.2 124.7,247.7 121.9,248.2 119.1,248.6 116.2,249.1 113.4,249.5 110.6,250.0 107.8,250.6 104.8,251.6 102.0,253.2 98.4,256.4 95.8,256.9 93.1,257.4 90.5,257.9 87.8,258.4 85.2,258.8 82.5,259.3 79.8,259.7 77.2,260.2 74.5,260.6 71.9,260.9 69.3,261.2 66.7,261.5 64.1,261.8 61.5,262.1 58.9,262.4 56.3,262.7 53.7,263.0 51.1,263.3 48.6,263.6 46.0,263.9"/><polyline points="320.0,109.4 318.5,113.4 316.7,115.4 314.9,117.4 312.3,119.9 309.9,122.6 307.5,125.4 306.0,127.7 304.4,129.9 303.1,132.1 301.9,134.3 300.6,136.5 298.1,140.2 295.2,141.8 292.2,143.3 289.9,144.4 287.6,145.3 285.2,146.3 282.3,147.7 279.3,149.0 276.9,151.5 274.5,152.7 272.2,153.9 270.0,155.3 267.0,156.5 264.2,157.9 261.7,160.3 259.4,162.8 257.7,166.3 256.2,169.9 255.7,172.5 255.2,175.1 254.6,177.7 252.8,179.9 251.0,182.1 248.8,183.7 246.6,185.3 244.4,186.9 242.2,188.5 240.6,191.0 239.1,193.6 237.6,196.2 235.7,198.1 233.8,200.0 231.9,201.9 230.1,203.8 228.0,205.9 225.9,208.1 223.9,210.4 221.8,212.3 219.9,214.2 218.0,216.3 216.2,218.0 214.3,219.7 212.5,221.5 210.7,223.4 209.0,225.4 207.2,227.3 204.8,229.0 202.7,231.4 200.1,231.8 197.4,232.2 194.8,232.7 192.2,233.1 189.6,233.6 187.1,234.0 184.6,234.4 182.1,234.9 179.6,235.3 177.1,235.8 174.6,236.3 171.6,236.9 168.5,237.5 165.5,238.2 162.7,239.7 160.3,240.8 158.0,242.1 155.4,242.6 152.8,243.1 150.2,243.6 147.7,244.1 145.1,244.7 142.5,245.2 139.9,245.7 137.4,246.2 134.9,246.7 132.4,247.2 129.9,247.7 127.4,248.2 124.9,248.7 122.1,249.1 119.3,249.5 116.4,250.0 113.6,250.4 110.8,250.8 107.9,251.3 105.0,252.2 102.0,253.2 98.2,255.1 95.5,255.4 92.9,255.8 90.2,256.1 87.5,256.5 84.8,256.9 82.2,257.3 79.5,257.7 76.8,258.0 74.2,258.4 71.6,258.7 69.0,258.9 66.4,259.2 63.7,259.5 61.1,259.7 58.5,260.0 55.9,260.2 53.3,260.5 50.7,260.8 48.1,261.0 45.5,261.3"/><polyline points="320.0,109.4 318.5,113.4 316.7,115.4 314.9,117.4 312.3,119.9 309.9,122.6 307.5,125.4 305.9,127.6 304.4,129.9 303.1,132.1 301.8,134.3 300.6,136.5 298.2,140.4 295.4,142.1 292.4,143.7 290.1,144.7 287.8,145.7 285.4,146.6 282.4,147.9 279.4,149.1 276.9,151.5 274.6,152.7 272.3,154.0 270.1,155.4 267.2,156.7 264.3,158.0 261.9,160.4 259.5,162.9 257.8,166.3 256.2,169.9 256.2,172.9 256.0,175.8 255.7,178.5 254.1,180.9 252.3,183.1 250.0,184.6 247.5,186.0 245.0,187.3 242.2,188.5 241.3,191.6 240.2,194.6 239.2,197.5 237.5,199.7 235.9,201.8 234.2,203.8 232.4,205.8 230.3,208.0 228.1,210.1 225.8,212.0 223.3,213.6 220.7,215.0 218.0,216.3 216.2,218.1 214.4,219.8 212.6,221.6 210.8,223.5 209.0,225.4 207.2,227.3 205.4,230.9 203.3,233.7 200.7,234.3 198.2,234.8 195.6,235.4 193.0,235.9 190.4,236.4 187.9,236.8 185.4,237.3 182.9,237.7 180.4,238.1 177.9,238.5 175.4,238.9 172.3,239.3 169.2,239.8 166.0,240.1 162.7,239.7 160.3,241.0 158.0,242.2 155.4,242.8 152.8,243.3 150.3,243.8 147.7,244.3 145.1,244.9 142.6,245.4 140.0,245.9 137.5,246.4 135.0,246.9 132.5,247.4 130.0,247.9 127.5,248.4 125.0,248.9 122.1,249.3 119.3,249.8 116.5,250.2 113.7,250.6 110.8,251.0 108.0,251.4 105.0,252.3 102.0,253.2 98.4,255.9 95.7,256.4 93.0,256.8 90.4,257.2 87.7,257.7 85.0,258.1 82.4,258.5 79.7,259.0 77.0,259.4 74.4,259.8 71.8,260.1 69.2,260.4 66.6,260.7 64.0,260.9 61.4,261.2 58.8,261.5 56.2,261.8 53.6,262.1 51.0,262.3 48.4,262.6 45.8,262.9"/><polyline points="320.0,109.4 318.4,113.4 316.6,115.3 314.7,117.3 312.2,119.8 309.7,122.5 307.4,125.3 305.8,127.5 304.2,129.8 303.0,132.0 301.8,134.3 300.6,136.5 297.8,139.7 294.7,141.0 291.7,142.5 289.3,143.4 287.0,144.4 284.7,145.5 281.8,147.0 279.0,148.5 276.9,151.5 274.0,152.2 271.4,153.1 268.9,154.1 265.8,155.2 262.9,156.5 260.5,158.9 258.4,161.7 257.1,165.6 256.2,169.9 255.6,172.5 255.1,175.0 254.5,177.6 252.7,179.8 250.9,182.0 248.7,183.6 246.6,185.3 244.4,186.9 242.2,188.5 239.9,190.4 237.9,192.6 236.1,194.8 233.9,196.5 231.8,198.2 229.7,200.0 227.8,201.8 225.6,203.9 223.7,206.2 221.9,208.7 220.4,211.0 219.0,213.5 218.0,216.3 217.3,219.1 215.9,221.3 214.1,223.1 212.1,224.8 209.8,226.2 207.2,227.3 205.2,230.4 203.1,233.1 200.5,233.6 198.0,234.1 195.4,234.6 192.8,235.1 190.2,235.6 187.7,236.0 185.2,236.5 182.7,236.9 180.2,237.3 177.7,237.7 175.2,238.1 172.1,238.6 169.0,239.1 165.9,239.6 162.7,239.7 160.1,239.8 157.7,240.9 155.1,241.2 152.5,241.6 149.9,242.0 147.3,242.5 144.7,242.9 142.1,243.4 139.5,243.9 137.0,244.3 134.5,244.8 132.0,245.3 129.5,245.7 127.0,246.2 124.5,246.7 121.7,247.2 118.8,247.6 116.0,248.1 113.2,248.6 110.4,249.2 107.6,249.8 104.7,251.0 102.0,253.2 98.5,257.0 95.9,257.6 93.2,258.2 90.6,258.7 87.9,259.2 85.3,259.7 82.6,260.2 80.0,260.6 77.3,261.1 74.7,261.6 72.1,261.9 69.5,262.2 66.9,262.5 64.3,262.9 61.7,263.2 59.1,263.5 56.5,263.8 53.9,264.1 51.3,264.4 48.7,264.7 46.1,265.0"/><polyline points="320.0,109.4 319.2,113.9 317.6,116.1 316.0,118.2 313.6,120.8 311.3,123.6 308.8,126.3 307.1,128.5 305.3,130.6 303.8,132.6 302.3,134.6 300.6,136.5 297.3,138.9 293.9,139.8 290.7,141.0 288.3,141.9 286.0,142.9 283.8,144.1 281.1,145.9 278.6,147.8 276.9,151.5 274.5,152.7 272.2,154.0 270.0,155.3 267.1,156.6 264.2,158.0 261.8,160.3 259.4,162.8 257.7,166.3 256.2,169.9 255.8,172.6 255.3,175.2 254.9,177.9 253.1,180.1 251.3,182.3 249.1,183.9 246.8,185.5 244.5,187.0 242.2,188.5 241.4,191.7 240.4,194.7 239.3,197.7 237.7,199.8 236.1,201.9 234.4,204.0 232.7,206.1 230.6,208.2 228.3,210.3 226.0,212.2 223.5,213.7 220.8,215.1 218.0,216.3 217.3,219.1 216.0,221.4 214.2,223.1 212.1,224.8 209.8,226.2 207.2,227.3 205.0,229.7 202.9,232.3 200.3,232.7 197.7,233.2 195.1,233.7 192.5,234.1 189.9,234.6 187.4,235.0 184.9,235.5 182.4,235.9 179.9,236.3 177.4,236.8 174.9,237.2 171.8,237.8 168.8,238.3 165.7,238.9 162.7,239.7 160.3,240.9 158.0,242.2 155.4,242.7 152.8,243.3 150.3,243.8 147.7,244.3 145.1,244.8 142.5,245.3 140.0,245.9 137.5,246.4 135.0,246.9 132.5,247.4 130.0,247.9 127.5,248.4 125.0,248.9 122.1,249.3 119.3,249.7 116.5,250.1 113.6,250.5 110.8,251.0 108.0,251.4 105.0,252.3 102.0,253.2 98.4,256.3 95.8,256.8 93.1,257.3 90.4,257.8 87.8,258.2 85.1,258.7 82.5,259.1 79.8,259.6 77.1,260.0 74.5,260.4 71.9,260.7 69.3,261.0 66.7,261.3 64.1,261.6 61.5,261.9 58.9,262.2 56.3,262.5 53.7,262.8 51.1,263.1 48.5,263.4 45.9,263.7"/><polyline points="320.0,109.4 318.8,113.6 317.0,115.7 315.3,117.7 312.8,120.2 310.4,123.0 308.0,125.7 306.4,128.0 304.7,130.2 303.4,132.3 302.0,134.4 300.6,136.5 298.2,140.3 295.2,141.9 292.3,143.5 290.0,144.5 287.6,145.5 285.3,146.4 282.3,147.8 279.3,149.0 276.9,151.5 274.6,152.8 272.3,154.1 270.1,155.5 267.3,156.8 264.4,158.2 262.0,160.5 259.6,163.0 257.8,166.4 256.2,169.9 254.9,171.9 253.8,174.1 252.9,176.4 250.9,178.5 249.1,180.7 247.1,182.4 245.3,184.3 243.6,186.3 242.2,188.5 241.4,191.7 240.4,194.7 239.4,197.7 237.8,199.9 236.2,202.0 234.5,204.1 232.8,206.1 230.6,208.3 228.4,210.3 226.1,212.3 223.5,213.7 220.9,215.1 218.0,216.3 215.9,217.8 214.0,219.4 212.2,221.2 210.5,223.2 208.8,225.2 207.2,227.3 204.8,228.8 202.6,231.3 200.0,231.6 197.4,232.0 194.8,232.5 192.1,232.9 189.5,233.4 187.0,233.8 184.5,234.2 182.0,234.7 179.5,235.1 177.1,235.6 174.6,236.1 171.5,236.7 168.5,237.3 165.5,238.1 162.7,239.7 160.3,240.7 157.9,241.9 155.3,242.4 152.7,242.9 150.2,243.4 147.6,243.9 145.0,244.4 142.4,244.9 139.9,245.4 137.4,245.9 134.9,246.4 132.4,246.9 129.9,247.4 127.4,247.9 124.9,248.4 122.0,248.8 119.2,249.2 116.4,249.7 113.5,250.1 110.7,250.6 107.9,251.0 104.9,252.0 102.0,253.2 98.3,255.4 95.6,255.8 92.9,256.1 90.3,256.5 87.6,256.9 84.9,257.3 82.2,257.7 79.6,258.1 76.9,258.5 74.2,258.9 71.6,259.2 69.0,259.5 66.4,259.7 63.8,260.0 61.2,260.3 58.6,260.5 56.0,260.8 53.4,261.1 50.8,261.3 48.2,261.6 45.6,261.9"/><polyline points="320.0,109.4 318.8,113.7 317.1,115.7 315.4,117.8 313.0,120.3 310.6,123.1 308.2,125.8 306.5,128.1 304.9,130.3 303.5,132.4 302.1,134.4 300.6,136.5 298.7,141.1 296.0,143.1 293.2,144.9 290.9,146.0 288.6,147.0 286.2,147.8 283.0,148.9 279.8,149.7 276.9,151.5 274.8,153.0 272.8,154.6 270.7,156.1 267.9,157.5 265.1,158.9 262.6,161.2 260.1,163.6 258.1,166.7 256.2,169.9 255.3,172.2 254.5,174.6 253.8,177.0 251.9,179.2 250.1,181.4 248.0,183.1 246.0,184.8 244.0,186.6 242.2,188.5 241.0,191.3 239.7,194.1 238.4,196.9 236.6,198.9 234.9,200.9 233.1,202.9 231.3,204.9 229.2,207.0 227.0,209.1 224.9,211.2 222.6,212.9 220.3,214.6 218.0,216.3 216.1,217.9 214.2,219.6 212.3,221.3 210.6,223.3 208.9,225.3 207.2,227.3 205.0,229.7 202.9,232.3 200.3,232.7 197.7,233.2 195.1,233.7 192.5,234.1 189.9,234.6 187.4,235.0 184.9,235.5 182.4,235.9 179.9,236.3 177.4,236.8 174.9,237.2 171.8,237.8 168.8,238.3 165.7,238.9 162.7,239.7 160.4,241.2 158.1,242.6 155.5,243.2 152.9,243.7 150.4,244.3 147.8,244.8 145.2,245.4 142.7,245.9 140.1,246.5 137.6,247.0 135.1,247.5 132.6,248.0 130.1,248.5 127.6,249.0 125.1,249.5 122.3,249.9 119.4,250.3 116.6,250.7 113.8,251.1 110.9,251.5 108.1,251.9 105.1,252.6 102.0,253.2 98.4,256.0 95.7,256.5 93.1,256.9 90.4,257.4 87.7,257.8 85.1,258.3 82.4,258.7 79.7,259.1 77.1,259.6 74.4,260.0 71.8,260.3 69.2,260.6 66.6,260.8 64.0,261.1 61.4,261.4 58.8,261.7 56.2,262.0 53.6,262.3 51.0,262.6 48.4,262.8 45.8,263.1"/><polyline points="320.0,109.4 318.5,113.4 316.6,115.3 314.7,117.3 312.2,119.8 309.8,122.5 307.4,125.3 305.8,127.6 304.3,129.8 303.0,132.0 301.8,134.3 300.6,136.5 298.2,140.3 295.3,142.0 292.4,143.6 290.1,144.6 287.7,145.6 285.4,146.6 282.4,147.9 279.4,149.1 276.9,151.5 274.9,153.1 272.8,154.7 270.8,156.2 268.0,157.7 265.2,159.1 262.7,161.4 260.2,163.7 258.2,166.8 256.2,169.9 254.5,171.6 253.2,173.7 252.2,175.8 250.1,177.8 248.3,180.0 246.4,181.8 244.7,183.8 243.3,186.0 242.2,188.5 240.6,191.0 239.1,193.6 237.6,196.2 235.7,198.1 233.8,200.0 232.0,201.9 230.2,203.9 228.0,206.0 225.9,208.2 223.9,210.4 221.9,212.3 219.9,214.3 218.0,216.3 215.8,217.7 213.8,219.2 211.9,220.9 210.3,223.0 208.7,225.1 207.2,227.3 205.2,230.3 203.1,233.0 200.5,233.5 197.9,234.0 195.3,234.5 192.7,235.0 190.1,235.5 187.6,235.9 185.1,236.4 182.6,236.8 180.1,237.2 177.6,237.7 175.1,238.1 172.0,238.6 169.0,239.1 165.9,239.5 162.7,239.7 160.3,241.0 158.0,242.3 155.4,242.8 152.8,243.3 150.3,243.8 147.7,244.4 145.1,244.9 142.6,245.4 140.0,246.0 137.5,246.5 135.0,247.0 132.5,247.4 130.0,247.9 127.5,248.4 125.0,248.9 122.2,249.4 119.3,249.8 116.5,250.2 113.7,250.6 110.8,251.0 108.0,251.5 105.0,252.3 102.0,253.2 98.1,254.3 95.4,254.5 92.7,254.8 90.0,255.1 87.3,255.4 84.7,255.8 82.0,256.1 79.3,256.5 76.6,256.8 74.0,257.2 71.3,257.4 68.7,257.6 66.1,257.9 63.5,258.1 60.9,258.3 58.3,258.6 55.7,258.8 53.1,259.0 50.5,259.3 47.9,259.5 45.3,259.8"/><polyline points="320.0,109.4 318.6,113.5 316.8,115.5 315.0,117.5 312.5,120.0 310.1,122.8 307.7,125.5 306.1,127.8 304.5,130.0 303.2,132.2 301.9,134.3 300.6,136.5 297.4,139.0 294.0,140.0 290.9,141.2 288.5,142.1 286.1,143.1 283.9,144.3 281.2,146.0 278.6,147.9 276.9,151.5 274.2,152.3 271.7,153.4 269.3,154.5 266.2,155.7 263.4,157.0 260.9,159.4 258.7,162.1 257.3,165.8 256.2,169.9 255.2,172.2 254.4,174.5 253.7,177.0 251.7,179.1 249.9,181.3 247.9,183.0 245.9,184.7 244.0,186.6 242.2,188.5 241.0,191.3 239.7,194.1 238.4,196.9 236.7,198.9 234.9,200.9 233.1,202.9 231.3,204.9 229.2,207.0 227.0,209.1 224.9,211.2 222.6,212.9 220.3,214.6 218.0,216.3 215.1,217.0 212.8,218.3 211.0,220.0 209.5,222.2 208.2,224.6 207.2,227.3 205.3,230.6 203.2,233.3 200.6,233.9 198.0,234.4 195.4,234.9 192.9,235.4 190.3,235.9 187.8,236.4 185.3,236.8 182.8,237.2 180.3,237.6 177.7,238.0 175.2,238.5 172.1,238.9 169.1,239.4 165.9,239.8 162.7,239.7 160.2,240.4 157.8,241.6 155.2,242.0 152.7,242.5 150.1,242.9 147.5,243.4 144.9,243.9 142.3,244.4 139.8,244.9 137.2,245.4 134.7,245.9 132.2,246.3 129.7,246.8 127.2,247.3 124.7,247.8 121.9,248.3 119.1,248.7 116.3,249.2 113.4,249.6 110.6,250.1 107.8,250.6 104.8,251.6 102.0,253.2 98.3,255.3 95.6,255.7 92.9,256.1 90.2,256.5 87.6,256.8 84.9,257.2 82.2,257.6 79.6,258.0 76.9,258.4 74.2,258.8 71.6,259.1 69.0,259.4 66.4,259.6 63.8,259.9 61.2,260.2 58.6,260.4 56.0,260.7 53.4,261.0 50.8,261.2 48.2,261.5 45.6,261.7"/><polyline points="320.0,109.4 318.3,113.3 316.4,115.2 314.5,117.1 311.9,119.6 309.5,122.3 307.1,125.1 305.6,127.4 304.0,129.7 302.9,131.9 301.7,134.2 300.6,136.5 298.1,140.2 295.2,141.8 292.3,143.4 289.9,144.4 287.6,145.4 285.3,146.4 282.3,147.7 279.3,149.0 276.9,151.5 274.9,153.1 272.9,154.7 270.8,156.2 268.0,157.7 265.3,159.1 262.7,161.4 260.2,163.7 258.2,166.8 256.2,169.9 255.5,172.4 254.9,174.9 254.3,177.4 252.5,179.6 250.7,181.8 248.5,183.5 246.4,185.1 244.3,186.8 242.2,188.5 240.7,191.1 239.2,193.7 237.7,196.3 235.8,198.2 234.0,200.1 232.1,202.0 230.3,204.0 228.2,206.1 226.1,208.3 224.0,210.5 222.0,212.4 219.9,214.3 218.0,216.3 216.1,218.0 214.3,219.7 212.5,221.5 210.7,223.4 208.9,225.3 207.2,227.3 205.0,229.5 202.9,232.1 200.3,232.6 197.6,233.0 195.0,233.5 192.4,233.9 189.8,234.4 187.3,234.8 184.8,235.3 182.3,235.7 179.8,236.1 177.3,236.6 174.8,237.0 171.8,237.6 168.7,238.2 165.7,238.8 162.7,239.7 160.3,240.7 157.9,242.0 155.3,242.5 152.8,243.0 150.2,243.5 147.6,244.0 145.0,244.5 142.5,245.0 139.9,245.5 137.4,246.0 134.9,246.5 132.4,247.0 129.9,247.5 127.4,248.0 124.9,248.5 122.1,248.9 119.2,249.4 116.4,249.8 113.6,250.2 110.7,250.7 107.9,251.1 104.9,252.0 102.0,253.2 98.3,255.9 95.7,256.3 93.0,256.8 90.4,257.2 87.7,257.6 85.0,258.1 82.4,258.5 79.7,258.9 77.0,259.3 74.4,259.8 71.8,260.0 69.2,260.3 66.6,260.6 64.0,260.9 61.4,261.2 58.8,261.5 56.2,261.7 53.6,262.0 51.0,262.3 48.4,262.6 45.8,262.9"/><polyline points="320.0,109.4 318.9,113.7 317.2,115.8 315.5,117.8 313.1,120.4 310.7,123.2 308.3,125.9 306.6,128.1 304.9,130.3 303.5,132.4 302.1,134.5 300.6,136.5 297.8,139.7 294.7,141.0 291.6,142.4 289.3,143.4 286.9,144.4 284.6,145.4 281.8,146.9 279.0,148.5 276.9,151.5 274.7,152.9 272.6,154.4 270.4,155.8 267.6,157.2 264.8,158.6 262.3,160.9 259.8,163.3 258.0,166.6 256.2,169.9 255.4,172.3 254.7,174.7 254.0,177.2 252.1,179.4 250.3,181.6 248.2,183.2 246.2,185.0 244.1,186.7 242.2,188.5 240.7,191.1 239.2,193.7 237.7,196.3 235.9,198.2 234.0,200.1 232.2,202.1 230.3,204.0 228.2,206.1 226.1,208.3 224.0,210.5 222.0,212.4 219.9,214.3 218.0,216.3 216.1,217.9 214.2,219.6 212.4,221.4 210.6,223.3 208.9,225.3 207.2,227.3 205.0,229.7 202.9,232.3 200.3,232.8 197.7,233.2 195.1,233.7 192.5,234.2 189.9,234.6 187.4,235.1 184.9,235.5 182.4,235.9 179.9,236.4 177.4,236.8 174.9,237.3 171.8,237.8 168.8,238.4 165.7,238.9 162.7,239.7 160.4,241.4 158.1,242.8 155.6,243.4 153.0,244.0 150.4,244.6 147.9,245.2 145.3,245.7 142.7,246.3 140.2,246.8 137.7,247.3 135.2,247.8 132.7,248.3 130.2,248.8 127.7,249.4 125.2,249.9 122.4,250.3 119.5,250.7 116.7,251.0 113.8,251.4 111.0,251.8 108.1,252.1 105.1,252.9 102.0,253.2 98.4,255.9 95.7,256.4 93.0,256.8 90.4,257.2 87.7,257.7 85.0,258.1 82.4,258.5 79.7,259.0 77.0,259.4 74.4,259.8 71.8,260.1 69.2,260.4 66.6,260.6 64.0,260.9 61.4,261.2 58.8,261.5 56.2,261.8 53.6,262.1 51.0,262.3 48.4,262.6 45.8,262.9"/><polyline points="320.0,109.4 319.2,113.9 317.7,116.1 316.0,118.2 313.7,120.9 311.4,123.7 308.9,126.4 307.2,128.5 305.4,130.6 303.9,132.6 302.3,134.6 300.6,136.5 297.1,138.5 293.6,139.3 290.4,140.4 287.9,141.3 285.6,142.3 283.4,143.5 280.8,145.4 278.4,147.5 276.9,151.5 274.6,152.7 272.3,154.0 270.1,155.4 267.2,156.7 264.3,158.0 261.9,160.4 259.5,162.9 257.8,166.3 256.2,169.9 255.5,172.4 254.8,174.8 254.2,177.4 252.3,179.5 250.5,181.7 248.4,183.4 246.3,185.1 244.2,186.8 242.2,188.5 240.8,191.2 239.5,193.9 238.1,196.7 236.3,198.6 234.5,200.6 232.7,202.6 230.9,204.5 228.8,206.7 226.7,208.8 224.5,210.9 222.3,212.7 220.2,214.5 218.0,216.3 217.0,218.9 215.6,221.0 213.8,222.7 211.8,224.5 209.6,226.0 207.2,227.3 205.0,229.8 202.9,232.4 200.3,232.8 197.7,233.3 195.1,233.8 192.5,234.3 189.9,234.7 187.4,235.2 184.9,235.6 182.4,236.0 179.9,236.5 177.4,236.9 174.9,237.3 171.9,237.9 168.8,238.4 165.7,239.0 162.7,239.7 160.3,240.6 157.9,241.9 155.3,242.3 152.7,242.8 150.2,243.3 147.6,243.8 145.0,244.3 142.4,244.8 139.9,245.4 137.4,245.8 134.9,246.3 132.3,246.8 129.8,247.3 127.3,247.8 124.8,248.3 122.0,248.7 119.2,249.2 116.4,249.6 113.5,250.1 110.7,250.5 107.9,251.0 104.9,251.9 102.0,253.2 98.2,255.1 95.5,255.5 92.9,255.8 90.2,256.2 87.5,256.6 84.9,257.0 82.2,257.4 79.5,257.8 76.8,258.2 74.2,258.5 71.6,258.8 69.0,259.1 66.4,259.3 63.8,259.6 61.2,259.8 58.6,260.1 56.0,260.4 53.4,260.6 50.8,260.9 48.2,261.1 45.6,261.4"/><polyline points="320.0,109.4 318.0,113.0 315.9,114.8 313.9,116.7 311.2,119.1 308.7,121.8 306.4,124.6 304.9,126.9 303.5,129.3 302.5,131.7 301.5,134.0 300.6,136.5 298.9,141.4 296.3,143.5 293.5,145.4 291.3,146.5 288.9,147.5 286.5,148.3 283.3,149.3 279.9,150.0 276.9,151.5 274.0,152.1 271.4,153.1 268.9,154.1 265.8,155.2 262.9,156.4 260.5,158.9 258.4,161.7 257.1,165.6 256.2,169.9 255.5,172.4 254.9,174.9 254.3,177.4 252.5,179.6 250.7,181.8 248.5,183.5 246.4,185.1 244.3,186.8 242.2,188.5 239.5,190.0 237.2,191.9 235.1,194.0 232.7,195.5 230.5,197.0 228.3,198.7 226.3,200.5 224.2,202.6 222.3,205.0 220.7,207.6 219.4,210.2 218.4,213.0 218.0,216.3 215.2,217.1 212.9,218.4 211.1,220.1 209.5,222.2 208.2,224.6 207.2,227.3 205.0,229.7 202.9,232.3 200.3,232.8 197.7,233.3 195.1,233.7 192.5,234.2 189.9,234.7 187.4,235.1 184.9,235.5 182.4,236.0 179.9,236.4 177.4,236.9 174.9,237.3 171.8,237.8 168.8,238.4 165.7,239.0 162.7,239.7 160.4,241.0 158.0,242.3 155.4,242.8 152.9,243.4 150.3,243.9 147.7,244.4 145.1,244.9 142.6,245.5 140.0,246.0 137.5,246.5 135.0,247.0 132.5,247.5 130.0,248.0 127.5,248.5 125.0,249.0 122.2,249.4 119.3,249.8 116.5,250.3 113.7,250.7 110.8,251.1 108.0,251.5 105.0,252.4 102.0,253.2 98.4,256.1 95.7,256.6 93.1,257.1 90.4,257.5 87.7,258.0 85.1,258.4 82.4,258.8 79.8,259.3 77.1,259.7 74.4,260.1 71.8,260.4 69.2,260.7 66.6,261.0 64.0,261.3 61.4,261.6 58.9,261.9 56.3,262.2 53.7,262.4 51.1,262.7 48.5,263.0 45.9,263.3"/><polyline points="320.0,109.4 318.8,113.7 317.1,115.7 315.4,117.8 313.0,120.3 310.6,123.1 308.2,125.8 306.5,128.0 304.8,130.2 303.5,132.3 302.0,134.4 300.6,136.5 298.1,140.1 295.1,141.7 292.1,143.2 289.8,144.2 287.5,145.2 285.1,146.2 282.2,147.6 279.3,148.9 276.9,151.5 274.9,153.1 272.9,154.7 270.9,156.3 268.1,157.8 265.3,159.2 262.8,161.5 260.3,163.8 258.3,166.9 256.2,169.9 255.3,172.2 254.5,174.6 253.8,177.1 251.9,179.2 250.1,181.4 248.0,183.1 246.0,184.8 244.0,186.6 242.2,188.5 240.8,191.2 239.5,193.9 238.1,196.6 236.3,198.6 234.5,200.5 232.7,202.5 230.9,204.5 228.7,206.6 226.6,208.7 224.5,210.9 222.3,212.7 220.1,214.5 218.0,216.3 217.6,219.4 216.4,221.7 214.5,223.5 212.4,225.1 210.0,226.4 207.2,227.3 205.0,229.7 202.9,232.3 200.3,232.7 197.7,233.2 195.1,233.6 192.5,234.1 189.9,234.6 187.4,235.0 184.9,235.4 182.4,235.9 179.9,236.3 177.4,236.8 174.9,237.2 171.8,237.8 168.8,238.3 165.7,238.9 162.7,239.7 160.6,242.3 158.3,243.9 155.8,244.6 153.3,245.3 150.7,245.9 148.2,246.5 145.6,247.1 143.1,247.7 140.5,248.3 138.0,248.9 135.5,249.4 133.0,249.9 130.5,250.4 128.0,250.9 125.5,251.4 122.7,251.8 119.9,252.2 117.0,252.5 114.2,252.8 111.3,253.1 108.4,253.3 105.3,253.8 102.0,253.2 98.2,255.1 95.5,255.4 92.9,255.8 90.2,256.1 87.5,256.5 84.8,256.9 82.2,257.3 79.5,257.6 76.8,258.0 74.2,258.4 71.6,258.7 69.0,258.9 66.3,259.2 63.7,259.4 61.1,259.7 58.5,260.0 55.9,260.2 53.3,260.5 50.7,260.7 48.1,261.0 45.5,261.3"/><polyline points="320.0,109.4 318.5,113.4 316.7,115.4 314.9,117.4 312.3,119.9 309.9,122.6 307.5,125.4 305.9,127.6 304.4,129.9 303.1,132.1 301.8,134.3 300.6,136.5 297.9,139.9 294.9,141.3 291.8,142.8 289.5,143.7 287.2,144.7 284.9,145.8 282.0,147.2 279.1,148.7 276.9,151.5 275.3,153.6 273.6,155.5 271.8,157.3 269.2,158.9 266.5,160.4 263.9,162.7 261.1,164.8 258.8,167.5 256.2,169.9 255.7,172.5 255.1,175.1 254.5,177.6 252.7,179.8 250.9,182.0 248.8,183.7 246.6,185.3 244.4,186.9 242.2,188.5 240.1,190.6 238.3,192.9 236.5,195.2 234.4,196.9 232.4,198.7 230.4,200.5 228.5,202.4 226.3,204.5 224.3,206.8 222.5,209.2 220.8,211.4 219.2,213.7 218.0,216.3 215.9,217.7 213.9,219.3 212.1,221.1 210.4,223.1 208.7,225.1 207.2,227.3 205.2,230.5 203.2,233.2 200.6,233.8 198.0,234.3 195.4,234.8 192.8,235.3 190.2,235.8 187.7,236.2 185.2,236.6 182.7,237.1 180.2,237.5 177.7,237.9 175.2,238.3 172.1,238.8 169.0,239.3 165.9,239.7 162.7,239.7 160.5,241.7 158.2,243.2 155.6,243.8 153.1,244.4 150.5,245.0 148.0,245.6 145.4,246.2 142.9,246.7 140.3,247.3 137.8,247.8 135.3,248.3 132.8,248.9 130.3,249.4 127.8,249.9 125.3,250.4 122.5,250.8 119.6,251.2 116.8,251.5 113.9,251.9 111.1,252.2 108.2,252.5 105.2,253.2 102.0,253.2 98.2,254.9 95.5,255.3 92.8,255.6 90.2,256.0 87.5,256.3 84.8,256.7 82.1,257.1 79.5,257.5 76.8,257.9 74.1,258.2 71.5,258.5 68.9,258.7 66.3,259.0 63.7,259.2 61.1,259.5 58.5,259.8 55.9,260.0 53.3,260.3 50.7,260.5 48.1,260.8 45.5,261.0"/><polyline points="320.0,109.4 318.9,113.7 317.2,115.8 315.5,117.8 313.0,120.4 310.7,123.1 308.2,125.9 306.6,128.1 304.9,130.3 303.5,132.4 302.1,134.5 300.6,136.5 296.9,138.3 293.4,138.9 290.1,139.9 287.6,140.8 285.3,141.8 283.1,143.1 280.6,145.0 278.3,147.3 276.9,151.5 275.0,153.2 273.1,154.9 271.1,156.5 268.4,158.0 265.6,159.5 263.1,161.8 260.5,164.0 258.4,167.0 256.2,169.9 254.6,171.7 253.4,173.8 252.4,176.0 250.3,178.0 248.5,180.2 246.6,182.0 244.8,184.0 243.3,186.1 242.2,188.5 240.6,191.0 239.0,193.5 237.5,196.1 235.6,197.9 233.7,199.8 231.8,201.7 229.9,203.7 227.8,205.8 225.7,208.0 223.7,210.2 221.7,212.2 219.8,214.2 218.0,216.3 215.6,217.4 213.5,218.9 211.6,220.6 210.0,222.7 208.5,224.9 207.2,227.3 205.1,229.9 203.0,232.6 200.4,233.0 197.8,233.5 195.2,234.0 192.6,234.5 190.0,235.0 187.5,235.4 185.0,235.8 182.5,236.3 180.0,236.7 177.5,237.1 175.0,237.6 171.9,238.1 168.8,238.6 165.8,239.1 162.7,239.7 160.5,241.8 158.2,243.3 155.7,243.9 153.1,244.5 150.6,245.1 148.0,245.7 145.4,246.3 142.9,246.9 140.3,247.5 137.8,248.0 135.3,248.5 132.8,249.0 130.3,249.5 127.8,250.0 125.3,250.5 122.5,250.9 119.7,251.3 116.8,251.7 114.0,252.0 111.1,252.4 108.3,252.6 105.2,253.3 102.0,253.2 98.5,256.9 95.9,257.5 93.2,258.0 90.6,258.5 87.9,259.0 85.3,259.5 82.6,260.0 80.0,260.4 77.3,260.9 74.6,261.4 72.0,261.7 69.4,262.0 66.9,262.3 64.3,262.6 61.7,262.9 59.1,263.2 56.5,263.6 53.9,263.9 51.3,264.2 48.7,264.5 46.1,264.8"/><polyline points="320.0,109.4 318.6,113.5 316.7,115.5 314.9,117.4 312.4,119.9 310.0,122.7 307.6,125.4 306.0,127.7 304.4,130.0 303.2,132.1 301.9,134.3 300.6,136.5 297.8,139.7 294.7,141.1 291.7,142.5 289.3,143.5 287.0,144.5 284.7,145.5 281.9,147.0 279.0,148.6 276.9,151.5 274.7,152.9 272.6,154.4 270.5,155.9 267.7,157.2 264.9,158.6 262.4,161.0 259.9,163.4 258.0,166.6 256.2,169.9 255.8,172.6 255.3,175.2 254.8,177.8 253.0,180.0 251.2,182.2 249.0,183.8 246.8,185.4 244.5,187.0 242.2,188.5 240.7,191.1 239.2,193.7 237.8,196.3 235.9,198.2 234.0,200.1 232.2,202.1 230.3,204.0 228.2,206.1 226.1,208.3 224.0,210.5 222.0,212.4 219.9,214.3 218.0,216.3 217.2,219.0 215.8,221.2 214.0,222.9 212.0,224.6 209.7,226.1 207.2,227.3 204.9,229.3 202.8,231.8 200.2,232.2 197.6,232.7 194.9,233.1 192.3,233.6 189.7,234.1 187.2,234.5 184.7,234.9 182.2,235.4 179.7,235.8 177.2,236.3 174.8,236.7 171.7,237.3 168.6,237.9 165.6,238.5 162.7,239.7 160.5,241.8 158.2,243.2 155.7,243.9 153.1,244.5 150.6,245.1 148.0,245.7 145.4,246.2 142.9,246.8 140.3,247.4 137.8,247.9 135.3,248.4 132.8,248.9 130.3,249.4 127.8,250.0 125.3,250.5 122.5,250.9 119.6,251.2 116.8,251.6 114.0,252.0 111.1,252.3 108.2,252.6 105.2,253.2 102.0,253.2 98.3,255.7 95.7,256.1 93.0,256.6 90.3,257.0 87.7,257.4 85.0,257.8 82.3,258.2 79.7,258.6 77.0,259.1 74.3,259.5 71.7,259.7 69.1,260.0 66.5,260.3 63.9,260.6 61.3,260.9 58.7,261.1 56.1,261.4 53.5,261.7 50.9,262.0 48.3,262.2 45.7,262.5"/><polyline points="320.0,109.4 318.8,113.7 317.1,115.7 315.4,117.8 312.9,120.3 310.6,123.1 308.1,125.8 306.5,128.0 304.8,130.2 303.4,132.3 302.0,134.4 300.6,136.5 298.0,140.0 295.0,141.6 292.1,143.1 289.7,144.1 287.4,145.1 285.1,146.1 282.1,147.5 279.2,148.8 276.9,151.5 274.7,152.9 272.6,154.3 270.4,155.8 267.6,157.2 264.8,158.6 262.3,160.9 259.8,163.3 258.0,166.6 256.2,169.9 256.4,173.0 256.3,175.9 256.0,178.8 254.4,181.1 252.6,183.3 250.3,184.8 247.8,186.2 245.1,187.4 242.2,188.5 240.5,190.9 239.0,193.5 237.4,196.0 235.5,197.9 233.6,199.8 231.7,201.7 229.9,203.6 227.7,205.7 225.6,207.9 223.7,210.2 221.7,212.1 219.8,214.2 218.0,216.3 217.4,219.3 216.2,221.6 214.4,223.3 212.3,225.0 209.9,226.3 207.2,227.3 205.2,230.2 203.1,232.9 200.5,233.4 197.9,233.9 195.3,234.4 192.7,234.9 190.1,235.4 187.6,235.8 185.1,236.2 182.6,236.7 180.1,237.1 177.6,237.5 175.1,237.9 172.0,238.4 168.9,238.9 165.8,239.4 162.7,239.7 160.1,239.8 157.7,240.9 155.1,241.2 152.5,241.6 149.9,242.0 147.3,242.5 144.7,242.9 142.1,243.4 139.5,243.9 137.0,244.3 134.5,244.8 132.0,245.3 129.5,245.8 127.0,246.3 124.5,246.8 121.7,247.2 118.8,247.7 116.0,248.1 113.2,248.7 110.4,249.2 107.6,249.8 104.7,251.0 102.0,253.2 98.4,256.5 95.8,257.0 93.1,257.5 90.5,258.0 87.8,258.5 85.2,258.9 82.5,259.4 79.9,259.9 77.2,260.3 74.5,260.7 71.9,261.1 69.3,261.4 66.7,261.7 64.2,262.0 61.6,262.3 59.0,262.6 56.4,262.8 53.8,263.1 51.2,263.4 48.6,263.7 46.0,264.0"/><polyline points="320.0,109.4 318.6,113.5 316.9,115.5 315.1,117.6 312.6,120.1 310.2,122.8 307.8,125.6 306.2,127.8 304.6,130.1 303.3,132.2 301.9,134.4 300.6,136.5 298.2,140.3 295.3,141.9 292.3,143.5 290.0,144.5 287.7,145.5 285.3,146.5 282.3,147.8 279.4,149.0 276.9,151.5 274.7,152.9 272.6,154.4 270.5,155.9 267.6,157.2 264.8,158.6 262.3,161.0 259.9,163.4 258.0,166.6 256.2,169.9 255.2,172.2 254.4,174.5 253.6,176.9 251.7,179.1 249.9,181.3 247.8,183.0 245.8,184.7 243.9,186.6 242.2,188.5 240.7,191.1 239.2,193.7 237.8,196.3 235.9,198.2 234.0,200.1 232.2,202.1 230.4,204.0 228.2,206.2 226.1,208.3 224.1,210.5 222.0,212.4 220.0,214.3 218.0,216.3 217.2,219.0 215.8,221.2 214.0,223.0 212.0,224.7 209.7,226.1 207.2,227.3 204.7,228.6 202.5,231.0 199.9,231.3 197.3,231.7 194.7,232.1 192.1,232.6 189.4,233.0 186.9,233.4 184.4,233.9 181.9,234.3 179.5,234.8 177.0,235.2 174.5,235.7 171.4,236.4 168.4,237.0 165.4,237.8 162.7,239.7 160.4,241.0 158.0,242.3 155.4,242.8 152.9,243.4 150.3,243.9 147.7,244.4 145.1,245.0 142.6,245.5 140.0,246.0 137.5,246.5 135.0,247.0 132.5,247.5 130.0,248.0 127.5,248.5 125.0,249.0 122.2,249.4 119.3,249.8 116.5,250.3 113.7,250.7 110.8,251.1 108.0,251.5 105.0,252.4 102.0,253.2 98.2,254.8 95.5,255.1 92.8,255.4 90.1,255.7 87.4,256.1 84.8,256.5 82.1,256.8 79.4,257.2 76.8,257.6 74.1,258.0 71.5,258.2 68.9,258.5 66.3,258.7 63.7,258.9 61.1,259.2 58.5,259.4 55.9,259.7 53.3,260.0 50.6,260.2 48.0,260.5 45.4,260.7"/><polyline points="320.0,109.4 318.7,113.6 316.9,115.6 315.2,117.6 312.7,120.1 310.3,122.9 307.9,125.6 306.3,127.9 304.6,130.1 303.3,132.2 302.0,134.4 300.6,136.5 298.7,141.1 296.0,143.1 293.2,144.9 290.9,146.0 288.6,147.0 286.2,147.8 283.0,148.9 279.8,149.7 276.9,151.5 274.5,152.7 272.2,153.9 269.9,155.2 267.0,156.5 264.2,157.9 261.7,160.3 259.3,162.8 257.7,166.2 256.2,169.9 255.3,172.2 254.6,174.7 253.9,177.1 252.0,179.3 250.2,181.5 248.1,183.2 246.1,184.9 244.1,186.7 242.2,188.5 241.0,191.3 239.7,194.1 238.4,196.9 236.6,198.9 234.9,200.9 233.1,202.9 231.3,204.9 229.2,207.0 227.0,209.1 224.8,211.2 222.6,212.9 220.3,214.6 218.0,216.3 216.6,218.5 215.0,220.5 213.2,222.2 211.3,224.0 209.3,225.7 207.2,227.3 204.7,228.6 202.6,231.0 199.9,231.3 197.3,231.7 194.7,232.1 192.1,232.6 189.5,233.0 186.9,233.4 184.4,233.9 182.0,234.3 179.5,234.8 177.0,235.3 174.5,235.8 171.4,236.4 168.4,237.1 165.4,237.8 162.7,239.7 160.3,240.7 157.9,241.9 155.3,242.4 152.7,242.8 150.2,243.3 147.6,243.8 145.0,244.3 142.4,244.9 139.9,245.4 137.4,245.9 134.9,246.4 132.4,246.8 129.9,247.3 127.4,247.8 124.9,248.3 122.0,248.8 119.2,249.2 116.4,249.6 113.5,250.1 110.7,250.5 107.9,251.0 104.9,251.9 102.0,253.2 98.1,254.3 95.4,254.5 92.7,254.8 90.0,255.1 87.3,255.4 84.7,255.8 82.0,256.1 79.3,256.5 76.6,256.8 74.0,257.2 71.3,257.4 68.7,257.6 66.1,257.9 63.5,258.1 60.9,258.3 58.3,258.6 55.7,258.8 53.1,259.0 50.5,259.3 47.9,259.5 45.3,259.8"/><polyline points="320.0,109.4 318.5,113.4 316.7,115.4 314.9,117.4 312.3,119.9 309.9,122.6 307.5,125.4 305.9,127.6 304.4,129.9 303.1,132.1 301.8,134.3 300.6,136.5 299.0,141.6 296.5,143.9 293.8,145.8 291.5,147.0 289.2,147.9 286.7,148.7 283.5,149.6 280.1,150.2 276.9,151.5 275.2,153.5 273.4,155.3 271.5,157.1 268.9,158.7 266.2,160.1 263.6,162.4 260.9,164.5 258.7,167.3 256.2,169.9 256.3,173.0 256.2,175.9 255.9,178.7 254.3,181.0 252.5,183.2 250.2,184.7 247.7,186.1 245.1,187.4 242.2,188.5 240.8,191.2 239.5,193.9 238.2,196.7 236.3,198.6 234.5,200.6 232.7,202.6 230.9,204.5 228.8,206.7 226.7,208.8 224.5,211.0 222.4,212.7 220.2,214.5 218.0,216.3 217.4,219.2 216.1,221.5 214.2,223.2 212.2,224.9 209.9,226.3 207.2,227.3 204.9,229.3 202.8,231.9 200.2,232.3 197.6,232.7 195.0,233.2 192.4,233.6 189.8,234.1 187.2,234.5 184.7,235.0 182.3,235.4 179.8,235.9 177.3,236.3 174.8,236.8 171.7,237.3 168.7,237.9 165.6,238.6 162.7,239.7 160.1,239.7 157.7,240.7 155.0,241.1 152.4,241.5 149.8,241.9 147.2,242.3 144.7,242.8 142.1,243.2 139.5,243.7 137.0,244.2 134.5,244.6 132.0,245.1 129.5,245.6 127.0,246.1 124.5,246.6 121.6,247.0 118.8,247.5 116.0,248.0 113.2,248.5 110.4,249.1 107.6,249.7 104.7,250.9 102.0,253.2 98.3,255.9 95.7,256.3 93.0,256.8 90.4,257.2 87.7,257.6 85.0,258.1 82.4,258.5 79.7,258.9 77.0,259.3 74.4,259.8 71.8,260.0 69.2,260.3 66.6,260.6 64.0,260.9 61.4,261.2 58.8,261.4 56.2,261.7 53.6,262.0 51.0,262.3 48.4,262.6 45.8,262.8"/><polyline points="320.0,109.4 318.5,113.5 316.7,115.4 314.9,117.4 312.4,119.9 310.0,122.6 307.6,125.4 306.0,127.7 304.4,129.9 303.1,132.1 301.9,134.3 300.6,136.5 298.4,140.6 295.6,142.4 292.7,144.1 290.4,145.2 288.1,146.2 285.7,147.1 282.6,148.3 279.5,149.3 276.9,151.5 275.1,153.3 273.2,155.1 271.3,156.7 268.6,158.3 265.8,159.7 263.3,162.0 260.6,164.2 258.5,167.1 256.2,169.9 255.6,172.4 255.0,175.0 254.4,177.5 252.6,179.7 250.8,181.9 248.6,183.6 246.5,185.2 244.3,186.8 242.2,188.5 240.7,191.1 239.3,193.8 237.9,196.4 236.0,198.3 234.2,200.3 232.3,202.2 230.5,204.2 228.4,206.3 226.3,208.5 224.2,210.6 222.1,212.5 220.0,214.4 218.0,216.3 217.3,219.1 215.9,221.4 214.1,223.1 212.1,224.8 209.8,226.2 207.2,227.3 205.4,231.2 203.4,234.1 200.8,234.6 198.3,235.2 195.7,235.8 193.1,236.3 190.5,236.8 188.0,237.2 185.5,237.7 183.0,238.1 180.5,238.5 178.0,238.9 175.5,239.3 172.4,239.7 169.2,240.1 166.1,240.4 162.7,239.7 160.3,241.0 158.0,242.2 155.4,242.8 152.8,243.3 150.3,243.8 147.7,244.3 145.1,244.9 142.6,245.4 140.0,245.9 137.5,246.4 135.0,246.9 132.5,247.4 130.0,247.9 127.5,248.4 125.0,248.9 122.1,249.3 119.3,249.8 116.5,250.2 113.7,250.6 110.8,251.0 108.0,251.4 105.0,252.3 102.0,253.2 98.3,255.7 95.6,256.1 93.0,256.5 90.3,256.9 87.7,257.4 85.0,257.8 82.3,258.2 79.7,258.6 77.0,259.0 74.3,259.4 71.7,259.7 69.1,260.0 66.5,260.3 63.9,260.5 61.3,260.8 58.7,261.1 56.1,261.4 53.5,261.6 50.9,261.9 48.3,262.2 45.7,262.5"/><polyline points="320.0,109.4 318.6,113.5 316.8,115.5 315.0,117.5 312.5,120.0 310.1,122.7 307.7,125.5 306.1,127.7 304.5,130.0 303.2,132.2 301.9,134.3 300.6,136.5 298.1,140.2 295.2,141.8 292.3,143.4 289.9,144.4 287.6,145.4 285.2,146.4 282.3,147.7 279.3,149.0 276.9,151.5 275.3,153.5 273.5,155.4 271.6,157.1 269.0,158.7 266.3,160.2 263.7,162.5 261.0,164.6 258.7,167.4 256.2,169.9 255.6,172.5 255.0,175.0 254.5,177.6 252.7,179.8 250.9,182.0 248.7,183.6 246.5,185.2 244.4,186.9 242.2,188.5 240.3,190.8 238.6,193.1 236.9,195.6 234.9,197.4 232.9,199.2 231.0,201.0 229.1,203.0 227.0,205.1 224.9,207.3 223.0,209.6 221.2,211.7 219.5,213.9 218.0,216.3 216.9,218.7 215.4,220.8 213.5,222.5 211.6,224.3 209.5,225.9 207.2,227.3 205.2,230.1 203.1,232.8 200.5,233.3 197.9,233.8 195.3,234.3 192.7,234.8 190.1,235.3 187.6,235.7 185.1,236.1 182.6,236.6 180.1,237.0 177.6,237.4 175.1,237.9 172.0,238.4 168.9,238.9 165.8,239.4 162.7,239.7 160.3,240.9 158.0,242.2 155.4,242.7 152.8,243.2 150.3,243.7 147.7,244.3 145.1,244.8 142.5,245.3 140.0,245.8 137.5,246.3 135.0,246.8 132.5,247.3 130.0,247.8 127.5,248.3 125.0,248.8 122.1,249.2 119.3,249.7 116.5,250.1 113.6,250.5 110.8,250.9 108.0,251.4 105.0,252.2 102.0,253.2 98.4,256.0 95.7,256.4 93.0,256.9 90.4,257.3 87.7,257.8 85.1,258.2 82.4,258.6 79.7,259.0 77.1,259.5 74.4,259.9 71.8,260.2 69.2,260.5 66.6,260.7 64.0,261.0 61.4,261.3 58.8,261.6 56.2,261.9 53.6,262.2 51.0,262.4 48.4,262.7 45.8,263.0"/><polyline points="320.0,109.4 318.8,113.6 317.1,115.7 315.3,117.7 312.9,120.3 310.5,123.0 308.1,125.8 306.4,128.0 304.8,130.2 303.4,132.3 302.0,134.4 300.6,136.5 298.0,139.9 294.9,141.4 291.9,142.9 289.6,143.9 287.3,144.9 284.9,145.9 282.1,147.3 279.2,148.8 276.9,151.5 274.4,152.6 272.0,153.7 269.7,155.0 266.8,156.2 263.9,157.6 261.5,160.0 259.1,162.5 257.6,166.1 256.2,169.9 255.4,172.3 254.7,174.7 254.0,177.2 252.2,179.4 250.4,181.6 248.2,183.3 246.2,185.0 244.1,186.7 242.2,188.5 239.3,189.8 236.8,191.6 234.5,193.5 232.1,194.9 229.8,196.4 227.6,198.1 225.5,199.9 223.3,201.9 221.5,204.3 220.1,207.1 218.9,209.7 218.1,212.7 218.0,216.3 215.7,217.6 213.7,219.1 211.8,220.9 210.2,222.9 208.6,225.0 207.2,227.3 205.2,230.1 203.1,232.8 200.5,233.3 197.9,233.8 195.3,234.3 192.7,234.8 190.1,235.3 187.6,235.7 185.1,236.1 182.6,236.6 180.1,237.0 177.6,237.4 175.1,237.9 172.0,238.4 168.9,238.9 165.8,239.4 162.7,239.7 160.4,241.4 158.1,242.7 155.5,243.3 153.0,243.9 150.4,244.5 147.8,245.0 145.3,245.6 142.7,246.1 140.1,246.7 137.6,247.2 135.2,247.7 132.7,248.2 130.2,248.7 127.7,249.2 125.2,249.7 122.3,250.1 119.5,250.5 116.6,250.9 113.8,251.3 111.0,251.7 108.1,252.0 105.1,252.8 102.0,253.2 98.2,255.3 95.6,255.6 92.9,256.0 90.2,256.4 87.6,256.8 84.9,257.2 82.2,257.6 79.5,258.0 76.9,258.4 74.2,258.7 71.6,259.0 69.0,259.3 66.4,259.5 63.8,259.8 61.2,260.1 58.6,260.3 56.0,260.6 53.4,260.9 50.8,261.1 48.2,261.4 45.6,261.6"/><polyline points="320.0,109.4 318.2,113.2 316.3,115.1 314.3,117.0 311.7,119.4 309.3,122.2 306.9,124.9 305.4,127.3 303.9,129.6 302.8,131.9 301.6,134.2 300.6,136.5 297.2,138.8 293.9,139.7 290.6,140.9 288.2,141.8 285.9,142.8 283.7,144.0 281.1,145.8 278.5,147.8 276.9,151.5 274.0,152.0 271.3,152.9 268.7,153.9 265.6,154.9 262.7,156.2 260.3,158.7 258.2,161.5 257.0,165.4 256.2,169.9 255.8,172.6 255.4,175.3 254.9,177.9 253.1,180.1 251.3,182.3 249.1,183.9 246.9,185.5 244.6,187.0 242.2,188.5 241.0,191.4 239.8,194.2 238.6,197.0 236.9,199.1 235.1,201.1 233.4,203.1 231.6,205.1 229.5,207.2 227.3,209.4 225.1,211.4 222.8,213.1 220.4,214.7 218.0,216.3 215.7,217.6 213.7,219.1 211.8,220.8 210.2,222.9 208.6,225.0 207.2,227.3 204.7,228.4 202.5,230.8 199.9,231.1 197.2,231.5 194.6,231.9 192.0,232.4 189.4,232.8 186.9,233.2 184.4,233.6 181.9,234.1 179.4,234.6 176.9,235.0 174.4,235.5 171.4,236.2 168.4,236.9 165.4,237.7 162.7,239.7 160.3,240.6 157.9,241.8 155.3,242.2 152.7,242.7 150.1,243.2 147.6,243.7 145.0,244.2 142.4,244.7 139.8,245.2 137.3,245.7 134.8,246.2 132.3,246.7 129.8,247.2 127.3,247.7 124.8,248.2 122.0,248.6 119.2,249.0 116.3,249.5 113.5,249.9 110.7,250.4 107.9,250.9 104.9,251.8 102.0,253.2 98.4,256.2 95.7,256.7 93.1,257.2 90.4,257.6 87.8,258.1 85.1,258.5 82.4,259.0 79.8,259.4 77.1,259.8 74.5,260.3 71.9,260.6 69.3,260.9 66.7,261.2 64.1,261.5 61.5,261.7 58.9,262.0 56.3,262.3 53.7,262.6 51.1,262.9 48.5,263.2 45.9,263.5"/><polyline points="320.0,109.4 318.5,113.5 316.7,115.4 314.9,117.4 312.4,119.9 310.0,122.6 307.6,125.4 306.0,127.7 304.4,129.9 303.1,132.1 301.9,134.3 300.6,136.5 298.0,140.0 295.0,141.5 292.0,143.0 289.6,144.0 287.3,145.0 285.0,146.0 282.1,147.4 279.2,148.8 276.9,151.5 274.1,152.2 271.5,153.1 269.0,154.2 265.9,155.3 263.0,156.6 260.6,159.0 258.4,161.7 257.1,165.6 256.2,169.9 255.3,172.2 254.5,174.6 253.8,177.1 251.9,179.2 250.1,181.4 248.0,183.1 246.0,184.8 244.1,186.6 242.2,188.5 240.9,191.3 239.6,194.0 238.3,196.8 236.5,198.8 234.7,200.7 232.9,202.7 231.1,204.7 229.0,206.8 226.8,209.0 224.7,211.1 222.5,212.8 220.2,214.6 218.0,216.3 215.7,217.5 213.6,219.0 211.7,220.8 210.1,222.8 208.6,225.0 207.2,227.3 205.1,230.0 203.0,232.6 200.4,233.1 197.8,233.6 195.2,234.0 192.6,234.5 190.0,235.0 187.5,235.4 185.0,235.9 182.5,236.3 180.0,236.7 177.5,237.2 175.0,237.6 171.9,238.1 168.9,238.7 165.8,239.2 162.7,239.7 160.4,241.3 158.1,242.7 155.5,243.3 153.0,243.9 150.4,244.4 147.8,245.0 145.3,245.5 142.7,246.1 140.1,246.6 137.6,247.1 135.1,247.6 132.6,248.2 130.1,248.7 127.6,249.2 125.1,249.7 122.3,250.1 119.5,250.5 116.6,250.9 113.8,251.3 111.0,251.6 108.1,252.0 105.1,252.8 102.0,253.2 98.3,255.4 95.6,255.8 92.9,256.1 90.3,256.5 87.6,256.9 84.9,257.3 82.2,257.7 79.6,258.1 76.9,258.5 74.2,258.9 71.6,259.2 69.0,259.5 66.4,259.7 63.8,260.0 61.2,260.3 58.6,260.5 56.0,260.8 53.4,261.1 50.8,261.3 48.2,261.6 45.6,261.9"/><polyline points="320.0,109.4 318.8,113.7 317.2,115.8 315.4,117.8 313.0,120.4 310.6,123.1 308.2,125.9 306.5,128.1 304.9,130.3 303.5,132.4 302.1,134.4 300.6,136.5 297.8,139.8 294.8,141.1 291.7,142.6 289.4,143.6 287.1,144.6 284.7,145.6 281.9,147.1 279.1,148.6 276.9,151.5 274.9,153.1 272.9,154.7 270.9,156.3 268.1,157.8 265.3,159.2 262.8,161.5 260.3,163.8 258.3,166.9 256.2,169.9 255.6,172.4 254.9,174.9 254.3,177.5 252.5,179.7 250.7,181.9 248.6,183.5 246.4,185.1 244.3,186.8 242.2,188.5 240.3,190.7 238.5,193.1 236.8,195.5 234.8,197.3 232.8,199.1 230.9,200.9 229.0,202.8 226.8,204.9 224.8,207.2 222.9,209.5 221.1,211.6 219.4,213.9 218.0,216.3 217.0,218.9 215.6,221.0 213.7,222.7 211.8,224.5 209.6,226.0 207.2,227.3 205.2,230.2 203.1,232.9 200.5,233.4 197.9,233.9 195.3,234.4 192.7,234.8 190.1,235.3 187.6,235.8 185.1,236.2 182.6,236.6 180.1,237.1 177.6,237.5 175.1,237.9 172.0,238.4 168.9,238.9 165.8,239.4 162.7,239.7 160.3,241.0 158.0,242.3 155.4,242.8 152.8,243.3 150.3,243.8 147.7,244.4 145.1,244.9 142.6,245.4 140.0,245.9 137.5,246.4 135.0,246.9 132.5,247.4 130.0,247.9 127.5,248.4 125.0,248.9 122.2,249.4 119.3,249.8 116.5,250.2 113.7,250.6 110.8,251.0 108.0,251.5 105.0,252.3 102.0,253.2 98.3,255.6 95.6,256.0 93.0,256.5 90.3,256.9 87.6,257.3 85.0,257.7 82.3,258.1 79.6,258.5 77.0,258.9 74.3,259.3 71.7,259.6 69.1,259.9 66.5,260.2 63.9,260.4 61.3,260.7 58.7,261.0 56.1,261.3 53.5,261.5 50.9,261.8 48.3,262.1 45.7,262.3"/><polyline points="320.0,109.4 319.0,113.8 317.3,115.9 315.6,118.0 313.2,120.5 310.9,123.3 308.4,126.0 306.8,128.2 305.0,130.4 303.6,132.5 302.1,134.5 300.6,136.5 297.9,139.8 294.8,141.2 291.8,142.6 289.4,143.6 287.1,144.6 284.8,145.6 281.9,147.1 279.1,148.6 276.9,151.5 274.1,152.2 271.5,153.2 269.1,154.3 266.0,155.4 263.1,156.7 260.7,159.1 258.5,161.8 257.2,165.7 256.2,169.9 254.8,171.8 253.6,174.0 252.7,176.2 250.6,178.3 248.8,180.5 246.9,182.2 245.1,184.1 243.5,186.2 242.2,188.5 241.1,191.5 240.0,194.4 238.8,197.2 237.1,199.3 235.4,201.4 233.7,203.4 231.9,205.4 229.8,207.6 227.6,209.6 225.4,211.7 223.0,213.3 220.6,214.8 218.0,216.3 215.9,217.7 213.9,219.3 212.1,221.1 210.4,223.1 208.7,225.1 207.2,227.3 205.3,230.7 203.2,233.4 200.7,234.0 198.1,234.5 195.5,235.0 192.9,235.5 190.3,236.0 187.8,236.5 185.3,236.9 182.8,237.3 180.3,237.8 177.8,238.2 175.3,238.6 172.2,239.0 169.1,239.5 166.0,239.9 162.7,239.7 160.4,241.0 158.0,242.3 155.4,242.8 152.9,243.4 150.3,243.9 147.7,244.4 145.1,244.9 142.6,245.5 140.0,246.0 137.5,246.5 135.0,247.0 132.5,247.5 130.0,248.0 127.5,248.5 125.0,249.0 122.2,249.4 119.3,249.8 116.5,250.3 113.7,250.7 110.8,251.1 108.0,251.5 105.0,252.4 102.0,253.2 98.3,255.4 95.6,255.8 92.9,256.2 90.3,256.6 87.6,257.0 84.9,257.4 82.3,257.8 79.6,258.2 76.9,258.6 74.3,259.0 71.7,259.3 69.1,259.6 66.5,259.8 63.9,260.1 61.3,260.4 58.7,260.6 56.1,260.9 53.4,261.2 50.8,261.4 48.2,261.7 45.6,262.0"/><polyline points="320.0,109.4 318.6,113.5 316.8,115.5 314.9,117.5 312.4,120.0 310.0,122.7 307.6,125.5 306.0,127.7 304.5,130.0 303.2,132.1 301.9,134.3 300.6,136.5 298.8,141.3 296.2,143.5 293.5,145.4 291.2,146.5 288.9,147.4 286.4,148.3 283.2,149.2 279.9,149.9 276.9,151.5 274.5,152.6 272.2,153.9 269.9,155.2 267.0,156.5 264.1,157.8 261.7,160.2 259.3,162.7 257.7,166.2 256.2,169.9 255.6,172.5 255.1,175.0 254.5,177.6 252.7,179.8 250.9,182.0 248.7,183.6 246.6,185.3 244.4,186.9 242.2,188.5 239.7,190.2 237.5,192.2 235.5,194.3 233.2,195.9 231.0,197.5 228.9,199.2 226.9,201.0 224.7,203.1 222.8,205.5 221.2,208.1 219.8,210.5 218.7,213.2 218.0,216.3 217.2,219.0 215.8,221.2 214.0,223.0 212.0,224.7 209.8,226.1 207.2,227.3 205.2,230.4 203.1,233.1 200.5,233.6 198.0,234.1 195.4,234.6 192.8,235.1 190.2,235.6 187.7,236.0 185.2,236.5 182.7,236.9 180.2,237.3 177.7,237.7 175.2,238.2 172.1,238.6 169.0,239.1 165.9,239.6 162.7,239.7 160.5,241.8 158.2,243.2 155.7,243.9 153.1,244.5 150.6,245.1 148.0,245.7 145.4,246.3 142.9,246.8 140.3,247.4 137.8,247.9 135.3,248.5 132.8,249.0 130.3,249.5 127.8,250.0 125.3,250.5 122.5,250.9 119.7,251.3 116.8,251.6 114.0,252.0 111.1,252.3 108.2,252.6 105.2,253.3 102.0,253.2 98.3,255.8 95.7,256.2 93.0,256.7 90.3,257.1 87.7,257.5 85.0,257.9 82.3,258.3 79.7,258.8 77.0,259.2 74.3,259.6 71.8,259.9 69.2,260.2 66.6,260.4 64.0,260.7 61.4,261.0 58.8,261.3 56.2,261.6 53.6,261.8 51.0,262.1 48.4,262.4 45.8,262.7"/><polyline points="320.0,109.4 318.5,113.4 316.6,115.4 314.8,117.3 312.2,119.8 309.8,122.5 307.4,125.3 305.8,127.6 304.3,129.8 303.0,132.1 301.8,134.3 300.6,136.5 298.1,140.1 295.1,141.7 292.2,143.2 289.8,144.2 287.5,145.2 285.1,146.2 282.2,147.6 279.3,148.9 276.9,151.5 274.8,153.0 272.8,154.6 270.7,156.1 267.9,157.5 265.1,158.9 262.6,161.2 260.1,163.6 258.1,166.7 256.2,169.9 255.9,172.7 255.6,175.4 255.2,178.1 253.4,180.4 251.7,182.6 249.4,184.1 247.1,185.7 244.7,187.1 242.2,188.5 240.8,191.2 239.5,193.9 238.1,196.6 236.3,198.6 234.5,200.6 232.7,202.5 230.9,204.5 228.8,206.7 226.6,208.8 224.5,210.9 222.3,212.7 220.2,214.5 218.0,216.3 215.6,217.4 213.4,218.9 211.6,220.6 210.0,222.7 208.5,224.9 207.2,227.3 204.7,228.6 202.6,231.0 199.9,231.4 197.3,231.8 194.7,232.2 192.1,232.6 189.5,233.1 187.0,233.5 184.5,233.9 182.0,234.4 179.5,234.8 177.0,235.3 174.5,235.8 171.4,236.4 168.4,237.1 165.4,237.9 162.7,239.7 160.5,241.5 158.1,243.0 155.6,243.6 153.0,244.2 150.5,244.7 147.9,245.3 145.3,245.9 142.8,246.4 140.2,247.0 137.7,247.5 135.2,248.0 132.7,248.5 130.2,249.0 127.7,249.5 125.2,250.0 122.4,250.4 119.6,250.8 116.7,251.2 113.9,251.6 111.0,251.9 108.2,252.3 105.1,253.0 102.0,253.2 98.4,256.1 95.7,256.5 93.1,257.0 90.4,257.5 87.7,257.9 85.1,258.3 82.4,258.8 79.8,259.2 77.1,259.6 74.4,260.1 71.8,260.4 69.2,260.6 66.6,260.9 64.0,261.2 61.4,261.5 58.8,261.8 56.2,262.1 53.6,262.4 51.0,262.6 48.4,262.9 45.8,263.2"/><polyline points="320.0,109.4 318.5,113.4 316.6,115.4 314.8,117.3 312.2,119.8 309.8,122.5 307.4,125.3 305.8,127.6 304.3,129.8 303.0,132.1 301.8,134.3 300.6,136.5 298.3,140.5 295.4,142.2 292.5,143.8 290.2,144.8 287.9,145.8 285.5,146.8 282.5,148.0 279.4,149.2 276.9,151.5 274.6,152.7 272.3,154.0 270.1,155.4 267.2,156.7 264.3,158.1 261.9,160.4 259.5,162.9 257.8,166.3 256.2,169.9 255.9,172.7 255.5,175.4 255.1,178.0 253.3,180.3 251.5,182.5 249.3,184.1 247.0,185.6 244.7,187.1 242.2,188.5 241.3,191.6 240.2,194.6 239.1,197.5 237.5,199.6 235.8,201.7 234.1,203.8 232.4,205.8 230.2,207.9 228.0,210.0 225.7,212.0 223.3,213.5 220.7,215.0 218.0,216.3 216.8,218.7 215.3,220.7 213.5,222.4 211.5,224.2 209.5,225.9 207.2,227.3 205.2,230.4 203.2,233.2 200.6,233.7 198.0,234.2 195.4,234.7 192.8,235.2 190.2,235.7 187.7,236.1 185.2,236.6 182.7,237.0 180.2,237.4 177.7,237.8 175.2,238.2 172.1,238.7 169.0,239.2 165.9,239.6 162.7,239.7 160.2,240.5 157.9,241.6 155.3,242.1 152.7,242.6 150.1,243.0 147.5,243.5 144.9,244.0 142.4,244.5 139.8,245.0 137.3,245.5 134.8,246.0 132.3,246.5 129.8,247.0 127.3,247.5 124.8,248.0 121.9,248.4 119.1,248.8 116.3,249.3 113.5,249.8 110.6,250.2 107.8,250.7 104.9,251.7 102.0,253.2 98.3,255.8 95.7,256.2 93.0,256.6 90.3,257.0 87.7,257.5 85.0,257.9 82.3,258.3 79.7,258.7 77.0,259.1 74.3,259.6 71.7,259.8 69.1,260.1 66.5,260.4 63.9,260.7 61.3,261.0 58.7,261.2 56.1,261.5 53.5,261.8 50.9,262.1 48.3,262.3 45.8,262.6"/><polyline points="320.0,109.4 318.7,113.6 317.0,115.6 315.2,117.7 312.8,120.2 310.4,123.0 308.0,125.7 306.3,127.9 304.7,130.1 303.4,132.3 302.0,134.4 300.6,136.5 298.2,140.3 295.3,142.0 292.4,143.6 290.0,144.6 287.7,145.6 285.3,146.6 282.4,147.8 279.4,149.1 276.9,151.5 274.7,152.8 272.5,154.2 270.3,155.7 267.4,157.0 264.6,158.4 262.1,160.7 259.7,163.2 257.9,166.5 256.2,169.9 255.0,172.0 254.0,174.2 253.1,176.6 251.2,178.6 249.4,180.8 247.3,182.6 245.5,184.4 243.7,186.4 242.2,188.5 241.1,191.5 240.0,194.3 238.8,197.2 237.1,199.3 235.4,201.3 233.6,203.3 231.9,205.4 229.7,207.5 227.6,209.6 225.3,211.6 223.0,213.2 220.5,214.8 218.0,216.3 215.4,217.3 213.2,218.7 211.4,220.4 209.8,222.5 208.4,224.8 207.2,227.3 205.2,230.2 203.1,232.9 200.5,233.4 197.9,233.9 195.3,234.4 192.7,234.9 190.1,235.4 187.6,235.8 185.1,236.3 182.6,236.7 180.1,237.1 177.6,237.5 175.1,238.0 172.0,238.5 168.9,239.0 165.8,239.4 162.7,239.7 160.1,240.0 157.7,241.1 155.1,241.4 152.5,241.8 149.9,242.3 147.3,242.7 144.8,243.2 142.2,243.7 139.6,244.1 137.1,244.6 134.6,245.1 132.1,245.6 129.6,246.0 127.1,246.5 124.6,247.0 121.7,247.5 118.9,247.9 116.1,248.4 113.3,248.9 110.5,249.5 107.7,250.0 104.7,251.2 102.0,253.2 98.4,256.0 95.7,256.5 93.1,257.0 90.4,257.4 87.7,257.8 85.1,258.3 82.4,258.7 79.7,259.1 77.1,259.6 74.4,260.0 71.8,260.3 69.2,260.6 66.6,260.9 64.0,261.1 61.4,261.4 58.8,261.7 56.2,262.0 53.6,262.3 51.0,262.6 48.4,262.8 45.8,263.1"/><polyline points="320.0,109.4 318.4,113.3 316.5,115.3 314.6,117.2 312.0,119.7 309.6,122.4 307.2,125.2 305.7,127.4 304.1,129.7 302.9,132.0 301.7,134.2 300.6,136.5 298.2,140.2 295.2,141.9 292.3,143.4 290.0,144.5 287.6,145.5 285.3,146.4 282.3,147.7 279.3,149.0 276.9,151.5 274.8,153.0 272.7,154.5 270.6,156.0 267.8,157.4 265.0,158.8 262.5,161.1 260.0,163.5 258.1,166.7 256.2,169.9 255.4,172.3 254.7,174.7 254.0,177.2 252.1,179.4 250.3,181.6 248.2,183.2 246.1,184.9 244.1,186.7 242.2,188.5 239.7,190.2 237.6,192.3 235.6,194.4 233.3,196.0 231.2,197.7 229.1,199.4 227.1,201.2 224.9,203.3 223.0,205.6 221.4,208.2 219.9,210.6 218.7,213.3 218.0,216.3 216.1,218.0 214.3,219.7 212.5,221.5 210.7,223.4 208.9,225.3 207.2,227.3 205.5,231.3 203.4,234.2 200.9,234.8 198.3,235.4 195.7,235.9 193.1,236.4 190.5,237.0 188.0,237.4 185.6,237.8 183.0,238.3 180.5,238.7 178.0,239.1 175.5,239.4 172.4,239.8 169.3,240.2 166.1,240.5 162.7,239.7 160.3,240.9 158.0,242.1 155.4,242.6 152.8,243.2 150.2,243.7 147.7,244.2 145.1,244.7 142.5,245.2 139.9,245.8 137.4,246.2 134.9,246.7 132.4,247.2 129.9,247.7 127.4,248.2 124.9,248.7 122.1,249.2 119.3,249.6 116.4,250.0 113.6,250.4 110.8,250.9 108.0,251.3 105.0,252.2 102.0,253.2 98.3,255.5 95.6,255.9 93.0,256.3 90.3,256.7 87.6,257.1 84.9,257.5 82.3,257.9 79.6,258.4 76.9,258.8 74.3,259.2 71.7,259.4 69.1,259.7 66.5,260.0 63.9,260.2 61.3,260.5 58.7,260.8 56.1,261.1 53.5,261.3 50.9,261.6 48.3,261.9 45.7,262.1"/><polyline points="320.0,109.4 318.7,113.6 317.0,115.6 315.2,117.6 312.7,120.2 310.3,122.9 307.9,125.7 306.3,127.9 304.7,130.1 303.3,132.3 302.0,134.4 300.6,136.5 298.9,141.4 296.3,143.6 293.6,145.6 291.4,146.7 289.0,147.6 286.5,148.4 283.3,149.4 280.0,150.0 276.9,151.5 274.8,153.0 272.7,154.5 270.6,156.0 267.8,157.4 265.0,158.8 262.5,161.1 260.0,163.5 258.1,166.7 256.2,169.9 254.5,171.6 253.2,173.6 252.1,175.8 250.0,177.8 248.2,180.0 246.3,181.8 244.6,183.8 243.2,186.0 242.2,188.5 239.5,190.1 237.2,192.0 235.1,194.0 232.7,195.5 230.5,197.1 228.4,198.8 226.4,200.6 224.2,202.7 222.3,205.0 220.8,207.7 219.5,210.2 218.4,213.0 218.0,216.3 216.6,218.5 215.0,220.4 213.2,222.2 211.3,224.0 209.3,225.7 207.2,227.3 205.1,230.0 203.0,232.7 200.4,233.1 197.8,233.6 195.2,234.1 192.6,234.6 190.0,235.1 187.5,235.5 185.0,235.9 182.5,236.4 180.0,236.8 177.5,237.2 175.0,237.7 171.9,238.2 168.9,238.7 165.8,239.2 162.7,239.7 160.5,241.7 158.2,243.1 155.6,243.7 153.1,244.4 150.5,244.9 148.0,245.5 145.4,246.1 142.8,246.7 140.3,247.2 137.8,247.7 135.3,248.3 132.8,248.8 130.3,249.3 127.8,249.8 125.3,250.3 122.4,250.7 119.6,251.1 116.8,251.5 113.9,251.8 111.1,252.2 108.2,252.5 105.2,253.1 102.0,253.2 98.3,255.6 95.6,256.0 93.0,256.4 90.3,256.8 87.6,257.3 85.0,257.7 82.3,258.1 79.6,258.5 77.0,258.9 74.3,259.3 71.7,259.6 69.1,259.9 66.5,260.1 63.9,260.4 61.3,260.7 58.7,260.9 56.1,261.2 53.5,261.5 50.9,261.8 48.3,262.0 45.7,262.3"/><polyline points="320.0,109.4 318.6,113.5 316.8,115.5 315.0,117.5 312.5,120.0 310.1,122.8 307.7,125.5 306.1,127.8 304.5,130.0 303.2,132.2 301.9,134.3 300.6,136.5 297.9,139.9 294.9,141.3 291.9,142.8 289.5,143.8 287.2,144.8 284.9,145.8 282.0,147.2 279.1,148.7 276.9,151.5 274.4,152.5 272.0,153.7 269.7,155.0 266.7,156.2 263.9,157.5 261.4,160.0 259.1,162.5 257.6,166.1 256.2,169.9 255.8,172.6 255.3,175.2 254.9,177.9 253.1,180.1 251.3,182.3 249.1,183.9 246.8,185.5 244.5,187.0 242.2,188.5 239.5,190.1 237.3,192.0 235.2,194.1 232.8,195.6 230.6,197.2 228.5,198.9 226.5,200.7 224.3,202.8 222.4,205.1 220.9,207.7 219.5,210.3 218.5,213.0 218.0,216.3 215.6,217.4 213.4,218.9 211.6,220.6 210.0,222.7 208.5,224.9 207.2,227.3 205.0,229.4 202.8,232.0 200.2,232.4 197.6,232.9 195.0,233.3 192.4,233.8 189.8,234.2 187.3,234.7 184.8,235.1 182.3,235.5 179.8,236.0 177.3,236.4 174.8,236.9 171.7,237.5 168.7,238.0 165.6,238.7 162.7,239.7 160.3,240.9 158.0,242.1 155.4,242.6 152.8,243.2 150.2,243.7 147.7,244.2 145.1,244.7 142.5,245.2 139.9,245.8 137.4,246.2 134.9,246.7 132.4,247.2 129.9,247.7 127.4,248.2 124.9,248.7 122.1,249.2 119.3,249.6 116.4,250.0 113.6,250.4 110.8,250.9 108.0,251.3 105.0,252.2 102.0,253.2 98.3,255.7 95.7,256.2 93.0,256.6 90.3,257.0 87.7,257.4 85.0,257.8 82.3,258.3 79.7,258.7 77.0,259.1 74.3,259.5 71.7,259.8 69.1,260.1 66.5,260.3 63.9,260.6 61.3,260.9 58.7,261.2 56.1,261.5 53.5,261.7 50.9,262.0 48.3,262.3 45.7,262.6"/><polyline points="320.0,109.4 318.8,113.6 317.1,115.7 315.3,117.7 312.9,120.3 310.5,123.0 308.1,125.8 306.4,128.0 304.8,130.2 303.4,132.3 302.0,134.4 300.6,136.5 298.6,140.9 295.9,142.9 293.1,144.7 290.8,145.8 288.4,146.7 286.0,147.6 282.9,148.7 279.7,149.6 276.9,151.5 274.6,152.7 272.3,154.1 270.1,155.4 267.2,156.7 264.3,158.1 261.9,160.5 259.5,162.9 257.8,166.3 256.2,169.9 255.8,172.6 255.3,175.2 254.8,177.8 253.0,180.0 251.2,182.2 249.0,183.8 246.8,185.4 244.5,187.0 242.2,188.5 240.6,191.0 239.0,193.5 237.5,196.1 235.6,197.9 233.7,199.8 231.8,201.7 229.9,203.7 227.8,205.8 225.7,208.0 223.7,210.2 221.7,212.2 219.8,214.2 218.0,216.3 216.7,218.6 215.2,220.6 213.4,222.3 211.4,224.1 209.4,225.8 207.2,227.3 205.1,229.8 203.0,232.5 200.4,232.9 197.8,233.4 195.2,233.9 192.6,234.4 190.0,234.8 187.5,235.3 185.0,235.7 182.5,236.1 180.0,236.6 177.5,237.0 175.0,237.5 171.9,238.0 168.8,238.5 165.7,239.1 162.7,239.7 160.2,240.2 157.8,241.3 155.2,241.8 152.6,242.2 150.0,242.7 147.4,243.1 144.8,243.6 142.3,244.1 139.7,244.6 137.2,245.1 134.7,245.5 132.2,246.0 129.7,246.5 127.2,247.0 124.7,247.5 121.8,247.9 119.0,248.4 116.2,248.8 113.4,249.3 110.6,249.8 107.8,250.4 104.8,251.4 102.0,253.2 98.3,255.8 95.7,256.3 93.0,256.7 90.3,257.1 87.7,257.6 85.0,258.0 82.4,258.4 79.7,258.8 77.0,259.3 74.4,259.7 71.8,260.0 69.2,260.2 66.6,260.5 64.0,260.8 61.4,261.1 58.8,261.4 56.2,261.6 53.6,261.9 51.0,262.2 48.4,262.5 45.8,262.7"/><polyline points="320.0,109.4 318.7,113.6 316.9,115.6 315.1,117.6 312.7,120.1 310.3,122.9 307.9,125.6 306.2,127.8 304.6,130.1 303.3,132.2 302.0,134.4 300.6,136.5 298.9,141.4 296.3,143.6 293.6,145.5 291.4,146.7 289.0,147.6 286.5,148.4 283.3,149.4 280.0,150.0 276.9,151.5 275.0,153.2 273.0,154.8 271.0,156.4 268.2,157.9 265.4,159.3 262.9,161.6 260.4,163.9 258.3,166.9 256.2,169.9 256.4,173.0 256.3,176.0 256.1,178.8 254.5,181.2 252.7,183.4 250.4,184.9 247.8,186.2 245.2,187.5 242.2,188.5 241.3,191.6 240.2,194.5 239.1,197.5 237.5,199.6 235.8,201.7 234.1,203.7 232.3,205.8 230.2,207.9 228.0,210.0 225.7,212.0 223.2,213.5 220.7,215.0 218.0,216.3 217.1,219.0 215.7,221.1 213.9,222.9 211.9,224.6 209.7,226.1 207.2,227.3 205.0,229.7 202.9,232.3 200.3,232.7 197.7,233.2 195.1,233.6 192.5,234.1 189.9,234.6 187.4,235.0 184.9,235.5 182.4,235.9 179.9,236.3 177.4,236.8 174.9,237.2 171.8,237.8 168.8,238.3 165.7,238.9 162.7,239.7 160.4,241.1 158.0,242.4 155.4,242.9 152.9,243.4 150.3,244.0 147.7,244.5 145.2,245.0 142.6,245.6 140.0,246.1 137.5,246.6 135.0,247.1 132.5,247.6 130.0,248.1 127.5,248.6 125.0,249.1 122.2,249.5 119.4,249.9 116.5,250.4 113.7,250.8 110.9,251.2 108.0,251.6 105.0,252.4 102.0,253.2 98.2,255.2 95.6,255.6 92.9,255.9 90.2,256.3 87.5,256.7 84.9,257.1 82.2,257.5 79.5,257.9 76.9,258.3 74.2,258.7 71.6,258.9 69.0,259.2 66.4,259.4 63.8,259.7 61.2,260.0 58.6,260.2 56.0,260.5 53.4,260.7 50.8,261.0 48.2,261.3 45.6,261.5"/><polyline points="320.0,109.4 318.5,113.4 316.7,115.4 314.9,117.4 312.3,119.9 309.9,122.6 307.5,125.4 306.0,127.6 304.4,129.9 303.1,132.1 301.8,134.3 300.6,136.5 297.5,139.2 294.3,140.3 291.1,141.6 288.7,142.5 286.4,143.5 284.1,144.6 281.4,146.3 278.8,148.1 276.9,151.5 275.1,153.4 273.3,155.1 271.3,156.8 268.7,158.4 265.9,159.8 263.4,162.1 260.7,164.3 258.5,167.2 256.2,169.9 255.3,172.2 254.5,174.6 253.7,177.0 251.8,179.2 250.0,181.4 248.0,183.0 245.9,184.8 244.0,186.6 242.2,188.5 240.5,190.9 238.9,193.4 237.4,196.0 235.4,197.8 233.5,199.7 231.6,201.6 229.8,203.5 227.6,205.7 225.6,207.8 223.6,210.1 221.6,212.1 219.7,214.1 218.0,216.3 216.9,218.8 215.4,220.8 213.6,222.6 211.7,224.3 209.5,225.9 207.2,227.3 204.9,229.2 202.8,231.7 200.1,232.2 197.5,232.6 194.9,233.0 192.3,233.5 189.7,233.9 187.2,234.4 184.7,234.8 182.2,235.2 179.7,235.7 177.2,236.1 174.7,236.6 171.7,237.2 168.6,237.8 165.6,238.5 162.7,239.7 160.3,240.7 157.9,241.9 155.3,242.4 152.7,242.9 150.2,243.3 147.6,243.9 145.0,244.4 142.4,244.9 139.9,245.4 137.4,245.9 134.9,246.4 132.4,246.9 129.9,247.4 127.4,247.9 124.9,248.4 122.0,248.8 119.2,249.2 116.4,249.6 113.5,250.1 110.7,250.5 107.9,251.0 104.9,252.0 102.0,253.2 98.3,255.6 95.6,256.1 93.0,256.5 90.3,256.9 87.6,257.3 85.0,257.7 82.3,258.1 79.6,258.5 77.0,258.9 74.3,259.4 71.7,259.6 69.1,259.9 66.5,260.2 63.9,260.5 61.3,260.7 58.7,261.0 56.1,261.3 53.5,261.5 50.9,261.8 48.3,262.1 45.7,262.4"/><polyline points="320.0,109.4 318.9,113.7 317.2,115.8 315.5,117.9 313.1,120.4 310.7,123.2 308.3,125.9 306.6,128.1 304.9,130.3 303.5,132.4 302.1,134.5 300.6,136.5 298.1,140.1 295.1,141.7 292.1,143.2 289.8,144.2 287.5,145.2 285.1,146.2 282.2,147.6 279.3,148.9 276.9,151.5 275.0,153.2 273.0,154.8 270.9,156.4 268.2,157.8 265.4,159.3 262.9,161.6 260.3,163.9 258.3,166.9 256.2,169.9 256.2,172.9 256.0,175.7 255.7,178.5 254.0,180.8 252.2,183.0 249.9,184.5 247.5,186.0 244.9,187.3 242.2,188.5 240.7,191.1 239.3,193.7 237.8,196.4 236.0,198.3 234.1,200.2 232.3,202.2 230.4,204.1 228.3,206.2 226.2,208.4 224.1,210.6 222.0,212.5 220.0,214.4 218.0,216.3 217.2,219.0 215.8,221.2 214.0,223.0 212.0,224.7 209.8,226.1 207.2,227.3 204.6,228.2 202.4,230.5 199.8,230.8 197.1,231.2 194.5,231.6 191.9,232.0 189.3,232.4 186.8,232.8 184.3,233.3 181.8,233.7 179.3,234.2 176.8,234.7 174.3,235.2 171.3,235.9 168.3,236.6 165.3,237.4 162.7,239.7 160.3,240.7 157.9,241.9 155.3,242.4 152.7,242.9 150.2,243.4 147.6,243.9 145.0,244.4 142.4,244.9 139.9,245.4 137.4,245.9 134.9,246.4 132.4,246.9 129.9,247.4 127.4,247.9 124.9,248.4 122.0,248.8 119.2,249.2 116.4,249.7 113.5,250.1 110.7,250.6 107.9,251.0 104.9,252.0 102.0,253.2 98.4,256.5 95.8,257.0 93.1,257.5 90.5,258.0 87.8,258.5 85.2,258.9 82.5,259.4 79.9,259.9 77.2,260.3 74.5,260.8 71.9,261.1 69.3,261.4 66.7,261.7 64.2,262.0 61.6,262.3 59.0,262.6 56.4,262.9 53.8,263.1 51.2,263.4 48.6,263.7 46.0,264.0"/><polyline points="320.0,109.4 319.2,113.9 317.6,116.1 316.0,118.2 313.6,120.8 311.3,123.6 308.8,126.3 307.1,128.5 305.3,130.6 303.8,132.6 302.3,134.6 300.6,136.5 297.4,139.1 294.2,140.2 291.0,141.4 288.6,142.4 286.3,143.4 284.1,144.5 281.3,146.2 278.7,148.0 276.9,151.5 274.8,153.0 272.6,154.4 270.5,155.9 267.7,157.3 264.9,158.7 262.4,161.0 259.9,163.4 258.0,166.6 256.2,169.9 256.3,172.9 256.1,175.8 255.8,178.6 254.2,180.9 252.4,183.1 250.1,184.7 247.6,186.1 245.0,187.4 242.2,188.5 241.1,191.5 240.0,194.4 238.8,197.3 237.2,199.3 235.4,201.4 233.7,203.4 232.0,205.4 229.8,207.6 227.6,209.7 225.4,211.7 223.0,213.3 220.6,214.8 218.0,216.3 215.0,216.9 212.6,218.1 210.8,219.8 209.3,222.0 208.1,224.5 207.2,227.3 205.1,229.8 202.9,232.4 200.3,232.9 197.7,233.3 195.1,233.8 192.5,234.3 189.9,234.8 187.4,235.2 184.9,235.6 182.4,236.1 179.9,236.5 177.4,236.9 174.9,237.4 171.9,237.9 168.8,238.5 165.7,239.0 162.7,239.7 160.4,241.3 158.1,242.7 155.5,243.3 153.0,243.8 150.4,244.4 147.8,245.0 145.3,245.5 142.7,246.1 140.1,246.6 137.6,247.1 135.1,247.6 132.6,248.1 130.1,248.6 127.6,249.1 125.1,249.6 122.3,250.0 119.5,250.4 116.6,250.8 113.8,251.2 111.0,251.6 108.1,252.0 105.1,252.7 102.0,253.2 98.1,254.5 95.4,254.7 92.7,255.0 90.1,255.3 87.4,255.7 84.7,256.0 82.0,256.4 79.4,256.7 76.7,257.1 74.0,257.5 71.4,257.7 68.8,257.9 66.2,258.2 63.6,258.4 61.0,258.7 58.4,258.9 55.8,259.1 53.2,259.4 50.6,259.6 48.0,259.9 45.3,260.1"/><polyline points="320.0,109.4 318.4,113.3 316.5,115.3 314.6,117.2 312.0,119.7 309.6,122.4 307.2,125.2 305.7,127.4 304.1,129.7 302.9,132.0 301.7,134.2 300.6,136.5 297.1,138.7 293.7,139.5 290.5,140.6 288.1,141.5 285.8,142.5 283.6,143.7 280.9,145.6 278.5,147.6 276.9,151.5 274.6,152.8 272.3,154.1 270.1,155.5 267.2,156.8 264.4,158.1 261.9,160.5 259.5,163.0 257.8,166.4 256.2,169.9 255.5,172.4 254.9,174.9 254.2,177.4 252.4,179.6 250.6,181.8 248.5,183.4 246.3,185.1 244.2,186.8 242.2,188.5 239.6,190.1 237.3,192.0 235.2,194.1 232.9,195.6 230.7,197.2 228.6,198.9 226.6,200.7 224.4,202.8 222.5,205.2 220.9,207.8 219.6,210.3 218.5,213.1 218.0,216.3 216.0,217.8 214.0,219.5 212.2,221.2 210.5,223.2 208.8,225.2 207.2,227.3 205.5,231.6 203.5,234.5 201.0,235.1 198.4,235.7 195.8,236.3 193.2,236.8 190.6,237.3 188.2,237.8 185.7,238.2 183.1,238.6 180.6,239.0 178.1,239.4 175.6,239.8 172.5,240.2 169.4,240.5 166.2,240.7 162.7,239.7 160.1,239.8 157.7,240.8 155.1,241.1 152.4,241.5 149.9,241.9 147.3,242.4 144.7,242.8 142.1,243.3 139.5,243.8 137.0,244.2 134.5,244.7 132.0,245.2 129.5,245.6 127.0,246.1 124.5,246.6 121.6,247.1 118.8,247.5 116.0,248.0 113.2,248.6 110.4,249.1 107.6,249.7 104.7,250.9 102.0,253.2 98.2,255.1 95.5,255.4 92.9,255.8 90.2,256.2 87.5,256.6 84.9,256.9 82.2,257.3 79.5,257.7 76.8,258.1 74.2,258.5 71.6,258.8 69.0,259.0 66.4,259.3 63.8,259.5 61.2,259.8 58.6,260.0 56.0,260.3 53.4,260.6 50.8,260.8 48.1,261.1 45.5,261.4"/><polyline points="320.0,109.4 318.7,113.6 316.9,115.6 315.2,117.6 312.7,120.1 310.3,122.9 307.9,125.6 306.3,127.9 304.6,130.1 303.3,132.2 302.0,134.4 300.6,136.5 298.2,140.3 295.3,142.0 292.3,143.5 290.0,144.6 287.7,145.6 285.3,146.5 282.4,147.8 279.4,149.1 276.9,151.5 275.2,153.4 273.3,155.2 271.4,156.9 268.8,158.5 266.1,160.0 263.5,162.3 260.8,164.4 258.6,167.3 256.2,169.9 255.9,172.7 255.5,175.4 255.1,178.0 253.3,180.3 251.5,182.5 249.3,184.1 247.0,185.6 244.6,187.1 242.2,188.5 240.8,191.2 239.4,193.9 238.1,196.6 236.2,198.5 234.4,200.5 232.6,202.4 230.8,204.4 228.6,206.5 226.5,208.7 224.4,210.8 222.3,212.6 220.1,214.5 218.0,216.3 217.3,219.2 216.0,221.4 214.2,223.2 212.2,224.8 209.9,226.2 207.2,227.3 204.8,228.9 202.6,231.3 200.0,231.7 197.4,232.1 194.8,232.5 192.2,233.0 189.6,233.4 187.1,233.8 184.6,234.3 182.1,234.7 179.6,235.2 177.1,235.6 174.6,236.1 171.5,236.7 168.5,237.4 165.5,238.1 162.7,239.7 160.4,241.2 158.0,242.5 155.5,243.0 152.9,243.6 150.3,244.1 147.8,244.7 145.2,245.2 142.6,245.8 140.1,246.3 137.6,246.8 135.1,247.3 132.6,247.8 130.1,248.3 127.6,248.8 125.1,249.3 122.2,249.7 119.4,250.1 116.6,250.5 113.7,250.9 110.9,251.3 108.1,251.7 105.0,252.5 102.0,253.2 98.3,255.8 95.7,256.2 93.0,256.6 90.3,257.0 87.7,257.5 85.0,257.9 82.3,258.3 79.7,258.7 77.0,259.1 74.3,259.6 71.7,259.8 69.1,260.1 66.5,260.4 63.9,260.7 61.3,261.0 58.7,261.2 56.1,261.5 53.5,261.8 50.9,262.1 48.3,262.3 45.8,262.6"/><polyline points="320.0,109.4 319.1,113.9 317.5,116.0 315.9,118.1 313.5,120.7 311.2,123.5 308.7,126.2 307.0,128.4 305.3,130.5 303.8,132.6 302.2,134.6 300.6,136.5 298.3,140.4 295.4,142.1 292.5,143.7 290.2,144.8 287.8,145.8 285.4,146.7 282.5,148.0 279.4,149.2 276.9,151.5 274.8,153.0 272.7,154.5 270.6,156.0 267.8,157.4 265.0,158.8 262.5,161.2 260.0,163.5 258.1,166.7 256.2,169.9 256.2,172.9 256.0,175.7 255.6,178.5 254.0,180.8 252.2,183.0 249.9,184.5 247.5,185.9 244.9,187.3 242.2,188.5 240.6,191.0 239.1,193.6 237.7,196.2 235.8,198.1 233.9,200.0 232.1,202.0 230.2,203.9 228.1,206.0 226.0,208.2 224.0,210.4 221.9,212.3 219.9,214.3 218.0,216.3 215.3,217.2 213.1,218.5 211.2,220.3 209.7,222.4 208.3,224.7 207.2,227.3 205.4,231.1 203.4,234.0 200.8,234.6 198.2,235.1 195.7,235.7 193.1,236.2 190.5,236.7 188.0,237.2 185.5,237.6 183.0,238.0 180.5,238.4 178.0,238.8 175.4,239.2 172.3,239.6 169.2,240.0 166.1,240.3 162.7,239.7 160.4,241.1 158.0,242.4 155.5,243.0 152.9,243.5 150.3,244.1 147.8,244.6 145.2,245.1 142.6,245.7 140.0,246.2 137.5,246.7 135.0,247.2 132.5,247.7 130.0,248.2 127.5,248.7 125.0,249.2 122.2,249.6 119.4,250.0 116.5,250.4 113.7,250.9 110.9,251.3 108.0,251.7 105.0,252.5 102.0,253.2 98.5,256.8 95.9,257.4 93.2,257.9 90.6,258.4 87.9,258.9 85.2,259.4 82.6,259.9 79.9,260.3 77.3,260.8 74.6,261.2 72.0,261.6 69.4,261.9 66.8,262.2 64.2,262.5 61.6,262.8 59.1,263.1 56.5,263.4 53.9,263.7 51.3,264.0 48.7,264.3 46.1,264.6"/><polyline points="320.0,109.4 318.6,113.5 316.7,115.4 314.9,117.4 312.4,119.9 310.0,122.7 307.6,125.4 306.0,127.7 304.4,129.9 303.1,132.1 301.9,134.3 300.6,136.5 298.2,140.3 295.2,141.9 292.3,143.4 290.0,144.5 287.6,145.5 285.3,146.4 282.3,147.7 279.3,149.0 276.9,151.5 274.6,152.8 272.4,154.2 270.3,155.6 267.4,156.9 264.6,158.3 262.1,160.7 259.7,163.1 257.9,166.5 256.2,169.9 255.6,172.4 255.0,175.0 254.4,177.6 252.6,179.7 250.8,181.9 248.7,183.6 246.5,185.2 244.3,186.9 242.2,188.5 241.0,191.4 239.8,194.2 238.5,197.0 236.8,199.0 235.1,201.0 233.3,203.1 231.5,205.0 229.4,207.2 227.2,209.3 225.0,211.4 222.7,213.1 220.4,214.7 218.0,216.3 216.0,217.9 214.2,219.6 212.3,221.3 210.6,223.3 208.9,225.3 207.2,227.3 205.0,229.6 202.9,232.2 200.3,232.6 197.7,233.1 195.1,233.5 192.5,234.0 189.9,234.5 187.4,234.9 184.9,235.3 182.4,235.8 179.9,236.2 177.4,236.7 174.9,237.1 171.8,237.7 168.7,238.2 165.7,238.8 162.7,239.7 160.7,242.4 158.4,244.0 155.9,244.7 153.3,245.4 150.8,246.1 148.2,246.7 145.7,247.3 143.1,247.9 140.6,248.5 138.1,249.1 135.6,249.6 133.1,250.1 130.6,250.6 128.1,251.2 125.6,251.6 122.7,252.0 119.9,252.4 117.1,252.7 114.2,253.0 111.3,253.3 108.4,253.5 105.4,254.0 102.0,253.2 98.3,255.7 95.7,256.2 93.0,256.6 90.3,257.0 87.7,257.4 85.0,257.9 82.3,258.3 79.7,258.7 77.0,259.1 74.3,259.5 71.7,259.8 69.1,260.1 66.5,260.4 63.9,260.6 61.3,260.9 58.7,261.2 56.1,261.5 53.5,261.7 50.9,262.0 48.3,262.3 45.7,262.6"/><polyline points="320.0,109.4 318.5,113.4 316.7,115.4 314.8,117.4 312.3,119.9 309.9,122.6 307.5,125.4 305.9,127.6 304.4,129.9 303.1,132.1 301.8,134.3 300.6,136.5 298.5,140.8 295.8,142.7 292.9,144.5 290.7,145.6 288.3,146.5 285.9,147.4 282.8,148.5 279.7,149.5 276.9,151.5 275.2,153.5 273.4,155.3 271.5,157.1 268.9,158.6 266.2,160.1 263.6,162.4 260.9,164.5 258.7,167.3 256.2,169.9 255.8,172.6 255.4,175.3 254.9,177.9 253.2,180.2 251.4,182.4 249.2,184.0 246.9,185.5 244.6,187.0 242.2,188.5 241.1,191.5 240.0,194.4 238.8,197.2 237.1,199.3 235.4,201.3 233.6,203.4 231.9,205.4 229.8,207.5 227.6,209.6 225.3,211.6 223.0,213.3 220.5,214.8 218.0,216.3 215.9,217.8 214.0,219.4 212.1,221.1 210.4,223.1 208.8,225.2 207.2,227.3 205.5,231.4 203.5,234.3 200.9,234.9 198.3,235.5 195.7,236.0 193.2,236.5 190.6,237.0 188.1,237.5 185.6,237.9 183.1,238.4 180.6,238.8 178.1,239.1 175.5,239.5 172.4,239.9 169.3,240.3 166.2,240.6 162.7,239.7 160.5,241.8 158.2,243.3 155.7,243.9 153.1,244.5 150.6,245.1 148.0,245.7 145.4,246.3 142.9,246.9 140.3,247.4 137.8,247.9 135.3,248.5 132.8,249.0 130.3,249.5 127.8,250.0 125.3,250.5 122.5,250.9 119.7,251.3 116.8,251.7 114.0,252.0 111.1,252.3 108.3,252.6 105.2,253.3 102.0,253.2 98.2,254.9 95.5,255.2 92.8,255.5 90.1,255.9 87.5,256.3 84.8,256.6 82.1,257.0 79.5,257.4 76.8,257.8 74.1,258.1 71.5,258.4 68.9,258.6 66.3,258.9 63.7,259.1 61.1,259.4 58.5,259.6 55.9,259.9 53.3,260.2 50.7,260.4 48.1,260.7 45.5,260.9"/><polyline points="320.0,109.4 319.2,113.9 317.7,116.1 316.1,118.3 313.7,120.9 311.4,123.7 308.9,126.4 307.2,128.5 305.4,130.7 303.9,132.7 302.3,134.6 300.6,136.5 298.6,141.0 295.9,143.0 293.1,144.8 290.8,145.9 288.5,146.8 286.1,147.7 283.0,148.8 279.7,149.7 276.9,151.5 275.1,153.4 273.3,155.1 271.4,156.8 268.7,158.4 265.9,159.9 263.4,162.2 260.7,164.3 258.6,167.2 256.2,169.9 255.1,172.1 254.2,174.4 253.4,176.8 251.5,178.9 249.7,181.1 247.6,182.8 245.7,184.6 243.8,186.5 242.2,188.5 240.7,191.1 239.2,193.7 237.7,196.3 235.9,198.2 234.0,200.1 232.1,202.1 230.3,204.0 228.2,206.1 226.1,208.3 224.0,210.5 222.0,212.4 219.9,214.3 218.0,216.3 216.4,218.2 214.7,220.1 212.8,221.8 211.0,223.7 209.1,225.5 207.2,227.3 205.6,231.6 203.6,234.6 201.0,235.2 198.4,235.8 195.9,236.4 193.3,236.9 190.7,237.4 188.2,237.9 185.7,238.3 183.2,238.7 180.7,239.1 178.2,239.5 175.6,239.9 172.5,240.3 169.4,240.6 166.2,240.8 162.7,239.7 160.4,241.3 158.1,242.7 155.5,243.2 153.0,243.8 150.4,244.3 147.8,244.9 145.3,245.4 142.7,246.0 140.1,246.5 137.6,247.0 135.1,247.6 132.6,248.1 130.1,248.6 127.6,249.1 125.1,249.6 122.3,250.0 119.5,250.4 116.6,250.8 113.8,251.2 110.9,251.6 108.1,251.9 105.1,252.7 102.0,253.2 98.3,255.4 95.6,255.7 92.9,256.1 90.3,256.5 87.6,256.9 84.9,257.3 82.2,257.7 79.6,258.1 76.9,258.5 74.2,258.9 71.6,259.2 69.0,259.5 66.4,259.7 63.8,260.0 61.2,260.3 58.6,260.5 56.0,260.8 53.4,261.1 50.8,261.3 48.2,261.6 45.6,261.9"/><polyline points="320.0,109.4 318.4,113.3 316.4,115.2 314.6,117.2 312.0,119.6 309.6,122.4 307.2,125.1 305.7,127.4 304.1,129.7 302.9,132.0 301.7,134.2 300.6,136.5 297.9,139.8 294.8,141.2 291.8,142.7 289.5,143.7 287.1,144.7 284.8,145.7 282.0,147.2 279.1,148.7 276.9,151.5 274.7,152.9 272.6,154.3 270.4,155.8 267.6,157.1 264.8,158.5 262.3,160.9 259.8,163.3 258.0,166.6 256.2,169.9 255.5,172.4 254.9,174.9 254.2,177.4 252.4,179.6 250.6,181.8 248.5,183.4 246.3,185.1 244.2,186.8 242.2,188.5 239.9,190.4 238.0,192.6 236.1,194.9 233.9,196.5 231.8,198.2 229.8,200.0 227.8,201.8 225.7,203.9 223.7,206.2 222.0,208.7 220.4,211.0 219.0,213.5 218.0,216.3 216.3,218.2 214.6,220.0 212.8,221.7 210.9,223.6 209.1,225.5 207.2,227.3 204.8,228.9 202.7,231.3 200.0,231.7 197.4,232.1 194.8,232.6 192.2,233.0 189.6,233.5 187.1,233.9 184.6,234.3 182.1,234.8 179.6,235.2 177.1,235.7 174.6,236.2 171.5,236.8 168.5,237.4 165.5,238.1 162.7,239.7 160.2,240.4 157.8,241.5 155.2,241.9 152.6,242.4 150.1,242.9 147.5,243.4 144.9,243.8 142.3,244.3 139.7,244.8 137.2,245.3 134.7,245.8 132.2,246.3 129.7,246.8 127.2,247.3 124.7,247.8 121.9,248.2 119.1,248.6 116.2,249.1 113.4,249.6 110.6,250.1 107.8,250.6 104.8,251.6 102.0,253.2 98.5,256.6 95.8,257.1 93.2,257.6 90.5,258.1 87.8,258.6 85.2,259.0 82.5,259.5 79.9,260.0 77.2,260.4 74.6,260.9 72.0,261.2 69.4,261.5 66.8,261.8 64.2,262.1 61.6,262.4 59.0,262.7 56.4,263.0 53.8,263.3 51.2,263.6 48.6,263.9 46.0,264.2"/><polyline points="320.0,109.4 318.1,113.2 316.1,115.0 314.2,116.9 311.5,119.3 309.1,122.0 306.7,124.8 305.2,127.1 303.8,129.5 302.7,131.8 301.6,134.1 300.6,136.5 298.8,141.3 296.2,143.4 293.5,145.3 291.2,146.4 288.9,147.4 286.4,148.2 283.2,149.2 279.9,149.9 276.9,151.5 274.9,153.1 272.9,154.7 270.8,156.3 268.1,157.7 265.3,159.1 262.8,161.5 260.2,163.7 258.2,166.9 256.2,169.9 255.8,172.6 255.3,175.2 254.8,177.8 253.0,180.0 251.2,182.2 249.0,183.8 246.8,185.4 244.5,187.0 242.2,188.5 239.9,190.4 238.0,192.6 236.1,194.9 233.9,196.5 231.8,198.2 229.8,200.0 227.9,201.9 225.7,204.0 223.7,206.2 222.0,208.7 220.4,211.0 219.0,213.5 218.0,216.3 217.2,219.1 215.9,221.3 214.1,223.0 212.0,224.7 209.8,226.2 207.2,227.3 204.6,228.3 202.5,230.7 199.8,231.0 197.2,231.4 194.6,231.8 192.0,232.2 189.3,232.6 186.8,233.1 184.3,233.5 181.8,233.9 179.4,234.4 176.9,234.9 174.4,235.4 171.3,236.1 168.3,236.8 165.3,237.6 162.7,239.7 160.2,240.4 157.8,241.5 155.2,242.0 152.7,242.4 150.1,242.9 147.5,243.4 144.9,243.9 142.3,244.4 139.7,244.9 137.2,245.3 134.7,245.8 132.2,246.3 129.7,246.8 127.2,247.3 124.7,247.8 121.9,248.2 119.1,248.7 116.3,249.1 113.4,249.6 110.6,250.1 107.8,250.6 104.8,251.6 102.0,253.2 98.2,254.8 95.5,255.1 92.8,255.5 90.1,255.8 87.5,256.2 84.8,256.6 82.1,256.9 79.4,257.3 76.8,257.7 74.1,258.1 71.5,258.3 68.9,258.6 66.3,258.8 63.7,259.1 61.1,259.3 58.5,259.6 55.9,259.8 53.3,260.1 50.7,260.3 48.1,260.6 45.5,260.8"/><polyline points="320.0,109.4 318.7,113.6 316.9,115.6 315.2,117.6 312.7,120.1 310.3,122.9 307.9,125.6 306.3,127.9 304.6,130.1 303.3,132.2 302.0,134.4 300.6,136.5 297.3,138.9 294.0,139.9 290.8,141.1 288.4,142.0 286.1,143.0 283.9,144.2 281.2,145.9 278.6,147.9 276.9,151.5 275.0,153.2 273.0,154.9 271.0,156.5 268.3,157.9 265.5,159.4 263.0,161.7 260.4,163.9 258.3,167.0 256.2,169.9 255.4,172.3 254.7,174.8 254.1,177.3 252.2,179.5 250.4,181.6 248.3,183.3 246.2,185.0 244.2,186.7 242.2,188.5 241.2,191.5 240.0,194.4 238.9,197.3 237.2,199.4 235.5,201.4 233.8,203.5 232.0,205.5 229.9,207.6 227.7,209.7 225.4,211.7 223.0,213.3 220.6,214.9 218.0,216.3 215.5,217.4 213.4,218.9 211.6,220.6 210.0,222.7 208.5,224.9 207.2,227.3 205.1,229.8 202.9,232.4 200.3,232.9 197.7,233.3 195.1,233.8 192.5,234.3 189.9,234.8 187.4,235.2 184.9,235.6 182.4,236.1 179.9,236.5 177.4,236.9 174.9,237.4 171.9,237.9 168.8,238.5 165.7,239.0 162.7,239.7 160.4,241.2 158.1,242.6 155.5,243.1 152.9,243.7 150.4,244.2 147.8,244.8 145.2,245.3 142.7,245.8 140.1,246.4 137.6,246.9 135.1,247.4 132.6,247.9 130.1,248.4 127.6,248.9 125.1,249.4 122.3,249.8 119.4,250.2 116.6,250.6 113.7,251.0 110.9,251.4 108.1,251.8 105.1,252.6 102.0,253.2 98.4,256.5 95.8,257.0 93.1,257.5 90.5,258.0 87.8,258.4 85.2,258.9 82.5,259.3 79.8,259.8 77.2,260.2 74.5,260.7 71.9,261.0 69.3,261.3 66.7,261.6 64.1,261.9 61.5,262.2 59.0,262.5 56.4,262.8 53.8,263.1 51.2,263.4 48.6,263.7 46.0,264.0"/><polyline points="320.0,109.4 318.0,113.1 316.0,114.9 314.0,116.8 311.4,119.2 308.9,121.9 306.6,124.7 305.1,127.0 303.7,129.4 302.6,131.7 301.5,134.1 300.6,136.5 297.5,139.2 294.2,140.3 291.1,141.6 288.7,142.5 286.4,143.5 284.1,144.6 281.4,146.3 278.8,148.1 276.9,151.5 274.7,152.9 272.6,154.4 270.4,155.8 267.6,157.2 264.8,158.6 262.3,160.9 259.8,163.3 258.0,166.6 256.2,169.9 254.6,171.7 253.4,173.8 252.4,176.0 250.3,178.0 248.5,180.2 246.6,182.0 244.8,184.0 243.3,186.1 242.2,188.5 240.5,190.9 239.0,193.5 237.4,196.0 235.5,197.9 233.6,199.7 231.7,201.7 229.8,203.6 227.7,205.7 225.6,207.9 223.6,210.2 221.7,212.1 219.8,214.1 218.0,216.3 216.7,218.6 215.2,220.6 213.3,222.3 211.4,224.1 209.4,225.8 207.2,227.3 204.7,228.7 202.6,231.1 200.0,231.5 197.3,231.9 194.7,232.3 192.1,232.7 189.5,233.2 187.0,233.6 184.5,234.0 182.0,234.5 179.5,234.9 177.0,235.4 174.5,235.9 171.5,236.5 168.4,237.2 165.4,237.9 162.7,239.7 160.5,241.5 158.1,243.0 155.6,243.6 153.0,244.2 150.5,244.7 147.9,245.3 145.4,245.9 142.8,246.4 140.2,247.0 137.7,247.5 135.2,248.0 132.7,248.5 130.2,249.0 127.7,249.5 125.2,250.0 122.4,250.4 119.6,250.8 116.7,251.2 113.9,251.6 111.0,251.9 108.2,252.3 105.1,253.0 102.0,253.2 98.5,257.1 95.9,257.8 93.3,258.3 90.6,258.8 88.0,259.4 85.3,259.8 82.7,260.3 80.0,260.8 77.4,261.3 74.7,261.8 72.1,262.1 69.5,262.4 66.9,262.7 64.3,263.1 61.7,263.4 59.1,263.7 56.6,264.0 54.0,264.3 51.4,264.6 48.8,264.9 46.2,265.2"/><polyline points="320.0,109.4 319.3,114.0 317.8,116.2 316.2,118.3 313.9,121.0 311.5,123.8 309.0,126.5 307.3,128.6 305.5,130.7 304.0,132.7 302.3,134.7 300.6,136.5 298.3,140.5 295.4,142.2 292.5,143.8 290.2,144.9 287.9,145.8 285.5,146.8 282.5,148.0 279.4,149.2 276.9,151.5 274.8,153.0 272.7,154.5 270.6,156.0 267.8,157.4 265.0,158.8 262.5,161.1 260.0,163.5 258.1,166.7 256.2,169.9 255.6,172.4 255.0,175.0 254.4,177.5 252.6,179.7 250.8,181.9 248.6,183.5 246.5,185.2 244.3,186.8 242.2,188.5 240.8,191.2 239.4,193.9 238.1,196.6 236.2,198.5 234.4,200.5 232.6,202.5 230.8,204.4 228.7,206.6 226.5,208.7 224.4,210.9 222.3,212.7 220.1,214.5 218.0,216.3 216.0,217.8 214.1,219.5 212.2,221.2 210.5,223.2 208.8,225.2 207.2,227.3 205.0,229.5 202.9,232.1 200.3,232.6 197.6,233.0 195.0,233.5 192.4,233.9 189.8,234.4 187.3,234.8 184.8,235.3 182.3,235.7 179.8,236.2 177.3,236.6 174.8,237.1 171.8,237.6 168.7,238.2 165.7,238.8 162.7,239.7 160.4,241.1 158.0,242.4 155.5,242.9 152.9,243.5 150.3,244.0 147.7,244.5 145.2,245.1 142.6,245.6 140.0,246.1 137.5,246.6 135.0,247.1 132.5,247.6 130.0,248.1 127.5,248.6 125.0,249.1 122.2,249.5 119.4,250.0 116.5,250.4 113.7,250.8 110.9,251.2 108.0,251.6 105.0,252.4 102.0,253.2 98.2,255.0 95.5,255.4 92.9,255.7 90.2,256.1 87.5,256.5 84.8,256.9 82.2,257.2 79.5,257.6 76.8,258.0 74.2,258.4 71.6,258.7 68.9,258.9 66.3,259.2 63.7,259.4 61.1,259.7 58.5,259.9 55.9,260.2 53.3,260.5 50.7,260.7 48.1,261.0 45.5,261.2"/><polyline points="320.0,109.4 318.2,113.2 316.2,115.1 314.3,117.0 311.6,119.4 309.2,122.1 306.8,124.9 305.3,127.2 303.9,129.5 302.7,131.8 301.6,134.1 300.6,136.5 298.0,140.1 295.0,141.6 292.1,143.1 289.7,144.1 287.4,145.1 285.1,146.1 282.1,147.5 279.2,148.8 276.9,151.5 275.2,153.4 273.3,155.2 271.4,156.9 268.8,158.5 266.0,160.0 263.5,162.2 260.8,164.4 258.6,167.3 256.2,169.9 255.7,172.5 255.2,175.1 254.6,177.7 252.9,179.9 251.1,182.1 248.9,183.7 246.7,185.3 244.4,186.9 242.2,188.5 240.6,191.0 239.1,193.6 237.6,196.2 235.7,198.1 233.9,200.0 232.0,201.9 230.2,203.9 228.0,206.0 225.9,208.2 223.9,210.4 221.9,212.3 219.9,214.3 218.0,216.3 215.8,217.7 213.8,219.3 212.0,221.0 210.3,223.0 208.7,225.1 207.2,227.3 205.2,230.3 203.1,233.0 200.5,233.5 197.9,234.0 195.3,234.5 192.7,235.0 190.1,235.4 187.6,235.9 185.1,236.3 182.6,236.7 180.1,237.2 177.6,237.6 175.1,238.0 172.0,238.5 169.0,239.0 165.9,239.5 162.7,239.7 160.1,239.8 157.7,240.8 155.1,241.2 152.5,241.6 149.9,242.0 147.3,242.4 144.7,242.9 142.1,243.3 139.5,243.8 137.0,244.3 134.5,244.7 132.0,245.2 129.5,245.7 127.0,246.2 124.5,246.7 121.7,247.1 118.8,247.6 116.0,248.1 113.2,248.6 110.4,249.2 107.6,249.8 104.7,250.9 102.0,253.2 98.1,254.3 95.4,254.5 92.7,254.8 90.0,255.1 87.3,255.4 84.7,255.8 82.0,256.1 79.3,256.5 76.6,256.8 74.0,257.2 71.4,257.4 68.7,257.7 66.1,257.9 63.5,258.1 60.9,258.4 58.3,258.6 55.7,258.8 53.1,259.1 50.5,259.3 47.9,259.6 45.3,259.8"/><polyline points="320.0,109.4 318.8,113.6 317.0,115.7 315.3,117.7 312.8,120.2 310.4,123.0 308.0,125.7 306.4,127.9 304.7,130.2 303.4,132.3 302.0,134.4 300.6,136.5 298.7,141.1 296.0,143.1 293.2,144.9 290.9,146.0 288.6,147.0 286.2,147.8 283.0,148.9 279.8,149.7 276.9,151.5 275.5,153.8 273.8,155.8 272.1,157.7 269.6,159.4 266.9,160.9 264.3,163.1 261.5,165.1 259.0,167.7 256.2,169.9 255.4,172.3 254.6,174.7 254.0,177.2 252.1,179.3 250.3,181.5 248.2,183.2 246.1,184.9 244.1,186.7 242.2,188.5 240.9,191.2 239.5,194.0 238.2,196.7 236.4,198.7 234.6,200.6 232.8,202.6 231.0,204.6 228.9,206.7 226.7,208.9 224.6,211.0 222.4,212.8 220.2,214.5 218.0,216.3 216.3,218.2 214.5,219.9 212.7,221.7 210.9,223.6 209.1,225.5 207.2,227.3 205.3,230.8 203.3,233.6 200.7,234.1 198.1,234.7 195.5,235.2 192.9,235.7 190.3,236.2 187.8,236.7 185.3,237.1 182.8,237.5 180.3,237.9 177.8,238.3 175.3,238.7 172.2,239.2 169.1,239.6 166.0,240.0 162.7,239.7 160.4,241.4 158.1,242.8 155.5,243.4 153.0,243.9 150.4,244.5 147.9,245.1 145.3,245.6 142.7,246.2 140.2,246.7 137.7,247.2 135.2,247.7 132.7,248.2 130.2,248.7 127.7,249.2 125.2,249.7 122.3,250.2 119.5,250.6 116.7,250.9 113.8,251.3 111.0,251.7 108.1,252.1 105.1,252.8 102.0,253.2 98.1,254.6 95.4,254.8 92.8,255.1 90.1,255.5 87.4,255.8 84.7,256.2 82.1,256.5 79.4,256.9 76.7,257.3 74.0,257.6 71.4,257.9 68.8,258.1 66.2,258.4 63.6,258.6 61.0,258.8 58.4,259.1 55.8,259.3 53.2,259.6 50.6,259.8 48.0,260.1 45.4,260.3"/><polyline points="320.0,109.4 319.2,113.9 317.6,116.1 316.0,118.2 313.7,120.8 311.3,123.6 308.9,126.3 307.2,128.5 305.4,130.6 303.9,132.6 302.3,134.6 300.6,136.5 298.1,140.1 295.1,141.7 292.1,143.2 289.8,144.2 287.5,145.2 285.1,146.2 282.2,147.5 279.3,148.9 276.9,151.5 274.9,153.1 272.8,154.7 270.8,156.2 268.0,157.6 265.2,159.1 262.7,161.4 260.2,163.7 258.2,166.8 256.2,169.9 255.2,172.2 254.4,174.5 253.7,177.0 251.8,179.1 250.0,181.3 247.9,183.0 245.9,184.7 244.0,186.6 242.2,188.5 241.0,191.4 239.8,194.2 238.6,197.1 236.9,199.1 235.1,201.1 233.4,203.1 231.6,205.1 229.5,207.3 227.3,209.4 225.1,211.4 222.8,213.1 220.4,214.7 218.0,216.3 215.8,217.7 213.8,219.3 212.0,221.0 210.3,223.0 208.7,225.1 207.2,227.3 205.1,229.9 203.0,232.5 200.4,233.0 197.8,233.5 195.2,234.0 192.6,234.4 190.0,234.9 187.5,235.3 185.0,235.8 182.5,236.2 180.0,236.6 177.5,237.1 175.0,237.5 171.9,238.0 168.8,238.6 165.8,239.1 162.7,239.7 160.3,240.9 158.0,242.2 155.4,242.7 152.8,243.2 150.2,243.7 147.7,244.2 145.1,244.7 142.5,245.3 140.0,245.8 137.5,246.3 135.0,246.8 132.5,247.3 130.0,247.8 127.5,248.3 125.0,248.8 122.1,249.2 119.3,249.6 116.5,250.0 113.6,250.5 110.8,250.9 108.0,251.3 105.0,252.2 102.0,253.2 98.2,255.2 95.6,255.5 92.9,255.9 90.2,256.3 87.5,256.7 84.9,257.0 82.2,257.4 79.5,257.8 76.9,258.2 74.2,258.6 71.6,258.9 69.0,259.1 66.4,259.4 63.8,259.6 61.2,259.9 58.6,260.2 56.0,260.4 53.4,260.7 50.8,261.0 48.2,261.2 45.6,261.5"/><polyline points="320.0,109.4 318.7,113.6 316.9,115.6 315.1,117.6 312.6,120.1 310.3,122.9 307.8,125.6 306.2,127.8 304.6,130.1 303.3,132.2 301.9,134.4 300.6,136.5 297.1,138.6 293.7,139.4 290.4,140.5 288.0,141.3 285.7,142.4 283.5,143.6 280.9,145.4 278.4,147.6 276.9,151.5 274.2,152.4 271.8,153.4 269.4,154.6 266.4,155.8 263.5,157.1 261.1,159.5 258.8,162.2 257.4,165.9 256.2,169.9 255.6,172.5 255.1,175.0 254.5,177.6 252.7,179.8 250.9,182.0 248.8,183.6 246.6,185.3 244.4,186.9 242.2,188.5 240.4,190.9 238.8,193.3 237.2,195.8 235.2,197.6 233.3,199.5 231.4,201.4 229.5,203.3 227.3,205.4 225.3,207.6 223.4,209.9 221.4,211.9 219.6,214.0 218.0,216.3 217.2,219.1 215.9,221.3 214.0,223.0 212.0,224.7 209.8,226.2 207.2,227.3 205.0,229.6 202.9,232.2 200.3,232.6 197.7,233.1 195.1,233.6 192.5,234.0 189.9,234.5 187.4,234.9 184.9,235.4 182.4,235.8 179.9,236.2 177.4,236.7 174.9,237.1 171.8,237.7 168.7,238.3 165.7,238.8 162.7,239.7 160.2,240.4 157.8,241.5 155.2,241.9 152.6,242.4 150.1,242.9 147.5,243.3 144.9,243.8 142.3,244.3 139.7,244.8 137.2,245.3 134.7,245.8 132.2,246.3 129.7,246.8 127.2,247.3 124.7,247.8 121.9,248.2 119.1,248.6 116.2,249.1 113.4,249.6 110.6,250.1 107.8,250.6 104.8,251.6 102.0,253.2 98.3,255.6 95.6,256.0 93.0,256.4 90.3,256.8 87.6,257.3 85.0,257.7 82.3,258.1 79.6,258.5 77.0,258.9 74.3,259.3 71.7,259.6 69.1,259.9 66.5,260.1 63.9,260.4 61.3,260.7 58.7,261.0 56.1,261.2 53.5,261.5 50.9,261.8 48.3,262.0 45.7,262.3"/></g>
<polyline points="320,109.4 318.6,113.5 315,117.5 312.5,120 307.7,125.5 304.5,130 300.6,136.5 298,140 292,143 285,146 279.2,148.8 276.9,151.5 270.6,156 265,158.8 260,163.5 256.2,169.9 254.5,177.6 250.9,182 242.2,188.5 238.2,196.7 231,204.6 224.6,211 218,216.3 212.5,221.5 207.2,227.3 203,232.6 190,235 175,237.6 162.7,239.7 158,242.3 140,246 125,249 108,251.5 102,253.2 98.3,255.6 74.3,259.3 45.7,262.3" fill="none" stroke="#000" stroke-width="0.8" stroke-opacity="0.45" stroke-linejoin="round"/></g>
<defs><linearGradient id="fan" x1="0" y1="0" x2="1" y2="0"><stop offset="0" stop-color="#000" stop-opacity="0.85"/><stop offset="1" stop-color="#000" stop-opacity="0.05"/></linearGradient></defs>
<polygon points="319.5,108.7 331,109.4 323,114" fill="url(#fan)" filter="url(#bl)"/>
<circle cx="333.8" cy="109.9" r="0.6" fill="#aaa"/><circle cx="338.4" cy="109.4" r="0.6" fill="#666"/>
<line x1="319.8" y1="111" x2="317" y2="115" stroke="#3232c8" stroke-width="1.5" stroke-linecap="round"/>
<line x1="309.5" y1="124" x2="306.8" y2="127.3" stroke="#3232c8" stroke-width="1.6" stroke-linecap="round"/>
<line x1="301.5" y1="134.5" x2="298.6" y2="138.3" stroke="#3232c8" stroke-width="1.6" stroke-linecap="round"/>
<line x1="279" y1="150.6" x2="276" y2="153" stroke="#3232c8" stroke-width="1.6" stroke-linecap="round"/>
<line x1="257.5" y1="168" x2="255.2" y2="171.8" stroke="#3232c8" stroke-width="1.6" stroke-linecap="round"/>
<line x1="243.5" y1="187.8" x2="240.5" y2="190.6" stroke="#3232c8" stroke-width="1.7" stroke-linecap="round"/>
<line x1="209.5" y1="225.3" x2="205.5" y2="228.6" stroke="#3232c8" stroke-width="1.8" stroke-linecap="round"/>
<line x1="165.5" y1="238.8" x2="160.5" y2="240.8" stroke="#3232c8" stroke-width="1.6" stroke-linecap="round"/>
<line x1="109.5" y1="251.2" x2="98.5" y2="254.3" stroke="#3232c8" stroke-width="1.6" stroke-linecap="round"/>
<line x1="312.5" y1="110.3" x2="312.5" y2="127.6" stroke="#3232c8" stroke-width="0.6"/>
<polygon points="260.4,178.1 261.59999999999997,180.4 260.4,182.70000000000002 259.2,180.4" fill="#8a6060" stroke="#1a0808" stroke-width="0.8" stroke-linejoin="round"/>
<polygon points="261.5,213.5 262.7,215.8 261.5,218.10000000000002 260.3,215.8" fill="#8a6060" stroke="#1a0808" stroke-width="0.8" stroke-linejoin="round"/>
<polygon points="283.5,207.5 284.7,209.8 283.5,212.10000000000002 282.3,209.8" fill="#8a6060" stroke="#1a0808" stroke-width="0.8" stroke-linejoin="round"/>
<polygon points="322.5,197.0 323.7,199.3 322.5,201.60000000000002 321.3,199.3" fill="#8a6060" stroke="#1a0808" stroke-width="0.8" stroke-linejoin="round"/>
</svg></body></html>
